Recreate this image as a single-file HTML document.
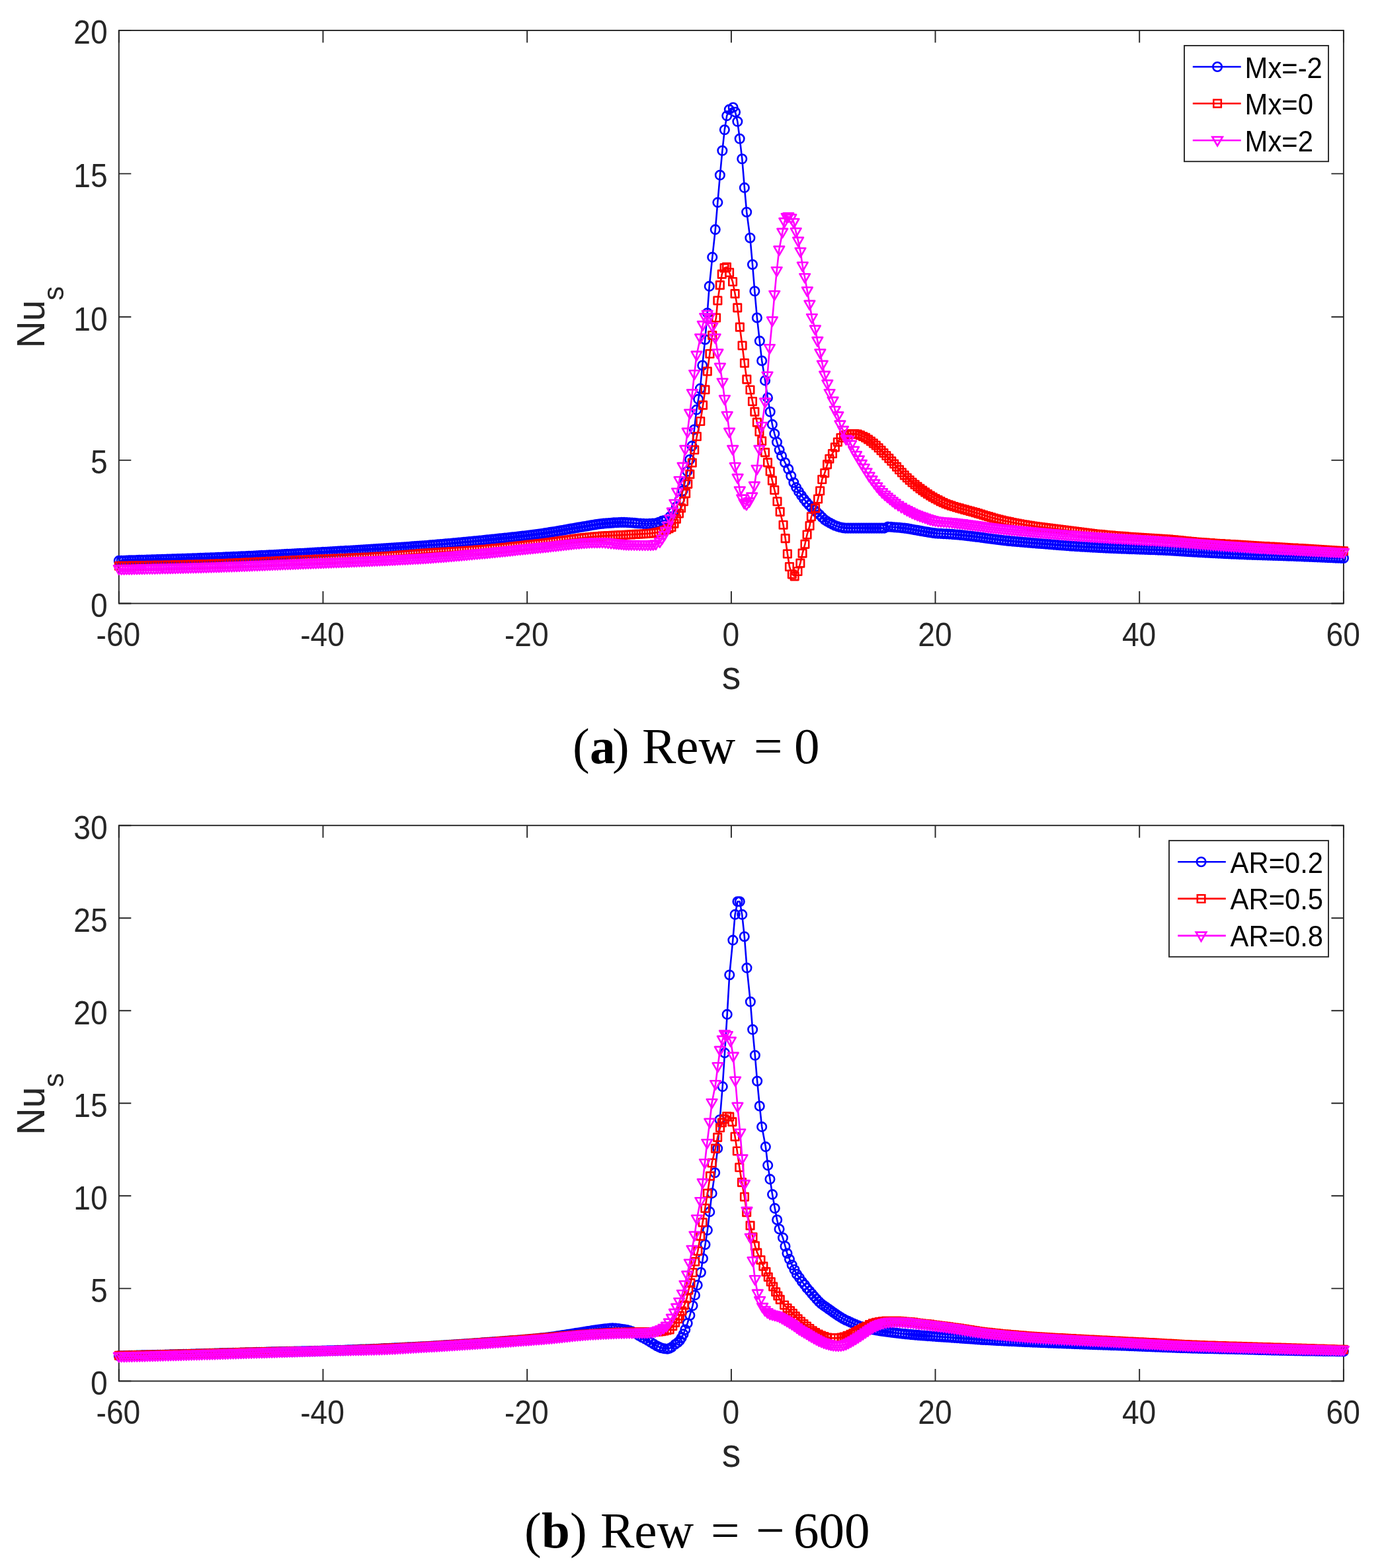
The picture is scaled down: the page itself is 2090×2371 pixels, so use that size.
<!DOCTYPE html>
<html lang="en">
<head>
<meta charset="utf-8">
<title>Nu_s versus s</title>
<style>
html,body{margin:0;padding:0;background:#fff;}
body{width:2090px;height:2371px;overflow:hidden;}
svg{display:block;}
text{font-family:"Liberation Sans",sans-serif;}
.tk{font-size:46.2px;fill:#262626;}
.lb{font-size:57.0px;fill:#262626;}
.sb{font-size:42.8px;}
.lg{font-size:41.8px;fill:#000;}
.cap{font-family:"Liberation Serif",serif;font-size:77px;fill:#000;}
.cap .b{font-weight:bold;}
</style>
</head>
<body>
<svg xmlns="http://www.w3.org/2000/svg" width="2090" height="2371" viewBox="0 0 2090 2371">
<rect width="2090" height="2371" fill="#fff"/>
<g stroke="#262626" stroke-width="1.9" fill="none" stroke-linecap="butt">
<rect x="179.8" y="46.0" width="1852.1" height="866.5"/>
<path d="M179.8 912.5v-18.5M179.8 46.0v18.5M488.5 912.5v-18.5M488.5 46.0v18.5M797.2 912.5v-18.5M797.2 46.0v18.5M1105.9 912.5v-18.5M1105.9 46.0v18.5M1414.5 912.5v-18.5M1414.5 46.0v18.5M1723.2 912.5v-18.5M1723.2 46.0v18.5M2031.9 912.5v-18.5M2031.9 46.0v18.5M179.8 912.5h18.5M2031.9 912.5h-18.5M179.8 695.9h18.5M2031.9 695.9h-18.5M179.8 479.2h18.5M2031.9 479.2h-18.5M179.8 262.6h18.5M2031.9 262.6h-18.5M179.8 46h18.5M2031.9 46h-18.5"/>
</g>
<text class="tk" transform="translate(178.9 976.6) scale(1.0 1.065)" text-anchor="middle">-60</text>
<text class="tk" transform="translate(487.6 976.6) scale(1.0 1.065)" text-anchor="middle">-40</text>
<text class="tk" transform="translate(796.3 976.6) scale(1.0 1.065)" text-anchor="middle">-20</text>
<text class="tk" transform="translate(1105.3 976.6) scale(1.0 1.065)" text-anchor="middle">0</text>
<text class="tk" transform="translate(1413.9 976.6) scale(1.0 1.065)" text-anchor="middle">20</text>
<text class="tk" transform="translate(1722.6 976.6) scale(1.0 1.065)" text-anchor="middle">40</text>
<text class="tk" transform="translate(2031.3 976.6) scale(1.0 1.065)" text-anchor="middle">60</text>
<text class="tk" transform="translate(162.7 932.9) scale(1.0 1.065)" text-anchor="end">0</text>
<text class="tk" transform="translate(162.7 716.3) scale(1.0 1.065)" text-anchor="end">5</text>
<text class="tk" transform="translate(162.7 499.6) scale(1.0 1.065)" text-anchor="end">10</text>
<text class="tk" transform="translate(162.7 283) scale(1.0 1.065)" text-anchor="end">15</text>
<text class="tk" transform="translate(162.7 66.4) scale(1.0 1.065)" text-anchor="end">20</text>
<text class="lb" transform="translate(1105.9 1041.8) scale(1.0 1.065)" text-anchor="middle">s</text>
<text class="lb" transform="translate(66.9 526.6) rotate(-90) scale(1.0 1.03)">Nu<tspan class="sb" dx="-0.4" dy="27.9">s</tspan></text>
<g stroke="#0000ff" stroke-width="2.6" fill="none" stroke-linejoin="round"><path d="M179.8 847.9L183.7 847.8L187.5 847.7L191.4 847.6L195.2 847.4L199.1 847.3L203 847.2L206.8 847.1L210.7 846.9L214.5 846.8L218.4 846.7L222.2 846.6L226.1 846.5L230 846.3L233.8 846.2L237.7 846.1L241.5 846L245.4 845.8L249.3 845.7L253.1 845.6L257 845.5L260.8 845.4L264.7 845.2L268.5 845.1L272.4 845L276.3 844.8L280.1 844.7L284 844.6L287.8 844.5L291.7 844.3L295.6 844.2L299.4 844.1L303.3 843.9L307.1 843.8L311 843.6L314.8 843.5L318.7 843.4L322.6 843.2L326.4 843.1L330.3 842.9L334.1 842.7L338 842.6L341.9 842.4L345.7 842.3L349.6 842.1L353.4 841.9L357.3 841.8L361.2 841.6L365 841.4L368.9 841.2L372.7 841.1L376.6 840.9L380.4 840.7L384.3 840.5L388.2 840.3L392 840.1L395.9 839.9L399.7 839.8L403.6 839.6L407.5 839.4L411.3 839.2L415.2 839L419 838.8L422.9 838.6L426.7 838.4L430.6 838.1L434.5 837.9L438.3 837.7L442.2 837.5L446 837.3L449.9 837.1L453.8 836.9L457.6 836.7L461.5 836.5L465.3 836.3L469.2 836L473 835.8L476.9 835.6L480.8 835.4L484.6 835.2L488.5 834.9L492.3 834.7L496.2 834.5L500.1 834.3L503.9 834.1L507.8 833.8L511.6 833.6L515.5 833.4L519.4 833.2L523.2 832.9L527.1 832.7L530.9 832.5L534.8 832.3L538.6 832L542.5 831.8L546.4 831.6L550.2 831.3L554.1 831.1L557.9 830.8L561.8 830.6L565.7 830.3L569.5 830.1L573.4 829.9L577.2 829.6L581.1 829.4L584.9 829.1L588.8 828.8L592.7 828.6L596.5 828.3L600.4 828.1L604.2 827.8L608.1 827.5L612 827.3L615.8 827L619.7 826.7L623.5 826.4L627.4 826.1L631.2 825.9L635.1 825.6L639 825.3L642.8 825L646.8 824.7L650.7 824.4L654.6 824.1L658.5 823.7L662.5 823.4L666.4 823.1L670.3 822.7L674.3 822.4L678.2 822.1L682.1 821.7L686 821.3L690 821L693.9 820.6L697.8 820.3L701.8 819.9L705.7 819.5L709.6 819.1L713.5 818.7L717.5 818.4L721.4 818L725.3 817.6L729.3 817.2L733.1 816.8L736.9 816.4L740.7 816L744.6 815.6L748.4 815.2L752.2 814.8L756 814.4L759.9 814L763.7 813.6L767.5 813.2L771.3 812.8L775.2 812.4L779 812L782.8 811.5L786.6 811.1L790.5 810.6L794.3 810.2L798.1 809.7L801.9 809.2L805.8 808.7L809.6 808.2L813.4 807.7L817.2 807.2L821 806.7L824.9 806.1L828.7 805.5L832.5 804.9L836.3 804.3L840.1 803.7L843.9 803L847.7 802.3L851.5 801.7L855.4 801L859.2 800.3L863 799.6L866.8 799L870.6 798.3L874.4 797.6L878.2 797L882.1 796.4L885.9 795.7L889.8 795.1L893.6 794.4L897.5 793.7L901.3 793.1L905.2 792.5L909.1 792L912.9 791.6L916.8 791.3L920.6 791L924.5 790.7L928.4 790.4L932.2 790.2L936.1 790L939.9 789.9L943.8 789.9L947.8 790L951.8 790.2L955.8 790.5L959.8 790.9L963.9 791.2L968.5 791.5L973.1 791.9L977.7 792.1L982.4 791.9L987 791.6L991.6 791.2L996.3 789.8L1001.1 787.9L1004.5 787.1L1008 786L1013.4 781.2L1018.2 774.3L1023 766.1L1027.8 755.7L1032.5 742.2L1036 728.4L1039.5 712.8L1043.2 695L1046.6 674.4L1050 649.5L1053.4 619.6L1056.2 603.6L1058.9 587.6L1062.2 552.5L1066.3 513.5L1069.7 473.2L1072.7 432.9L1077.3 388.9L1081.8 347.1L1085.3 306.1L1088.9 264.8L1092.4 227.8L1095.8 196.3L1099.2 175.1L1102.9 165.6L1108.7 162.5L1112 169.5L1115.3 183.8L1118.7 209.8L1122.3 240.3L1125.9 283.9L1129.2 320.7L1134.4 359.7L1138 400L1141.3 440.3L1144.9 480.5L1148.8 515.6L1152.2 545.5L1157.1 575.4L1160.9 601.4L1164.7 622.7L1167.9 641.9L1171.3 656L1175 668.6L1178.7 680.3L1182.1 689.4L1187.2 699.5L1192.3 709.3L1196.3 719.6L1200.3 729.7L1204.2 737.1L1208 743.5L1212 749.3L1215.9 754.6L1219.8 759.5L1223.6 763.9L1227.5 767.7L1231.5 771.3L1235.4 774.7L1239.4 778.2L1243.3 782.3L1247.2 786L1251.2 788.6L1255.1 790.8L1259 792.9L1262.8 794.7L1266.8 796.1L1270.7 797.3L1274.6 798.1L1278.6 798.6L1282.5 798.6L1286.5 798.6L1290.5 798.6L1294.5 798.6L1298.5 798.6L1302.5 798.6L1306.5 798.6L1310.4 798.6L1314.2 798.6L1318.1 798.6L1321.9 798.6L1325.8 798.6L1329.6 798.6L1333.5 798.6L1337.4 798.6L1342.8 796.6L1347.5 796.8L1352.2 797.3L1356.1 797.5L1360 797.8L1363.9 798.2L1367.8 798.6L1371.7 799.1L1375.6 799.7L1379.5 800.5L1383.4 801.2L1387.3 801.9L1391.2 802.6L1395.2 803.3L1399.1 804L1403 804.6L1406.8 805.3L1410.7 805.9L1414.5 806.4L1418.8 806.7L1423 806.9L1427.2 807.2L1431.4 807.4L1435.6 807.6L1439.8 807.9L1443.8 808.2L1447.7 808.5L1451.7 808.9L1455.6 809.3L1459.6 809.7L1463.5 810.2L1467.5 810.6L1471.4 811.1L1475.3 811.6L1479.3 812L1483.2 812.6L1487.2 813.1L1491.1 813.7L1495.1 814.2L1499 814.8L1503 815.3L1506.9 815.8L1510.8 816.3L1514.8 816.8L1518.8 817.2L1522.7 817.6L1526.7 818L1530.6 818.4L1534.6 818.7L1538.6 819.1L1542.5 819.4L1546.5 819.8L1550.4 820.1L1554.4 820.4L1558.3 820.8L1562.3 821.1L1566.2 821.4L1570.2 821.7L1574.1 822L1578 822.3L1582 822.6L1585.9 822.9L1589.9 823.2L1593.8 823.6L1597.8 823.9L1601.7 824.2L1605.7 824.5L1609.6 824.8L1613.5 825.1L1617.5 825.4L1621.4 825.7L1625.4 825.9L1629.3 826.2L1633.3 826.4L1637.2 826.7L1641.2 826.9L1645.1 827.1L1649 827.4L1653 827.6L1656.9 827.8L1660.9 828L1664.8 828.2L1668.8 828.4L1672.7 828.6L1676.7 828.8L1680.6 829L1684.5 829.1L1688.5 829.3L1692.4 829.5L1696.4 829.6L1700.3 829.8L1704.3 829.9L1708.2 830.1L1712.2 830.2L1716.1 830.3L1720 830.5L1724 830.6L1727.9 830.8L1731.9 830.9L1735.9 831L1739.8 831.2L1743.8 831.3L1747.8 831.4L1751.7 831.6L1755.7 831.7L1759.6 831.9L1763.6 832.1L1767.6 832.3L1771.5 832.5L1775.5 832.8L1779.5 833L1783.4 833.2L1787.4 833.5L1791.4 833.8L1795.3 834L1799.3 834.3L1803.3 834.5L1807.2 834.7L1811.2 834.9L1815.1 835.2L1819.1 835.4L1823 835.6L1827 835.8L1830.9 836L1834.9 836.2L1838.8 836.4L1842.7 836.6L1846.7 836.8L1850.6 837L1854.6 837.2L1858.5 837.4L1862.5 837.6L1866.4 837.7L1870.4 837.9L1874.3 838.1L1878.2 838.3L1882.2 838.4L1886.1 838.6L1890.1 838.7L1894 838.9L1898 839L1901.9 839.1L1905.9 839.3L1909.8 839.4L1913.7 839.5L1917.7 839.6L1921.6 839.8L1925.6 839.9L1929.5 840L1933.5 840.1L1937.4 840.3L1941.4 840.4L1945.3 840.5L1949.2 840.7L1953.2 840.8L1957.1 840.9L1961.1 841.1L1965 841.2L1968.9 841.4L1972.9 841.6L1976.8 841.7L1980.7 841.9L1984.7 842L1988.6 842.2L1992.5 842.4L1996.5 842.5L2000.4 842.7L2004.4 842.9L2008.3 843.1L2012.2 843.2L2016.2 843.4L2020.1 843.6L2024 843.7L2028 843.9L2031.9 844"/><path d="M173.1 847.9a6.75 6.75 0 1 0 13.5 0a6.75 6.75 0 1 0 -13.5 0zM176.9 847.8a6.75 6.75 0 1 0 13.5 0a6.75 6.75 0 1 0 -13.5 0zM180.8 847.7a6.75 6.75 0 1 0 13.5 0a6.75 6.75 0 1 0 -13.5 0zM184.6 847.6a6.75 6.75 0 1 0 13.5 0a6.75 6.75 0 1 0 -13.5 0zM188.5 847.4a6.75 6.75 0 1 0 13.5 0a6.75 6.75 0 1 0 -13.5 0zM192.3 847.3a6.75 6.75 0 1 0 13.5 0a6.75 6.75 0 1 0 -13.5 0zM196.2 847.2a6.75 6.75 0 1 0 13.5 0a6.75 6.75 0 1 0 -13.5 0zM200.1 847.1a6.75 6.75 0 1 0 13.5 0a6.75 6.75 0 1 0 -13.5 0zM203.9 846.9a6.75 6.75 0 1 0 13.5 0a6.75 6.75 0 1 0 -13.5 0zM207.8 846.8a6.75 6.75 0 1 0 13.5 0a6.75 6.75 0 1 0 -13.5 0zM211.6 846.7a6.75 6.75 0 1 0 13.5 0a6.75 6.75 0 1 0 -13.5 0zM215.5 846.6a6.75 6.75 0 1 0 13.5 0a6.75 6.75 0 1 0 -13.5 0zM219.4 846.5a6.75 6.75 0 1 0 13.5 0a6.75 6.75 0 1 0 -13.5 0zM223.2 846.3a6.75 6.75 0 1 0 13.5 0a6.75 6.75 0 1 0 -13.5 0zM227.1 846.2a6.75 6.75 0 1 0 13.5 0a6.75 6.75 0 1 0 -13.5 0zM230.9 846.1a6.75 6.75 0 1 0 13.5 0a6.75 6.75 0 1 0 -13.5 0zM234.8 846a6.75 6.75 0 1 0 13.5 0a6.75 6.75 0 1 0 -13.5 0zM238.6 845.8a6.75 6.75 0 1 0 13.5 0a6.75 6.75 0 1 0 -13.5 0zM242.5 845.7a6.75 6.75 0 1 0 13.5 0a6.75 6.75 0 1 0 -13.5 0zM246.4 845.6a6.75 6.75 0 1 0 13.5 0a6.75 6.75 0 1 0 -13.5 0zM250.2 845.5a6.75 6.75 0 1 0 13.5 0a6.75 6.75 0 1 0 -13.5 0zM254.1 845.4a6.75 6.75 0 1 0 13.5 0a6.75 6.75 0 1 0 -13.5 0zM257.9 845.2a6.75 6.75 0 1 0 13.5 0a6.75 6.75 0 1 0 -13.5 0zM261.8 845.1a6.75 6.75 0 1 0 13.5 0a6.75 6.75 0 1 0 -13.5 0zM265.7 845a6.75 6.75 0 1 0 13.5 0a6.75 6.75 0 1 0 -13.5 0zM269.5 844.8a6.75 6.75 0 1 0 13.5 0a6.75 6.75 0 1 0 -13.5 0zM273.4 844.7a6.75 6.75 0 1 0 13.5 0a6.75 6.75 0 1 0 -13.5 0zM277.2 844.6a6.75 6.75 0 1 0 13.5 0a6.75 6.75 0 1 0 -13.5 0zM281.1 844.5a6.75 6.75 0 1 0 13.5 0a6.75 6.75 0 1 0 -13.5 0zM284.9 844.3a6.75 6.75 0 1 0 13.5 0a6.75 6.75 0 1 0 -13.5 0zM288.8 844.2a6.75 6.75 0 1 0 13.5 0a6.75 6.75 0 1 0 -13.5 0zM292.7 844.1a6.75 6.75 0 1 0 13.5 0a6.75 6.75 0 1 0 -13.5 0zM296.5 843.9a6.75 6.75 0 1 0 13.5 0a6.75 6.75 0 1 0 -13.5 0zM300.4 843.8a6.75 6.75 0 1 0 13.5 0a6.75 6.75 0 1 0 -13.5 0zM304.2 843.6a6.75 6.75 0 1 0 13.5 0a6.75 6.75 0 1 0 -13.5 0zM308.1 843.5a6.75 6.75 0 1 0 13.5 0a6.75 6.75 0 1 0 -13.5 0zM312 843.4a6.75 6.75 0 1 0 13.5 0a6.75 6.75 0 1 0 -13.5 0zM315.8 843.2a6.75 6.75 0 1 0 13.5 0a6.75 6.75 0 1 0 -13.5 0zM319.7 843.1a6.75 6.75 0 1 0 13.5 0a6.75 6.75 0 1 0 -13.5 0zM323.5 842.9a6.75 6.75 0 1 0 13.5 0a6.75 6.75 0 1 0 -13.5 0zM327.4 842.7a6.75 6.75 0 1 0 13.5 0a6.75 6.75 0 1 0 -13.5 0zM331.3 842.6a6.75 6.75 0 1 0 13.5 0a6.75 6.75 0 1 0 -13.5 0zM335.1 842.4a6.75 6.75 0 1 0 13.5 0a6.75 6.75 0 1 0 -13.5 0zM339 842.3a6.75 6.75 0 1 0 13.5 0a6.75 6.75 0 1 0 -13.5 0zM342.8 842.1a6.75 6.75 0 1 0 13.5 0a6.75 6.75 0 1 0 -13.5 0zM346.7 841.9a6.75 6.75 0 1 0 13.5 0a6.75 6.75 0 1 0 -13.5 0zM350.5 841.8a6.75 6.75 0 1 0 13.5 0a6.75 6.75 0 1 0 -13.5 0zM354.4 841.6a6.75 6.75 0 1 0 13.5 0a6.75 6.75 0 1 0 -13.5 0zM358.3 841.4a6.75 6.75 0 1 0 13.5 0a6.75 6.75 0 1 0 -13.5 0zM362.1 841.2a6.75 6.75 0 1 0 13.5 0a6.75 6.75 0 1 0 -13.5 0zM366 841.1a6.75 6.75 0 1 0 13.5 0a6.75 6.75 0 1 0 -13.5 0zM369.8 840.9a6.75 6.75 0 1 0 13.5 0a6.75 6.75 0 1 0 -13.5 0zM373.7 840.7a6.75 6.75 0 1 0 13.5 0a6.75 6.75 0 1 0 -13.5 0zM377.6 840.5a6.75 6.75 0 1 0 13.5 0a6.75 6.75 0 1 0 -13.5 0zM381.4 840.3a6.75 6.75 0 1 0 13.5 0a6.75 6.75 0 1 0 -13.5 0zM385.3 840.1a6.75 6.75 0 1 0 13.5 0a6.75 6.75 0 1 0 -13.5 0zM389.1 839.9a6.75 6.75 0 1 0 13.5 0a6.75 6.75 0 1 0 -13.5 0zM393 839.8a6.75 6.75 0 1 0 13.5 0a6.75 6.75 0 1 0 -13.5 0zM396.8 839.6a6.75 6.75 0 1 0 13.5 0a6.75 6.75 0 1 0 -13.5 0zM400.7 839.4a6.75 6.75 0 1 0 13.5 0a6.75 6.75 0 1 0 -13.5 0zM404.6 839.2a6.75 6.75 0 1 0 13.5 0a6.75 6.75 0 1 0 -13.5 0zM408.4 839a6.75 6.75 0 1 0 13.5 0a6.75 6.75 0 1 0 -13.5 0zM412.3 838.8a6.75 6.75 0 1 0 13.5 0a6.75 6.75 0 1 0 -13.5 0zM416.1 838.6a6.75 6.75 0 1 0 13.5 0a6.75 6.75 0 1 0 -13.5 0zM420 838.4a6.75 6.75 0 1 0 13.5 0a6.75 6.75 0 1 0 -13.5 0zM423.9 838.1a6.75 6.75 0 1 0 13.5 0a6.75 6.75 0 1 0 -13.5 0zM427.7 837.9a6.75 6.75 0 1 0 13.5 0a6.75 6.75 0 1 0 -13.5 0zM431.6 837.7a6.75 6.75 0 1 0 13.5 0a6.75 6.75 0 1 0 -13.5 0zM435.4 837.5a6.75 6.75 0 1 0 13.5 0a6.75 6.75 0 1 0 -13.5 0zM439.3 837.3a6.75 6.75 0 1 0 13.5 0a6.75 6.75 0 1 0 -13.5 0zM443.1 837.1a6.75 6.75 0 1 0 13.5 0a6.75 6.75 0 1 0 -13.5 0zM447 836.9a6.75 6.75 0 1 0 13.5 0a6.75 6.75 0 1 0 -13.5 0zM450.9 836.7a6.75 6.75 0 1 0 13.5 0a6.75 6.75 0 1 0 -13.5 0zM454.7 836.5a6.75 6.75 0 1 0 13.5 0a6.75 6.75 0 1 0 -13.5 0zM458.6 836.3a6.75 6.75 0 1 0 13.5 0a6.75 6.75 0 1 0 -13.5 0zM462.4 836a6.75 6.75 0 1 0 13.5 0a6.75 6.75 0 1 0 -13.5 0zM466.3 835.8a6.75 6.75 0 1 0 13.5 0a6.75 6.75 0 1 0 -13.5 0zM470.2 835.6a6.75 6.75 0 1 0 13.5 0a6.75 6.75 0 1 0 -13.5 0zM474 835.4a6.75 6.75 0 1 0 13.5 0a6.75 6.75 0 1 0 -13.5 0zM477.9 835.2a6.75 6.75 0 1 0 13.5 0a6.75 6.75 0 1 0 -13.5 0zM481.7 834.9a6.75 6.75 0 1 0 13.5 0a6.75 6.75 0 1 0 -13.5 0zM485.6 834.7a6.75 6.75 0 1 0 13.5 0a6.75 6.75 0 1 0 -13.5 0zM489.5 834.5a6.75 6.75 0 1 0 13.5 0a6.75 6.75 0 1 0 -13.5 0zM493.3 834.3a6.75 6.75 0 1 0 13.5 0a6.75 6.75 0 1 0 -13.5 0zM497.2 834.1a6.75 6.75 0 1 0 13.5 0a6.75 6.75 0 1 0 -13.5 0zM501 833.8a6.75 6.75 0 1 0 13.5 0a6.75 6.75 0 1 0 -13.5 0zM504.9 833.6a6.75 6.75 0 1 0 13.5 0a6.75 6.75 0 1 0 -13.5 0zM508.7 833.4a6.75 6.75 0 1 0 13.5 0a6.75 6.75 0 1 0 -13.5 0zM512.6 833.2a6.75 6.75 0 1 0 13.5 0a6.75 6.75 0 1 0 -13.5 0zM516.5 832.9a6.75 6.75 0 1 0 13.5 0a6.75 6.75 0 1 0 -13.5 0zM520.3 832.7a6.75 6.75 0 1 0 13.5 0a6.75 6.75 0 1 0 -13.5 0zM524.2 832.5a6.75 6.75 0 1 0 13.5 0a6.75 6.75 0 1 0 -13.5 0zM528 832.3a6.75 6.75 0 1 0 13.5 0a6.75 6.75 0 1 0 -13.5 0zM531.9 832a6.75 6.75 0 1 0 13.5 0a6.75 6.75 0 1 0 -13.5 0zM535.8 831.8a6.75 6.75 0 1 0 13.5 0a6.75 6.75 0 1 0 -13.5 0zM539.6 831.6a6.75 6.75 0 1 0 13.5 0a6.75 6.75 0 1 0 -13.5 0zM543.5 831.3a6.75 6.75 0 1 0 13.5 0a6.75 6.75 0 1 0 -13.5 0zM547.3 831.1a6.75 6.75 0 1 0 13.5 0a6.75 6.75 0 1 0 -13.5 0zM551.2 830.8a6.75 6.75 0 1 0 13.5 0a6.75 6.75 0 1 0 -13.5 0zM555 830.6a6.75 6.75 0 1 0 13.5 0a6.75 6.75 0 1 0 -13.5 0zM558.9 830.3a6.75 6.75 0 1 0 13.5 0a6.75 6.75 0 1 0 -13.5 0zM562.8 830.1a6.75 6.75 0 1 0 13.5 0a6.75 6.75 0 1 0 -13.5 0zM566.6 829.9a6.75 6.75 0 1 0 13.5 0a6.75 6.75 0 1 0 -13.5 0zM570.5 829.6a6.75 6.75 0 1 0 13.5 0a6.75 6.75 0 1 0 -13.5 0zM574.3 829.4a6.75 6.75 0 1 0 13.5 0a6.75 6.75 0 1 0 -13.5 0zM578.2 829.1a6.75 6.75 0 1 0 13.5 0a6.75 6.75 0 1 0 -13.5 0zM582.1 828.8a6.75 6.75 0 1 0 13.5 0a6.75 6.75 0 1 0 -13.5 0zM585.9 828.6a6.75 6.75 0 1 0 13.5 0a6.75 6.75 0 1 0 -13.5 0zM589.8 828.3a6.75 6.75 0 1 0 13.5 0a6.75 6.75 0 1 0 -13.5 0zM593.6 828.1a6.75 6.75 0 1 0 13.5 0a6.75 6.75 0 1 0 -13.5 0zM597.5 827.8a6.75 6.75 0 1 0 13.5 0a6.75 6.75 0 1 0 -13.5 0zM601.3 827.5a6.75 6.75 0 1 0 13.5 0a6.75 6.75 0 1 0 -13.5 0zM605.2 827.3a6.75 6.75 0 1 0 13.5 0a6.75 6.75 0 1 0 -13.5 0zM609.1 827a6.75 6.75 0 1 0 13.5 0a6.75 6.75 0 1 0 -13.5 0zM612.9 826.7a6.75 6.75 0 1 0 13.5 0a6.75 6.75 0 1 0 -13.5 0zM616.8 826.4a6.75 6.75 0 1 0 13.5 0a6.75 6.75 0 1 0 -13.5 0zM620.6 826.1a6.75 6.75 0 1 0 13.5 0a6.75 6.75 0 1 0 -13.5 0zM624.5 825.9a6.75 6.75 0 1 0 13.5 0a6.75 6.75 0 1 0 -13.5 0zM628.4 825.6a6.75 6.75 0 1 0 13.5 0a6.75 6.75 0 1 0 -13.5 0zM632.2 825.3a6.75 6.75 0 1 0 13.5 0a6.75 6.75 0 1 0 -13.5 0zM636.1 825a6.75 6.75 0 1 0 13.5 0a6.75 6.75 0 1 0 -13.5 0zM640 824.7a6.75 6.75 0 1 0 13.5 0a6.75 6.75 0 1 0 -13.5 0zM643.9 824.4a6.75 6.75 0 1 0 13.5 0a6.75 6.75 0 1 0 -13.5 0zM647.9 824.1a6.75 6.75 0 1 0 13.5 0a6.75 6.75 0 1 0 -13.5 0zM651.8 823.7a6.75 6.75 0 1 0 13.5 0a6.75 6.75 0 1 0 -13.5 0zM655.7 823.4a6.75 6.75 0 1 0 13.5 0a6.75 6.75 0 1 0 -13.5 0zM659.6 823.1a6.75 6.75 0 1 0 13.5 0a6.75 6.75 0 1 0 -13.5 0zM663.6 822.7a6.75 6.75 0 1 0 13.5 0a6.75 6.75 0 1 0 -13.5 0zM667.5 822.4a6.75 6.75 0 1 0 13.5 0a6.75 6.75 0 1 0 -13.5 0zM671.4 822.1a6.75 6.75 0 1 0 13.5 0a6.75 6.75 0 1 0 -13.5 0zM675.4 821.7a6.75 6.75 0 1 0 13.5 0a6.75 6.75 0 1 0 -13.5 0zM679.3 821.3a6.75 6.75 0 1 0 13.5 0a6.75 6.75 0 1 0 -13.5 0zM683.2 821a6.75 6.75 0 1 0 13.5 0a6.75 6.75 0 1 0 -13.5 0zM687.1 820.6a6.75 6.75 0 1 0 13.5 0a6.75 6.75 0 1 0 -13.5 0zM691.1 820.3a6.75 6.75 0 1 0 13.5 0a6.75 6.75 0 1 0 -13.5 0zM695 819.9a6.75 6.75 0 1 0 13.5 0a6.75 6.75 0 1 0 -13.5 0zM698.9 819.5a6.75 6.75 0 1 0 13.5 0a6.75 6.75 0 1 0 -13.5 0zM702.9 819.1a6.75 6.75 0 1 0 13.5 0a6.75 6.75 0 1 0 -13.5 0zM706.8 818.7a6.75 6.75 0 1 0 13.5 0a6.75 6.75 0 1 0 -13.5 0zM710.7 818.4a6.75 6.75 0 1 0 13.5 0a6.75 6.75 0 1 0 -13.5 0zM714.6 818a6.75 6.75 0 1 0 13.5 0a6.75 6.75 0 1 0 -13.5 0zM718.6 817.6a6.75 6.75 0 1 0 13.5 0a6.75 6.75 0 1 0 -13.5 0zM722.5 817.2a6.75 6.75 0 1 0 13.5 0a6.75 6.75 0 1 0 -13.5 0zM726.3 816.8a6.75 6.75 0 1 0 13.5 0a6.75 6.75 0 1 0 -13.5 0zM730.2 816.4a6.75 6.75 0 1 0 13.5 0a6.75 6.75 0 1 0 -13.5 0zM734 816a6.75 6.75 0 1 0 13.5 0a6.75 6.75 0 1 0 -13.5 0zM737.8 815.6a6.75 6.75 0 1 0 13.5 0a6.75 6.75 0 1 0 -13.5 0zM741.6 815.2a6.75 6.75 0 1 0 13.5 0a6.75 6.75 0 1 0 -13.5 0zM745.5 814.8a6.75 6.75 0 1 0 13.5 0a6.75 6.75 0 1 0 -13.5 0zM749.3 814.4a6.75 6.75 0 1 0 13.5 0a6.75 6.75 0 1 0 -13.5 0zM753.1 814a6.75 6.75 0 1 0 13.5 0a6.75 6.75 0 1 0 -13.5 0zM756.9 813.6a6.75 6.75 0 1 0 13.5 0a6.75 6.75 0 1 0 -13.5 0zM760.8 813.2a6.75 6.75 0 1 0 13.5 0a6.75 6.75 0 1 0 -13.5 0zM764.6 812.8a6.75 6.75 0 1 0 13.5 0a6.75 6.75 0 1 0 -13.5 0zM768.4 812.4a6.75 6.75 0 1 0 13.5 0a6.75 6.75 0 1 0 -13.5 0zM772.2 812a6.75 6.75 0 1 0 13.5 0a6.75 6.75 0 1 0 -13.5 0zM776.1 811.5a6.75 6.75 0 1 0 13.5 0a6.75 6.75 0 1 0 -13.5 0zM779.9 811.1a6.75 6.75 0 1 0 13.5 0a6.75 6.75 0 1 0 -13.5 0zM783.7 810.6a6.75 6.75 0 1 0 13.5 0a6.75 6.75 0 1 0 -13.5 0zM787.5 810.2a6.75 6.75 0 1 0 13.5 0a6.75 6.75 0 1 0 -13.5 0zM791.4 809.7a6.75 6.75 0 1 0 13.5 0a6.75 6.75 0 1 0 -13.5 0zM795.2 809.2a6.75 6.75 0 1 0 13.5 0a6.75 6.75 0 1 0 -13.5 0zM799 808.7a6.75 6.75 0 1 0 13.5 0a6.75 6.75 0 1 0 -13.5 0zM802.8 808.2a6.75 6.75 0 1 0 13.5 0a6.75 6.75 0 1 0 -13.5 0zM806.7 807.7a6.75 6.75 0 1 0 13.5 0a6.75 6.75 0 1 0 -13.5 0zM810.5 807.2a6.75 6.75 0 1 0 13.5 0a6.75 6.75 0 1 0 -13.5 0zM814.3 806.7a6.75 6.75 0 1 0 13.5 0a6.75 6.75 0 1 0 -13.5 0zM818.1 806.1a6.75 6.75 0 1 0 13.5 0a6.75 6.75 0 1 0 -13.5 0zM821.9 805.5a6.75 6.75 0 1 0 13.5 0a6.75 6.75 0 1 0 -13.5 0zM825.7 804.9a6.75 6.75 0 1 0 13.5 0a6.75 6.75 0 1 0 -13.5 0zM829.5 804.3a6.75 6.75 0 1 0 13.5 0a6.75 6.75 0 1 0 -13.5 0zM833.4 803.7a6.75 6.75 0 1 0 13.5 0a6.75 6.75 0 1 0 -13.5 0zM837.2 803a6.75 6.75 0 1 0 13.5 0a6.75 6.75 0 1 0 -13.5 0zM841 802.3a6.75 6.75 0 1 0 13.5 0a6.75 6.75 0 1 0 -13.5 0zM844.8 801.7a6.75 6.75 0 1 0 13.5 0a6.75 6.75 0 1 0 -13.5 0zM848.6 801a6.75 6.75 0 1 0 13.5 0a6.75 6.75 0 1 0 -13.5 0zM852.4 800.3a6.75 6.75 0 1 0 13.5 0a6.75 6.75 0 1 0 -13.5 0zM856.2 799.6a6.75 6.75 0 1 0 13.5 0a6.75 6.75 0 1 0 -13.5 0zM860.1 799a6.75 6.75 0 1 0 13.5 0a6.75 6.75 0 1 0 -13.5 0zM863.9 798.3a6.75 6.75 0 1 0 13.5 0a6.75 6.75 0 1 0 -13.5 0zM867.7 797.6a6.75 6.75 0 1 0 13.5 0a6.75 6.75 0 1 0 -13.5 0zM871.5 797a6.75 6.75 0 1 0 13.5 0a6.75 6.75 0 1 0 -13.5 0zM875.3 796.4a6.75 6.75 0 1 0 13.5 0a6.75 6.75 0 1 0 -13.5 0zM879.2 795.7a6.75 6.75 0 1 0 13.5 0a6.75 6.75 0 1 0 -13.5 0zM883 795.1a6.75 6.75 0 1 0 13.5 0a6.75 6.75 0 1 0 -13.5 0zM886.9 794.4a6.75 6.75 0 1 0 13.5 0a6.75 6.75 0 1 0 -13.5 0zM890.7 793.7a6.75 6.75 0 1 0 13.5 0a6.75 6.75 0 1 0 -13.5 0zM894.6 793.1a6.75 6.75 0 1 0 13.5 0a6.75 6.75 0 1 0 -13.5 0zM898.5 792.5a6.75 6.75 0 1 0 13.5 0a6.75 6.75 0 1 0 -13.5 0zM902.3 792a6.75 6.75 0 1 0 13.5 0a6.75 6.75 0 1 0 -13.5 0zM906.2 791.6a6.75 6.75 0 1 0 13.5 0a6.75 6.75 0 1 0 -13.5 0zM910 791.3a6.75 6.75 0 1 0 13.5 0a6.75 6.75 0 1 0 -13.5 0zM913.9 791a6.75 6.75 0 1 0 13.5 0a6.75 6.75 0 1 0 -13.5 0zM917.7 790.7a6.75 6.75 0 1 0 13.5 0a6.75 6.75 0 1 0 -13.5 0zM921.6 790.4a6.75 6.75 0 1 0 13.5 0a6.75 6.75 0 1 0 -13.5 0zM925.5 790.2a6.75 6.75 0 1 0 13.5 0a6.75 6.75 0 1 0 -13.5 0zM929.3 790a6.75 6.75 0 1 0 13.5 0a6.75 6.75 0 1 0 -13.5 0zM933.2 789.9a6.75 6.75 0 1 0 13.5 0a6.75 6.75 0 1 0 -13.5 0zM937 789.9a6.75 6.75 0 1 0 13.5 0a6.75 6.75 0 1 0 -13.5 0zM941.1 790a6.75 6.75 0 1 0 13.5 0a6.75 6.75 0 1 0 -13.5 0zM945.1 790.2a6.75 6.75 0 1 0 13.5 0a6.75 6.75 0 1 0 -13.5 0zM949.1 790.5a6.75 6.75 0 1 0 13.5 0a6.75 6.75 0 1 0 -13.5 0zM953.1 790.9a6.75 6.75 0 1 0 13.5 0a6.75 6.75 0 1 0 -13.5 0zM957.1 791.2a6.75 6.75 0 1 0 13.5 0a6.75 6.75 0 1 0 -13.5 0zM961.7 791.5a6.75 6.75 0 1 0 13.5 0a6.75 6.75 0 1 0 -13.5 0zM966.4 791.9a6.75 6.75 0 1 0 13.5 0a6.75 6.75 0 1 0 -13.5 0zM971 792.1a6.75 6.75 0 1 0 13.5 0a6.75 6.75 0 1 0 -13.5 0zM975.6 791.9a6.75 6.75 0 1 0 13.5 0a6.75 6.75 0 1 0 -13.5 0zM980.3 791.6a6.75 6.75 0 1 0 13.5 0a6.75 6.75 0 1 0 -13.5 0zM984.9 791.2a6.75 6.75 0 1 0 13.5 0a6.75 6.75 0 1 0 -13.5 0zM989.6 789.8a6.75 6.75 0 1 0 13.5 0a6.75 6.75 0 1 0 -13.5 0zM994.3 787.9a6.75 6.75 0 1 0 13.5 0a6.75 6.75 0 1 0 -13.5 0zM997.8 787.1a6.75 6.75 0 1 0 13.5 0a6.75 6.75 0 1 0 -13.5 0zM1001.2 786a6.75 6.75 0 1 0 13.5 0a6.75 6.75 0 1 0 -13.5 0zM1006.6 781.2a6.75 6.75 0 1 0 13.5 0a6.75 6.75 0 1 0 -13.5 0zM1011.4 774.3a6.75 6.75 0 1 0 13.5 0a6.75 6.75 0 1 0 -13.5 0zM1016.2 766.1a6.75 6.75 0 1 0 13.5 0a6.75 6.75 0 1 0 -13.5 0zM1021 755.7a6.75 6.75 0 1 0 13.5 0a6.75 6.75 0 1 0 -13.5 0zM1025.8 742.2a6.75 6.75 0 1 0 13.5 0a6.75 6.75 0 1 0 -13.5 0zM1029.3 728.4a6.75 6.75 0 1 0 13.5 0a6.75 6.75 0 1 0 -13.5 0zM1032.7 712.8a6.75 6.75 0 1 0 13.5 0a6.75 6.75 0 1 0 -13.5 0zM1036.4 695a6.75 6.75 0 1 0 13.5 0a6.75 6.75 0 1 0 -13.5 0zM1039.8 674.4a6.75 6.75 0 1 0 13.5 0a6.75 6.75 0 1 0 -13.5 0zM1043.2 649.5a6.75 6.75 0 1 0 13.5 0a6.75 6.75 0 1 0 -13.5 0zM1046.6 619.6a6.75 6.75 0 1 0 13.5 0a6.75 6.75 0 1 0 -13.5 0zM1049.4 603.6a6.75 6.75 0 1 0 13.5 0a6.75 6.75 0 1 0 -13.5 0zM1052.2 587.6a6.75 6.75 0 1 0 13.5 0a6.75 6.75 0 1 0 -13.5 0zM1055.5 552.5a6.75 6.75 0 1 0 13.5 0a6.75 6.75 0 1 0 -13.5 0zM1059.6 513.5a6.75 6.75 0 1 0 13.5 0a6.75 6.75 0 1 0 -13.5 0zM1063 473.2a6.75 6.75 0 1 0 13.5 0a6.75 6.75 0 1 0 -13.5 0zM1066 432.9a6.75 6.75 0 1 0 13.5 0a6.75 6.75 0 1 0 -13.5 0zM1070.5 388.9a6.75 6.75 0 1 0 13.5 0a6.75 6.75 0 1 0 -13.5 0zM1075 347.1a6.75 6.75 0 1 0 13.5 0a6.75 6.75 0 1 0 -13.5 0zM1078.6 306.1a6.75 6.75 0 1 0 13.5 0a6.75 6.75 0 1 0 -13.5 0zM1082.1 264.8a6.75 6.75 0 1 0 13.5 0a6.75 6.75 0 1 0 -13.5 0zM1085.6 227.8a6.75 6.75 0 1 0 13.5 0a6.75 6.75 0 1 0 -13.5 0zM1089.1 196.3a6.75 6.75 0 1 0 13.5 0a6.75 6.75 0 1 0 -13.5 0zM1092.5 175.1a6.75 6.75 0 1 0 13.5 0a6.75 6.75 0 1 0 -13.5 0zM1096.1 165.6a6.75 6.75 0 1 0 13.5 0a6.75 6.75 0 1 0 -13.5 0zM1101.9 162.5a6.75 6.75 0 1 0 13.5 0a6.75 6.75 0 1 0 -13.5 0zM1105.3 169.5a6.75 6.75 0 1 0 13.5 0a6.75 6.75 0 1 0 -13.5 0zM1108.6 183.8a6.75 6.75 0 1 0 13.5 0a6.75 6.75 0 1 0 -13.5 0zM1111.9 209.8a6.75 6.75 0 1 0 13.5 0a6.75 6.75 0 1 0 -13.5 0zM1115.5 240.3a6.75 6.75 0 1 0 13.5 0a6.75 6.75 0 1 0 -13.5 0zM1119.1 283.9a6.75 6.75 0 1 0 13.5 0a6.75 6.75 0 1 0 -13.5 0zM1122.4 320.7a6.75 6.75 0 1 0 13.5 0a6.75 6.75 0 1 0 -13.5 0zM1127.6 359.7a6.75 6.75 0 1 0 13.5 0a6.75 6.75 0 1 0 -13.5 0zM1131.2 400a6.75 6.75 0 1 0 13.5 0a6.75 6.75 0 1 0 -13.5 0zM1134.6 440.3a6.75 6.75 0 1 0 13.5 0a6.75 6.75 0 1 0 -13.5 0zM1138.1 480.5a6.75 6.75 0 1 0 13.5 0a6.75 6.75 0 1 0 -13.5 0zM1142.1 515.6a6.75 6.75 0 1 0 13.5 0a6.75 6.75 0 1 0 -13.5 0zM1145.4 545.5a6.75 6.75 0 1 0 13.5 0a6.75 6.75 0 1 0 -13.5 0zM1150.3 575.4a6.75 6.75 0 1 0 13.5 0a6.75 6.75 0 1 0 -13.5 0zM1154.2 601.4a6.75 6.75 0 1 0 13.5 0a6.75 6.75 0 1 0 -13.5 0zM1157.9 622.7a6.75 6.75 0 1 0 13.5 0a6.75 6.75 0 1 0 -13.5 0zM1161.1 641.9a6.75 6.75 0 1 0 13.5 0a6.75 6.75 0 1 0 -13.5 0zM1164.5 656a6.75 6.75 0 1 0 13.5 0a6.75 6.75 0 1 0 -13.5 0zM1168.2 668.6a6.75 6.75 0 1 0 13.5 0a6.75 6.75 0 1 0 -13.5 0zM1171.9 680.3a6.75 6.75 0 1 0 13.5 0a6.75 6.75 0 1 0 -13.5 0zM1175.3 689.4a6.75 6.75 0 1 0 13.5 0a6.75 6.75 0 1 0 -13.5 0zM1180.4 699.5a6.75 6.75 0 1 0 13.5 0a6.75 6.75 0 1 0 -13.5 0zM1185.5 709.3a6.75 6.75 0 1 0 13.5 0a6.75 6.75 0 1 0 -13.5 0zM1189.5 719.6a6.75 6.75 0 1 0 13.5 0a6.75 6.75 0 1 0 -13.5 0zM1193.6 729.7a6.75 6.75 0 1 0 13.5 0a6.75 6.75 0 1 0 -13.5 0zM1197.4 737.1a6.75 6.75 0 1 0 13.5 0a6.75 6.75 0 1 0 -13.5 0zM1201.3 743.5a6.75 6.75 0 1 0 13.5 0a6.75 6.75 0 1 0 -13.5 0zM1205.2 749.3a6.75 6.75 0 1 0 13.5 0a6.75 6.75 0 1 0 -13.5 0zM1209.1 754.6a6.75 6.75 0 1 0 13.5 0a6.75 6.75 0 1 0 -13.5 0zM1213 759.5a6.75 6.75 0 1 0 13.5 0a6.75 6.75 0 1 0 -13.5 0zM1216.9 763.9a6.75 6.75 0 1 0 13.5 0a6.75 6.75 0 1 0 -13.5 0zM1220.8 767.7a6.75 6.75 0 1 0 13.5 0a6.75 6.75 0 1 0 -13.5 0zM1224.7 771.3a6.75 6.75 0 1 0 13.5 0a6.75 6.75 0 1 0 -13.5 0zM1228.7 774.7a6.75 6.75 0 1 0 13.5 0a6.75 6.75 0 1 0 -13.5 0zM1232.6 778.2a6.75 6.75 0 1 0 13.5 0a6.75 6.75 0 1 0 -13.5 0zM1236.5 782.3a6.75 6.75 0 1 0 13.5 0a6.75 6.75 0 1 0 -13.5 0zM1240.5 786a6.75 6.75 0 1 0 13.5 0a6.75 6.75 0 1 0 -13.5 0zM1244.4 788.6a6.75 6.75 0 1 0 13.5 0a6.75 6.75 0 1 0 -13.5 0zM1248.3 790.8a6.75 6.75 0 1 0 13.5 0a6.75 6.75 0 1 0 -13.5 0zM1252.2 792.9a6.75 6.75 0 1 0 13.5 0a6.75 6.75 0 1 0 -13.5 0zM1256.1 794.7a6.75 6.75 0 1 0 13.5 0a6.75 6.75 0 1 0 -13.5 0zM1260 796.1a6.75 6.75 0 1 0 13.5 0a6.75 6.75 0 1 0 -13.5 0zM1263.9 797.3a6.75 6.75 0 1 0 13.5 0a6.75 6.75 0 1 0 -13.5 0zM1267.9 798.1a6.75 6.75 0 1 0 13.5 0a6.75 6.75 0 1 0 -13.5 0zM1271.8 798.6a6.75 6.75 0 1 0 13.5 0a6.75 6.75 0 1 0 -13.5 0zM1275.8 798.6a6.75 6.75 0 1 0 13.5 0a6.75 6.75 0 1 0 -13.5 0zM1279.8 798.6a6.75 6.75 0 1 0 13.5 0a6.75 6.75 0 1 0 -13.5 0zM1283.8 798.6a6.75 6.75 0 1 0 13.5 0a6.75 6.75 0 1 0 -13.5 0zM1287.8 798.6a6.75 6.75 0 1 0 13.5 0a6.75 6.75 0 1 0 -13.5 0zM1291.8 798.6a6.75 6.75 0 1 0 13.5 0a6.75 6.75 0 1 0 -13.5 0zM1295.8 798.6a6.75 6.75 0 1 0 13.5 0a6.75 6.75 0 1 0 -13.5 0zM1299.7 798.6a6.75 6.75 0 1 0 13.5 0a6.75 6.75 0 1 0 -13.5 0zM1303.6 798.6a6.75 6.75 0 1 0 13.5 0a6.75 6.75 0 1 0 -13.5 0zM1307.5 798.6a6.75 6.75 0 1 0 13.5 0a6.75 6.75 0 1 0 -13.5 0zM1311.3 798.6a6.75 6.75 0 1 0 13.5 0a6.75 6.75 0 1 0 -13.5 0zM1315.2 798.6a6.75 6.75 0 1 0 13.5 0a6.75 6.75 0 1 0 -13.5 0zM1319 798.6a6.75 6.75 0 1 0 13.5 0a6.75 6.75 0 1 0 -13.5 0zM1322.9 798.6a6.75 6.75 0 1 0 13.5 0a6.75 6.75 0 1 0 -13.5 0zM1326.8 798.6a6.75 6.75 0 1 0 13.5 0a6.75 6.75 0 1 0 -13.5 0zM1330.6 798.6a6.75 6.75 0 1 0 13.5 0a6.75 6.75 0 1 0 -13.5 0zM1336 796.6a6.75 6.75 0 1 0 13.5 0a6.75 6.75 0 1 0 -13.5 0zM1340.7 796.8a6.75 6.75 0 1 0 13.5 0a6.75 6.75 0 1 0 -13.5 0zM1345.4 797.3a6.75 6.75 0 1 0 13.5 0a6.75 6.75 0 1 0 -13.5 0zM1349.3 797.5a6.75 6.75 0 1 0 13.5 0a6.75 6.75 0 1 0 -13.5 0zM1353.2 797.8a6.75 6.75 0 1 0 13.5 0a6.75 6.75 0 1 0 -13.5 0zM1357.1 798.2a6.75 6.75 0 1 0 13.5 0a6.75 6.75 0 1 0 -13.5 0zM1361 798.6a6.75 6.75 0 1 0 13.5 0a6.75 6.75 0 1 0 -13.5 0zM1364.9 799.1a6.75 6.75 0 1 0 13.5 0a6.75 6.75 0 1 0 -13.5 0zM1368.8 799.7a6.75 6.75 0 1 0 13.5 0a6.75 6.75 0 1 0 -13.5 0zM1372.7 800.5a6.75 6.75 0 1 0 13.5 0a6.75 6.75 0 1 0 -13.5 0zM1376.6 801.2a6.75 6.75 0 1 0 13.5 0a6.75 6.75 0 1 0 -13.5 0zM1380.5 801.9a6.75 6.75 0 1 0 13.5 0a6.75 6.75 0 1 0 -13.5 0zM1384.5 802.6a6.75 6.75 0 1 0 13.5 0a6.75 6.75 0 1 0 -13.5 0zM1388.4 803.3a6.75 6.75 0 1 0 13.5 0a6.75 6.75 0 1 0 -13.5 0zM1392.3 804a6.75 6.75 0 1 0 13.5 0a6.75 6.75 0 1 0 -13.5 0zM1396.2 804.6a6.75 6.75 0 1 0 13.5 0a6.75 6.75 0 1 0 -13.5 0zM1400.1 805.3a6.75 6.75 0 1 0 13.5 0a6.75 6.75 0 1 0 -13.5 0zM1403.9 805.9a6.75 6.75 0 1 0 13.5 0a6.75 6.75 0 1 0 -13.5 0zM1407.8 806.4a6.75 6.75 0 1 0 13.5 0a6.75 6.75 0 1 0 -13.5 0zM1412 806.7a6.75 6.75 0 1 0 13.5 0a6.75 6.75 0 1 0 -13.5 0zM1416.2 806.9a6.75 6.75 0 1 0 13.5 0a6.75 6.75 0 1 0 -13.5 0zM1420.4 807.2a6.75 6.75 0 1 0 13.5 0a6.75 6.75 0 1 0 -13.5 0zM1424.7 807.4a6.75 6.75 0 1 0 13.5 0a6.75 6.75 0 1 0 -13.5 0zM1428.9 807.6a6.75 6.75 0 1 0 13.5 0a6.75 6.75 0 1 0 -13.5 0zM1433.1 807.9a6.75 6.75 0 1 0 13.5 0a6.75 6.75 0 1 0 -13.5 0zM1437 808.2a6.75 6.75 0 1 0 13.5 0a6.75 6.75 0 1 0 -13.5 0zM1441 808.5a6.75 6.75 0 1 0 13.5 0a6.75 6.75 0 1 0 -13.5 0zM1444.9 808.9a6.75 6.75 0 1 0 13.5 0a6.75 6.75 0 1 0 -13.5 0zM1448.9 809.3a6.75 6.75 0 1 0 13.5 0a6.75 6.75 0 1 0 -13.5 0zM1452.8 809.7a6.75 6.75 0 1 0 13.5 0a6.75 6.75 0 1 0 -13.5 0zM1456.8 810.2a6.75 6.75 0 1 0 13.5 0a6.75 6.75 0 1 0 -13.5 0zM1460.7 810.6a6.75 6.75 0 1 0 13.5 0a6.75 6.75 0 1 0 -13.5 0zM1464.6 811.1a6.75 6.75 0 1 0 13.5 0a6.75 6.75 0 1 0 -13.5 0zM1468.6 811.6a6.75 6.75 0 1 0 13.5 0a6.75 6.75 0 1 0 -13.5 0zM1472.5 812a6.75 6.75 0 1 0 13.5 0a6.75 6.75 0 1 0 -13.5 0zM1476.5 812.6a6.75 6.75 0 1 0 13.5 0a6.75 6.75 0 1 0 -13.5 0zM1480.4 813.1a6.75 6.75 0 1 0 13.5 0a6.75 6.75 0 1 0 -13.5 0zM1484.4 813.7a6.75 6.75 0 1 0 13.5 0a6.75 6.75 0 1 0 -13.5 0zM1488.3 814.2a6.75 6.75 0 1 0 13.5 0a6.75 6.75 0 1 0 -13.5 0zM1492.3 814.8a6.75 6.75 0 1 0 13.5 0a6.75 6.75 0 1 0 -13.5 0zM1496.2 815.3a6.75 6.75 0 1 0 13.5 0a6.75 6.75 0 1 0 -13.5 0zM1500.1 815.8a6.75 6.75 0 1 0 13.5 0a6.75 6.75 0 1 0 -13.5 0zM1504.1 816.3a6.75 6.75 0 1 0 13.5 0a6.75 6.75 0 1 0 -13.5 0zM1508.1 816.8a6.75 6.75 0 1 0 13.5 0a6.75 6.75 0 1 0 -13.5 0zM1512 817.2a6.75 6.75 0 1 0 13.5 0a6.75 6.75 0 1 0 -13.5 0zM1516 817.6a6.75 6.75 0 1 0 13.5 0a6.75 6.75 0 1 0 -13.5 0zM1519.9 818a6.75 6.75 0 1 0 13.5 0a6.75 6.75 0 1 0 -13.5 0zM1523.9 818.4a6.75 6.75 0 1 0 13.5 0a6.75 6.75 0 1 0 -13.5 0zM1527.9 818.7a6.75 6.75 0 1 0 13.5 0a6.75 6.75 0 1 0 -13.5 0zM1531.8 819.1a6.75 6.75 0 1 0 13.5 0a6.75 6.75 0 1 0 -13.5 0zM1535.8 819.4a6.75 6.75 0 1 0 13.5 0a6.75 6.75 0 1 0 -13.5 0zM1539.7 819.8a6.75 6.75 0 1 0 13.5 0a6.75 6.75 0 1 0 -13.5 0zM1543.7 820.1a6.75 6.75 0 1 0 13.5 0a6.75 6.75 0 1 0 -13.5 0zM1547.6 820.4a6.75 6.75 0 1 0 13.5 0a6.75 6.75 0 1 0 -13.5 0zM1551.6 820.8a6.75 6.75 0 1 0 13.5 0a6.75 6.75 0 1 0 -13.5 0zM1555.5 821.1a6.75 6.75 0 1 0 13.5 0a6.75 6.75 0 1 0 -13.5 0zM1559.5 821.4a6.75 6.75 0 1 0 13.5 0a6.75 6.75 0 1 0 -13.5 0zM1563.4 821.7a6.75 6.75 0 1 0 13.5 0a6.75 6.75 0 1 0 -13.5 0zM1567.4 822a6.75 6.75 0 1 0 13.5 0a6.75 6.75 0 1 0 -13.5 0zM1571.3 822.3a6.75 6.75 0 1 0 13.5 0a6.75 6.75 0 1 0 -13.5 0zM1575.2 822.6a6.75 6.75 0 1 0 13.5 0a6.75 6.75 0 1 0 -13.5 0zM1579.2 822.9a6.75 6.75 0 1 0 13.5 0a6.75 6.75 0 1 0 -13.5 0zM1583.1 823.2a6.75 6.75 0 1 0 13.5 0a6.75 6.75 0 1 0 -13.5 0zM1587.1 823.6a6.75 6.75 0 1 0 13.5 0a6.75 6.75 0 1 0 -13.5 0zM1591 823.9a6.75 6.75 0 1 0 13.5 0a6.75 6.75 0 1 0 -13.5 0zM1595 824.2a6.75 6.75 0 1 0 13.5 0a6.75 6.75 0 1 0 -13.5 0zM1598.9 824.5a6.75 6.75 0 1 0 13.5 0a6.75 6.75 0 1 0 -13.5 0zM1602.9 824.8a6.75 6.75 0 1 0 13.5 0a6.75 6.75 0 1 0 -13.5 0zM1606.8 825.1a6.75 6.75 0 1 0 13.5 0a6.75 6.75 0 1 0 -13.5 0zM1610.7 825.4a6.75 6.75 0 1 0 13.5 0a6.75 6.75 0 1 0 -13.5 0zM1614.7 825.7a6.75 6.75 0 1 0 13.5 0a6.75 6.75 0 1 0 -13.5 0zM1618.6 825.9a6.75 6.75 0 1 0 13.5 0a6.75 6.75 0 1 0 -13.5 0zM1622.6 826.2a6.75 6.75 0 1 0 13.5 0a6.75 6.75 0 1 0 -13.5 0zM1626.5 826.4a6.75 6.75 0 1 0 13.5 0a6.75 6.75 0 1 0 -13.5 0zM1630.5 826.7a6.75 6.75 0 1 0 13.5 0a6.75 6.75 0 1 0 -13.5 0zM1634.4 826.9a6.75 6.75 0 1 0 13.5 0a6.75 6.75 0 1 0 -13.5 0zM1638.4 827.1a6.75 6.75 0 1 0 13.5 0a6.75 6.75 0 1 0 -13.5 0zM1642.3 827.4a6.75 6.75 0 1 0 13.5 0a6.75 6.75 0 1 0 -13.5 0zM1646.2 827.6a6.75 6.75 0 1 0 13.5 0a6.75 6.75 0 1 0 -13.5 0zM1650.2 827.8a6.75 6.75 0 1 0 13.5 0a6.75 6.75 0 1 0 -13.5 0zM1654.1 828a6.75 6.75 0 1 0 13.5 0a6.75 6.75 0 1 0 -13.5 0zM1658.1 828.2a6.75 6.75 0 1 0 13.5 0a6.75 6.75 0 1 0 -13.5 0zM1662 828.4a6.75 6.75 0 1 0 13.5 0a6.75 6.75 0 1 0 -13.5 0zM1666 828.6a6.75 6.75 0 1 0 13.5 0a6.75 6.75 0 1 0 -13.5 0zM1669.9 828.8a6.75 6.75 0 1 0 13.5 0a6.75 6.75 0 1 0 -13.5 0zM1673.9 829a6.75 6.75 0 1 0 13.5 0a6.75 6.75 0 1 0 -13.5 0zM1677.8 829.1a6.75 6.75 0 1 0 13.5 0a6.75 6.75 0 1 0 -13.5 0zM1681.7 829.3a6.75 6.75 0 1 0 13.5 0a6.75 6.75 0 1 0 -13.5 0zM1685.7 829.5a6.75 6.75 0 1 0 13.5 0a6.75 6.75 0 1 0 -13.5 0zM1689.6 829.6a6.75 6.75 0 1 0 13.5 0a6.75 6.75 0 1 0 -13.5 0zM1693.6 829.8a6.75 6.75 0 1 0 13.5 0a6.75 6.75 0 1 0 -13.5 0zM1697.5 829.9a6.75 6.75 0 1 0 13.5 0a6.75 6.75 0 1 0 -13.5 0zM1701.5 830.1a6.75 6.75 0 1 0 13.5 0a6.75 6.75 0 1 0 -13.5 0zM1705.4 830.2a6.75 6.75 0 1 0 13.5 0a6.75 6.75 0 1 0 -13.5 0zM1709.3 830.3a6.75 6.75 0 1 0 13.5 0a6.75 6.75 0 1 0 -13.5 0zM1713.3 830.5a6.75 6.75 0 1 0 13.5 0a6.75 6.75 0 1 0 -13.5 0zM1717.2 830.6a6.75 6.75 0 1 0 13.5 0a6.75 6.75 0 1 0 -13.5 0zM1721.2 830.8a6.75 6.75 0 1 0 13.5 0a6.75 6.75 0 1 0 -13.5 0zM1725.2 830.9a6.75 6.75 0 1 0 13.5 0a6.75 6.75 0 1 0 -13.5 0zM1729.1 831a6.75 6.75 0 1 0 13.5 0a6.75 6.75 0 1 0 -13.5 0zM1733.1 831.2a6.75 6.75 0 1 0 13.5 0a6.75 6.75 0 1 0 -13.5 0zM1737 831.3a6.75 6.75 0 1 0 13.5 0a6.75 6.75 0 1 0 -13.5 0zM1741 831.4a6.75 6.75 0 1 0 13.5 0a6.75 6.75 0 1 0 -13.5 0zM1745 831.6a6.75 6.75 0 1 0 13.5 0a6.75 6.75 0 1 0 -13.5 0zM1748.9 831.7a6.75 6.75 0 1 0 13.5 0a6.75 6.75 0 1 0 -13.5 0zM1752.9 831.9a6.75 6.75 0 1 0 13.5 0a6.75 6.75 0 1 0 -13.5 0zM1756.9 832.1a6.75 6.75 0 1 0 13.5 0a6.75 6.75 0 1 0 -13.5 0zM1760.8 832.3a6.75 6.75 0 1 0 13.5 0a6.75 6.75 0 1 0 -13.5 0zM1764.8 832.5a6.75 6.75 0 1 0 13.5 0a6.75 6.75 0 1 0 -13.5 0zM1768.8 832.8a6.75 6.75 0 1 0 13.5 0a6.75 6.75 0 1 0 -13.5 0zM1772.7 833a6.75 6.75 0 1 0 13.5 0a6.75 6.75 0 1 0 -13.5 0zM1776.7 833.2a6.75 6.75 0 1 0 13.5 0a6.75 6.75 0 1 0 -13.5 0zM1780.6 833.5a6.75 6.75 0 1 0 13.5 0a6.75 6.75 0 1 0 -13.5 0zM1784.6 833.8a6.75 6.75 0 1 0 13.5 0a6.75 6.75 0 1 0 -13.5 0zM1788.6 834a6.75 6.75 0 1 0 13.5 0a6.75 6.75 0 1 0 -13.5 0zM1792.5 834.3a6.75 6.75 0 1 0 13.5 0a6.75 6.75 0 1 0 -13.5 0zM1796.5 834.5a6.75 6.75 0 1 0 13.5 0a6.75 6.75 0 1 0 -13.5 0zM1800.5 834.7a6.75 6.75 0 1 0 13.5 0a6.75 6.75 0 1 0 -13.5 0zM1804.4 834.9a6.75 6.75 0 1 0 13.5 0a6.75 6.75 0 1 0 -13.5 0zM1808.4 835.2a6.75 6.75 0 1 0 13.5 0a6.75 6.75 0 1 0 -13.5 0zM1812.3 835.4a6.75 6.75 0 1 0 13.5 0a6.75 6.75 0 1 0 -13.5 0zM1816.3 835.6a6.75 6.75 0 1 0 13.5 0a6.75 6.75 0 1 0 -13.5 0zM1820.2 835.8a6.75 6.75 0 1 0 13.5 0a6.75 6.75 0 1 0 -13.5 0zM1824.2 836a6.75 6.75 0 1 0 13.5 0a6.75 6.75 0 1 0 -13.5 0zM1828.1 836.2a6.75 6.75 0 1 0 13.5 0a6.75 6.75 0 1 0 -13.5 0zM1832.1 836.4a6.75 6.75 0 1 0 13.5 0a6.75 6.75 0 1 0 -13.5 0zM1836 836.6a6.75 6.75 0 1 0 13.5 0a6.75 6.75 0 1 0 -13.5 0zM1839.9 836.8a6.75 6.75 0 1 0 13.5 0a6.75 6.75 0 1 0 -13.5 0zM1843.9 837a6.75 6.75 0 1 0 13.5 0a6.75 6.75 0 1 0 -13.5 0zM1847.8 837.2a6.75 6.75 0 1 0 13.5 0a6.75 6.75 0 1 0 -13.5 0zM1851.8 837.4a6.75 6.75 0 1 0 13.5 0a6.75 6.75 0 1 0 -13.5 0zM1855.7 837.6a6.75 6.75 0 1 0 13.5 0a6.75 6.75 0 1 0 -13.5 0zM1859.7 837.7a6.75 6.75 0 1 0 13.5 0a6.75 6.75 0 1 0 -13.5 0zM1863.6 837.9a6.75 6.75 0 1 0 13.5 0a6.75 6.75 0 1 0 -13.5 0zM1867.6 838.1a6.75 6.75 0 1 0 13.5 0a6.75 6.75 0 1 0 -13.5 0zM1871.5 838.3a6.75 6.75 0 1 0 13.5 0a6.75 6.75 0 1 0 -13.5 0zM1875.4 838.4a6.75 6.75 0 1 0 13.5 0a6.75 6.75 0 1 0 -13.5 0zM1879.4 838.6a6.75 6.75 0 1 0 13.5 0a6.75 6.75 0 1 0 -13.5 0zM1883.3 838.7a6.75 6.75 0 1 0 13.5 0a6.75 6.75 0 1 0 -13.5 0zM1887.3 838.9a6.75 6.75 0 1 0 13.5 0a6.75 6.75 0 1 0 -13.5 0zM1891.2 839a6.75 6.75 0 1 0 13.5 0a6.75 6.75 0 1 0 -13.5 0zM1895.2 839.1a6.75 6.75 0 1 0 13.5 0a6.75 6.75 0 1 0 -13.5 0zM1899.1 839.3a6.75 6.75 0 1 0 13.5 0a6.75 6.75 0 1 0 -13.5 0zM1903 839.4a6.75 6.75 0 1 0 13.5 0a6.75 6.75 0 1 0 -13.5 0zM1907 839.5a6.75 6.75 0 1 0 13.5 0a6.75 6.75 0 1 0 -13.5 0zM1910.9 839.6a6.75 6.75 0 1 0 13.5 0a6.75 6.75 0 1 0 -13.5 0zM1914.9 839.8a6.75 6.75 0 1 0 13.5 0a6.75 6.75 0 1 0 -13.5 0zM1918.8 839.9a6.75 6.75 0 1 0 13.5 0a6.75 6.75 0 1 0 -13.5 0zM1922.8 840a6.75 6.75 0 1 0 13.5 0a6.75 6.75 0 1 0 -13.5 0zM1926.7 840.1a6.75 6.75 0 1 0 13.5 0a6.75 6.75 0 1 0 -13.5 0zM1930.7 840.3a6.75 6.75 0 1 0 13.5 0a6.75 6.75 0 1 0 -13.5 0zM1934.6 840.4a6.75 6.75 0 1 0 13.5 0a6.75 6.75 0 1 0 -13.5 0zM1938.5 840.5a6.75 6.75 0 1 0 13.5 0a6.75 6.75 0 1 0 -13.5 0zM1942.5 840.7a6.75 6.75 0 1 0 13.5 0a6.75 6.75 0 1 0 -13.5 0zM1946.4 840.8a6.75 6.75 0 1 0 13.5 0a6.75 6.75 0 1 0 -13.5 0zM1950.4 840.9a6.75 6.75 0 1 0 13.5 0a6.75 6.75 0 1 0 -13.5 0zM1954.3 841.1a6.75 6.75 0 1 0 13.5 0a6.75 6.75 0 1 0 -13.5 0zM1958.2 841.2a6.75 6.75 0 1 0 13.5 0a6.75 6.75 0 1 0 -13.5 0zM1962.2 841.4a6.75 6.75 0 1 0 13.5 0a6.75 6.75 0 1 0 -13.5 0zM1966.1 841.6a6.75 6.75 0 1 0 13.5 0a6.75 6.75 0 1 0 -13.5 0zM1970.1 841.7a6.75 6.75 0 1 0 13.5 0a6.75 6.75 0 1 0 -13.5 0zM1974 841.9a6.75 6.75 0 1 0 13.5 0a6.75 6.75 0 1 0 -13.5 0zM1977.9 842a6.75 6.75 0 1 0 13.5 0a6.75 6.75 0 1 0 -13.5 0zM1981.9 842.2a6.75 6.75 0 1 0 13.5 0a6.75 6.75 0 1 0 -13.5 0zM1985.8 842.4a6.75 6.75 0 1 0 13.5 0a6.75 6.75 0 1 0 -13.5 0zM1989.7 842.5a6.75 6.75 0 1 0 13.5 0a6.75 6.75 0 1 0 -13.5 0zM1993.7 842.7a6.75 6.75 0 1 0 13.5 0a6.75 6.75 0 1 0 -13.5 0zM1997.6 842.9a6.75 6.75 0 1 0 13.5 0a6.75 6.75 0 1 0 -13.5 0zM2001.5 843.1a6.75 6.75 0 1 0 13.5 0a6.75 6.75 0 1 0 -13.5 0zM2005.5 843.2a6.75 6.75 0 1 0 13.5 0a6.75 6.75 0 1 0 -13.5 0zM2009.4 843.4a6.75 6.75 0 1 0 13.5 0a6.75 6.75 0 1 0 -13.5 0zM2013.3 843.6a6.75 6.75 0 1 0 13.5 0a6.75 6.75 0 1 0 -13.5 0zM2017.3 843.7a6.75 6.75 0 1 0 13.5 0a6.75 6.75 0 1 0 -13.5 0zM2021.2 843.9a6.75 6.75 0 1 0 13.5 0a6.75 6.75 0 1 0 -13.5 0zM2025.2 844a6.75 6.75 0 1 0 13.5 0a6.75 6.75 0 1 0 -13.5 0z"/></g>
<g stroke="#ff0000" stroke-width="2.6" fill="none" stroke-linejoin="round"><path d="M179.8 855.7L183.7 855.7L187.6 855.6L191.4 855.5L195.3 855.4L199.2 855.4L203.1 855.3L207 855.2L210.9 855.2L214.7 855.1L218.6 855L222.5 854.9L226.4 854.9L230.3 854.8L234.1 854.7L238 854.7L241.9 854.6L245.8 854.5L249.7 854.5L253.6 854.4L257.4 854.3L261.3 854.2L265.2 854.1L269.1 854.1L273 854L276.8 853.9L280.7 853.8L284.6 853.7L288.5 853.6L292.4 853.5L296.3 853.5L300.1 853.4L304 853.3L307.9 853.1L311.8 853L315.6 852.9L319.5 852.8L323.3 852.7L327.2 852.5L331.1 852.4L334.9 852.2L338.8 852.1L342.6 851.9L346.5 851.8L350.3 851.6L354.2 851.5L358.1 851.3L361.9 851.1L365.8 850.9L369.6 850.8L373.5 850.6L377.4 850.4L381.2 850.2L385.1 850L388.9 849.8L392.8 849.6L396.7 849.5L400.5 849.3L404.4 849.1L408.2 848.9L412.1 848.7L415.9 848.5L419.8 848.3L423.7 848.1L427.5 848L431.4 847.8L435.2 847.6L439.1 847.4L443 847.2L446.8 847.1L450.7 846.9L454.5 846.7L458.4 846.6L462.2 846.4L466.1 846.3L470 846.1L473.8 846L477.7 845.8L481.5 845.7L485.4 845.5L489.3 845.4L493.1 845.2L497 845.1L500.8 844.9L504.7 844.8L508.5 844.6L512.4 844.4L516.3 844.3L520.1 844.1L524 844L527.8 843.8L531.7 843.7L535.6 843.5L539.4 843.3L543.3 843.2L547.1 843L551 842.8L554.9 842.6L558.7 842.4L562.6 842.3L566.4 842.1L570.3 841.9L574.1 841.7L578 841.4L581.9 841.2L585.7 841L589.6 840.8L593.4 840.5L597.3 840.3L601.2 840L605 839.7L608.9 839.4L612.7 839L616.6 838.7L620.4 838.4L624.3 838.1L628.2 837.8L632 837.5L635.9 837.2L639.7 836.9L643.6 836.6L647.5 836.4L651.4 836.1L655.3 835.9L659.2 835.6L663.1 835.4L667 835.1L670.9 834.9L674.8 834.7L678.7 834.4L682.6 834.2L686.4 834L690.3 833.7L694.2 833.5L698.1 833.2L702 833L705.9 832.7L709.8 832.5L713.7 832.2L717.6 831.9L721.5 831.7L725.4 831.4L729.3 831L733.1 830.7L736.9 830.4L740.7 830.1L744.6 829.7L748.4 829.4L752.2 829L756 828.6L759.9 828.3L763.7 827.9L767.5 827.5L771.3 827.1L775.2 826.7L779 826.2L782.8 825.8L786.6 825.4L790.5 825L794.3 824.5L798.1 824.1L801.9 823.7L805.8 823.2L809.6 822.8L813.4 822.4L817.2 822L821.1 821.5L825 821L828.9 820.5L832.8 820L836.7 819.5L840.6 819L844.5 818.4L848.4 817.9L852.3 817.3L856.2 816.8L860 816.2L863.9 815.7L867.8 815.2L871.7 814.7L875.6 814.1L879.5 813.7L883.4 813.2L887.3 812.7L891.2 812.3L895.1 811.9L899 811.5L902.9 811.2L906.7 810.9L910.7 810.6L914.7 810.4L918.7 810.1L922.7 809.9L926.7 809.7L930.7 809.5L934.7 809.3L938.7 809.1L942.7 808.9L946.7 808.7L950.7 808.5L954.5 808.3L958.2 808.1L961.9 807.9L965.7 807.7L969.4 807.4L973.1 807.2L977 807L980.8 806.8L984.7 806.4L988.5 805.9L992.4 805.3L996.2 804.5L1000 803.6L1003.9 802.4L1007.7 801L1011.6 799.3L1015.4 797.3L1019.4 791.6L1022.8 784.7L1027 776.5L1030.1 768.2L1033.9 758.3L1037.2 746.1L1040.3 731.8L1043.3 717.1L1046.7 699.8L1050.3 680.3L1053.8 659.9L1059.2 637L1063.1 612.7L1066.5 589.3L1069.7 561.6L1073.4 534.9L1077.3 507L1083 480.5L1085.3 454.6L1088.9 431.2L1091.7 414.7L1095.5 405.2L1098.9 403.9L1103.1 412.1L1108 426L1111.6 444.2L1115.3 465.4L1118.8 494.6L1122.5 522.6L1125.9 549L1129.3 573.7L1134.4 589.5L1138 607.1L1141.3 622.7L1144.9 638.7L1148.4 652.8L1152.2 666.8L1157.1 684.2L1160.9 699.3L1164.7 712.8L1167.9 726.6L1171.3 740.9L1175.5 758.3L1179.6 773.9L1184.6 793.8L1187.7 814.2L1190.9 837.5L1194 857L1197.8 868.3L1201.7 871.3L1206.5 864L1210.3 851.6L1213.6 836.7L1217.4 822.8L1220.5 808.5L1224.5 795.1L1226.9 781.2L1233 768.7L1237 754.6L1240.1 742.2L1243.2 724.9L1247.2 715.4L1251.1 702.4L1254.3 693.7L1259 685.9L1262.8 676.4L1266.8 668.6L1271.5 662.1L1276.1 658.2L1280.2 657.2L1284.3 656.6L1288.5 656.2L1292.6 656L1296.8 656.6L1300.9 658.1L1305.1 659.9L1309 661.9L1313 664.4L1316.9 667.3L1320.8 670.3L1324.7 673.6L1328.6 677.3L1332.5 681.1L1336.4 685L1340.4 689L1344.3 693.1L1348.2 697.3L1352.2 701.5L1356.1 705.8L1360 710.2L1363.9 714.6L1367.8 718.6L1371.7 722.4L1375.6 726L1379.6 729.4L1383.5 732.7L1387.4 735.8L1391.3 738.8L1395.2 741.7L1399.1 744.4L1403 747L1406.8 749.4L1410.7 751.7L1414.5 753.9L1418.5 756.1L1422.5 758.1L1426.5 760.1L1430.4 761.7L1434.5 763.2L1438.6 764.7L1442.7 766L1446.8 767.2L1450.8 768.4L1454.9 769.5L1459 770.6L1463.1 771.7L1467.2 772.8L1471.3 774L1475.3 775.2L1479.3 776.3L1483.2 777.6L1487.2 778.8L1491.1 780L1495.1 781.2L1499 782.4L1503 783.5L1506.9 784.6L1510.8 785.6L1514.8 786.5L1518.8 787.4L1522.7 788.3L1526.7 789.1L1530.6 790L1534.6 790.7L1538.6 791.5L1542.5 792.2L1546.5 792.9L1550.4 793.6L1554.4 794.2L1558.3 794.8L1562.3 795.4L1566.2 796L1570.2 796.5L1574.1 797.1L1578 797.6L1582 798.1L1585.9 798.6L1589.9 799.1L1593.8 799.6L1597.8 800.1L1601.7 800.6L1605.7 801L1609.6 801.5L1613.5 802L1617.5 802.5L1621.4 803L1625.4 803.5L1629.3 804L1633.3 804.5L1637.2 805.1L1641.2 805.6L1645.1 806.1L1649 806.6L1653 807L1656.9 807.4L1660.9 807.8L1664.8 808.2L1668.8 808.6L1672.7 808.9L1676.7 809.3L1680.6 809.6L1684.5 809.9L1688.5 810.3L1692.4 810.6L1696.4 810.9L1700.3 811.2L1704.3 811.5L1708.2 811.8L1712.2 812L1716.1 812.3L1720 812.6L1724 812.9L1727.9 813.1L1731.9 813.3L1735.9 813.6L1739.8 813.8L1743.8 814L1747.8 814.3L1751.7 814.5L1755.7 814.7L1759.6 815L1763.6 815.3L1767.6 815.7L1771.5 816L1775.5 816.4L1779.5 816.8L1783.4 817.2L1787.4 817.6L1791.4 818L1795.3 818.4L1799.3 818.8L1803.3 819.1L1807.2 819.5L1811.2 819.8L1815.1 820.1L1819.1 820.4L1823 820.6L1827 820.9L1830.9 821.2L1834.9 821.4L1838.8 821.7L1842.7 822L1846.7 822.2L1850.6 822.4L1854.6 822.7L1858.5 822.9L1862.5 823.2L1866.4 823.4L1870.4 823.6L1874.3 823.9L1878.2 824.1L1882.2 824.3L1886.1 824.6L1890.1 824.8L1894 825L1898 825.3L1901.9 825.5L1905.9 825.7L1909.8 826L1913.7 826.2L1917.7 826.4L1921.6 826.6L1925.6 826.9L1929.5 827.1L1933.5 827.3L1937.4 827.5L1941.4 827.8L1945.3 828L1949.2 828.2L1953.2 828.4L1957.1 828.7L1961.1 828.9L1965 829.2L1968.9 829.4L1972.9 829.6L1976.8 829.9L1980.7 830.1L1984.7 830.3L1988.6 830.6L1992.5 830.8L1996.5 831.1L2000.4 831.3L2004.4 831.5L2008.3 831.8L2012.2 832L2016.2 832.3L2020.1 832.5L2024 832.7L2028 833L2031.9 833.2"/><path d="M174.1 850h11.5v11.5h-11.5zM177.9 849.9h11.5v11.5h-11.5zM181.8 849.8h11.5v11.5h-11.5zM185.7 849.8h11.5v11.5h-11.5zM189.6 849.7h11.5v11.5h-11.5zM193.5 849.6h11.5v11.5h-11.5zM197.3 849.5h11.5v11.5h-11.5zM201.2 849.5h11.5v11.5h-11.5zM205.1 849.4h11.5v11.5h-11.5zM209 849.3h11.5v11.5h-11.5zM212.9 849.3h11.5v11.5h-11.5zM216.8 849.2h11.5v11.5h-11.5zM220.6 849.1h11.5v11.5h-11.5zM224.5 849.1h11.5v11.5h-11.5zM228.4 849h11.5v11.5h-11.5zM232.3 848.9h11.5v11.5h-11.5zM236.2 848.8h11.5v11.5h-11.5zM240 848.8h11.5v11.5h-11.5zM243.9 848.7h11.5v11.5h-11.5zM247.8 848.6h11.5v11.5h-11.5zM251.7 848.6h11.5v11.5h-11.5zM255.6 848.5h11.5v11.5h-11.5zM259.5 848.4h11.5v11.5h-11.5zM263.3 848.3h11.5v11.5h-11.5zM267.2 848.2h11.5v11.5h-11.5zM271.1 848.2h11.5v11.5h-11.5zM275 848.1h11.5v11.5h-11.5zM278.9 848h11.5v11.5h-11.5zM282.7 847.9h11.5v11.5h-11.5zM286.6 847.8h11.5v11.5h-11.5zM290.5 847.7h11.5v11.5h-11.5zM294.4 847.6h11.5v11.5h-11.5zM298.3 847.5h11.5v11.5h-11.5zM302.2 847.4h11.5v11.5h-11.5zM306 847.3h11.5v11.5h-11.5zM309.9 847.2h11.5v11.5h-11.5zM313.7 847h11.5v11.5h-11.5zM317.6 846.9h11.5v11.5h-11.5zM321.4 846.8h11.5v11.5h-11.5zM325.3 846.6h11.5v11.5h-11.5zM329.2 846.5h11.5v11.5h-11.5zM333 846.3h11.5v11.5h-11.5zM336.9 846.2h11.5v11.5h-11.5zM340.7 846h11.5v11.5h-11.5zM344.6 845.9h11.5v11.5h-11.5zM348.5 845.7h11.5v11.5h-11.5zM352.3 845.5h11.5v11.5h-11.5zM356.2 845.4h11.5v11.5h-11.5zM360 845.2h11.5v11.5h-11.5zM363.9 845h11.5v11.5h-11.5zM367.7 844.8h11.5v11.5h-11.5zM371.6 844.6h11.5v11.5h-11.5zM375.5 844.5h11.5v11.5h-11.5zM379.3 844.3h11.5v11.5h-11.5zM383.2 844.1h11.5v11.5h-11.5zM387 843.9h11.5v11.5h-11.5zM390.9 843.7h11.5v11.5h-11.5zM394.8 843.5h11.5v11.5h-11.5zM398.6 843.3h11.5v11.5h-11.5zM402.5 843.1h11.5v11.5h-11.5zM406.3 843h11.5v11.5h-11.5zM410.2 842.8h11.5v11.5h-11.5zM414.1 842.6h11.5v11.5h-11.5zM417.9 842.4h11.5v11.5h-11.5zM421.8 842.2h11.5v11.5h-11.5zM425.6 842h11.5v11.5h-11.5zM429.5 841.8h11.5v11.5h-11.5zM433.3 841.7h11.5v11.5h-11.5zM437.2 841.5h11.5v11.5h-11.5zM441.1 841.3h11.5v11.5h-11.5zM444.9 841.2h11.5v11.5h-11.5zM448.8 841h11.5v11.5h-11.5zM452.6 840.8h11.5v11.5h-11.5zM456.5 840.7h11.5v11.5h-11.5zM460.4 840.5h11.5v11.5h-11.5zM464.2 840.4h11.5v11.5h-11.5zM468.1 840.2h11.5v11.5h-11.5zM471.9 840.1h11.5v11.5h-11.5zM475.8 839.9h11.5v11.5h-11.5zM479.6 839.8h11.5v11.5h-11.5zM483.5 839.6h11.5v11.5h-11.5zM487.4 839.5h11.5v11.5h-11.5zM491.2 839.3h11.5v11.5h-11.5zM495.1 839.2h11.5v11.5h-11.5zM498.9 839h11.5v11.5h-11.5zM502.8 838.8h11.5v11.5h-11.5zM506.7 838.7h11.5v11.5h-11.5zM510.5 838.5h11.5v11.5h-11.5zM514.4 838.4h11.5v11.5h-11.5zM518.2 838.2h11.5v11.5h-11.5zM522.1 838.1h11.5v11.5h-11.5zM525.9 837.9h11.5v11.5h-11.5zM529.8 837.7h11.5v11.5h-11.5zM533.7 837.6h11.5v11.5h-11.5zM537.5 837.4h11.5v11.5h-11.5zM541.4 837.2h11.5v11.5h-11.5zM545.2 837.1h11.5v11.5h-11.5zM549.1 836.9h11.5v11.5h-11.5zM553 836.7h11.5v11.5h-11.5zM556.8 836.5h11.5v11.5h-11.5zM560.7 836.3h11.5v11.5h-11.5zM564.5 836.1h11.5v11.5h-11.5zM568.4 835.9h11.5v11.5h-11.5zM572.3 835.7h11.5v11.5h-11.5zM576.1 835.5h11.5v11.5h-11.5zM580 835.3h11.5v11.5h-11.5zM583.8 835h11.5v11.5h-11.5zM587.7 834.8h11.5v11.5h-11.5zM591.5 834.5h11.5v11.5h-11.5zM595.4 834.2h11.5v11.5h-11.5zM599.3 833.9h11.5v11.5h-11.5zM603.1 833.6h11.5v11.5h-11.5zM607 833.3h11.5v11.5h-11.5zM610.8 833h11.5v11.5h-11.5zM614.7 832.7h11.5v11.5h-11.5zM618.6 832.3h11.5v11.5h-11.5zM622.4 832h11.5v11.5h-11.5zM626.3 831.7h11.5v11.5h-11.5zM630.1 831.4h11.5v11.5h-11.5zM634 831.1h11.5v11.5h-11.5zM637.9 830.9h11.5v11.5h-11.5zM641.8 830.6h11.5v11.5h-11.5zM645.7 830.4h11.5v11.5h-11.5zM649.6 830.1h11.5v11.5h-11.5zM653.4 829.9h11.5v11.5h-11.5zM657.3 829.6h11.5v11.5h-11.5zM661.2 829.4h11.5v11.5h-11.5zM665.1 829.1h11.5v11.5h-11.5zM669 828.9h11.5v11.5h-11.5zM672.9 828.7h11.5v11.5h-11.5zM676.8 828.4h11.5v11.5h-11.5zM680.7 828.2h11.5v11.5h-11.5zM684.6 828h11.5v11.5h-11.5zM688.5 827.7h11.5v11.5h-11.5zM692.4 827.5h11.5v11.5h-11.5zM696.3 827.2h11.5v11.5h-11.5zM700.2 827h11.5v11.5h-11.5zM704 826.7h11.5v11.5h-11.5zM707.9 826.5h11.5v11.5h-11.5zM711.8 826.2h11.5v11.5h-11.5zM715.7 825.9h11.5v11.5h-11.5zM719.6 825.6h11.5v11.5h-11.5zM723.5 825.3h11.5v11.5h-11.5zM727.3 825h11.5v11.5h-11.5zM731.2 824.7h11.5v11.5h-11.5zM735 824.3h11.5v11.5h-11.5zM738.8 824h11.5v11.5h-11.5zM742.6 823.6h11.5v11.5h-11.5zM746.5 823.3h11.5v11.5h-11.5zM750.3 822.9h11.5v11.5h-11.5zM754.1 822.5h11.5v11.5h-11.5zM757.9 822.1h11.5v11.5h-11.5zM761.8 821.7h11.5v11.5h-11.5zM765.6 821.3h11.5v11.5h-11.5zM769.4 820.9h11.5v11.5h-11.5zM773.2 820.5h11.5v11.5h-11.5zM777.1 820.1h11.5v11.5h-11.5zM780.9 819.6h11.5v11.5h-11.5zM784.7 819.2h11.5v11.5h-11.5zM788.5 818.8h11.5v11.5h-11.5zM792.4 818.4h11.5v11.5h-11.5zM796.2 817.9h11.5v11.5h-11.5zM800 817.5h11.5v11.5h-11.5zM803.8 817.1h11.5v11.5h-11.5zM807.7 816.6h11.5v11.5h-11.5zM811.5 816.2h11.5v11.5h-11.5zM815.4 815.8h11.5v11.5h-11.5zM819.3 815.3h11.5v11.5h-11.5zM823.2 814.8h11.5v11.5h-11.5zM827 814.3h11.5v11.5h-11.5zM830.9 813.8h11.5v11.5h-11.5zM834.8 813.2h11.5v11.5h-11.5zM838.7 812.7h11.5v11.5h-11.5zM842.6 812.1h11.5v11.5h-11.5zM846.5 811.6h11.5v11.5h-11.5zM850.4 811h11.5v11.5h-11.5zM854.3 810.5h11.5v11.5h-11.5zM858.2 810h11.5v11.5h-11.5zM862.1 809.4h11.5v11.5h-11.5zM866 808.9h11.5v11.5h-11.5zM869.9 808.4h11.5v11.5h-11.5zM873.8 807.9h11.5v11.5h-11.5zM877.6 807.4h11.5v11.5h-11.5zM881.5 807h11.5v11.5h-11.5zM885.4 806.6h11.5v11.5h-11.5zM889.3 806.2h11.5v11.5h-11.5zM893.2 805.8h11.5v11.5h-11.5zM897.1 805.5h11.5v11.5h-11.5zM901 805.2h11.5v11.5h-11.5zM905 804.9h11.5v11.5h-11.5zM909 804.6h11.5v11.5h-11.5zM913 804.4h11.5v11.5h-11.5zM917 804.2h11.5v11.5h-11.5zM921 804h11.5v11.5h-11.5zM925 803.8h11.5v11.5h-11.5zM929 803.6h11.5v11.5h-11.5zM933 803.4h11.5v11.5h-11.5zM937 803.2h11.5v11.5h-11.5zM941 803h11.5v11.5h-11.5zM945 802.8h11.5v11.5h-11.5zM948.7 802.6h11.5v11.5h-11.5zM952.4 802.3h11.5v11.5h-11.5zM956.2 802.1h11.5v11.5h-11.5zM959.9 801.9h11.5v11.5h-11.5zM963.6 801.7h11.5v11.5h-11.5zM967.4 801.5h11.5v11.5h-11.5zM971.2 801.3h11.5v11.5h-11.5zM975.1 801h11.5v11.5h-11.5zM978.9 800.7h11.5v11.5h-11.5zM982.8 800.2h11.5v11.5h-11.5zM986.6 799.6h11.5v11.5h-11.5zM990.4 798.8h11.5v11.5h-11.5zM994.3 797.8h11.5v11.5h-11.5zM998.1 796.6h11.5v11.5h-11.5zM1002 795.2h11.5v11.5h-11.5zM1005.8 793.5h11.5v11.5h-11.5zM1009.7 791.5h11.5v11.5h-11.5zM1013.7 785.9h11.5v11.5h-11.5zM1017.1 778.9h11.5v11.5h-11.5zM1021.2 770.7h11.5v11.5h-11.5zM1024.3 762.5h11.5v11.5h-11.5zM1028.2 752.5h11.5v11.5h-11.5zM1031.4 740.4h11.5v11.5h-11.5zM1034.5 726.1h11.5v11.5h-11.5zM1037.6 711.4h11.5v11.5h-11.5zM1041 694h11.5v11.5h-11.5zM1044.5 674.5h11.5v11.5h-11.5zM1048.1 654.2h11.5v11.5h-11.5zM1053.5 631.2h11.5v11.5h-11.5zM1057.3 606.9h11.5v11.5h-11.5zM1060.7 583.5h11.5v11.5h-11.5zM1064 555.8h11.5v11.5h-11.5zM1067.7 529.2h11.5v11.5h-11.5zM1071.5 501.2h11.5v11.5h-11.5zM1077.3 474.8h11.5v11.5h-11.5zM1079.6 448.8h11.5v11.5h-11.5zM1083.1 425.4h11.5v11.5h-11.5zM1086 408.9h11.5v11.5h-11.5zM1089.8 399.4h11.5v11.5h-11.5zM1093.2 398.1h11.5v11.5h-11.5zM1097.3 406.3h11.5v11.5h-11.5zM1102.3 420.2h11.5v11.5h-11.5zM1105.8 438.4h11.5v11.5h-11.5zM1109.5 459.6h11.5v11.5h-11.5zM1113.1 488.9h11.5v11.5h-11.5zM1116.8 516.8h11.5v11.5h-11.5zM1120.2 543.3h11.5v11.5h-11.5zM1123.6 567.9h11.5v11.5h-11.5zM1128.7 583.8h11.5v11.5h-11.5zM1132.2 601.3h11.5v11.5h-11.5zM1135.6 616.9h11.5v11.5h-11.5zM1139.1 632.9h11.5v11.5h-11.5zM1142.7 647h11.5v11.5h-11.5zM1146.4 661.1h11.5v11.5h-11.5zM1151.3 678.4h11.5v11.5h-11.5zM1155.2 693.6h11.5v11.5h-11.5zM1158.9 707h11.5v11.5h-11.5zM1162.1 720.9h11.5v11.5h-11.5zM1165.5 735.2h11.5v11.5h-11.5zM1169.7 752.5h11.5v11.5h-11.5zM1173.9 768.1h11.5v11.5h-11.5zM1178.8 788h11.5v11.5h-11.5zM1181.9 808.4h11.5v11.5h-11.5zM1185.1 831.8h11.5v11.5h-11.5zM1188.2 851.3h11.5v11.5h-11.5zM1192.1 862.6h11.5v11.5h-11.5zM1195.9 865.6h11.5v11.5h-11.5zM1200.7 858.2h11.5v11.5h-11.5zM1204.6 845.9h11.5v11.5h-11.5zM1207.8 830.9h11.5v11.5h-11.5zM1211.7 817.1h11.5v11.5h-11.5zM1214.8 802.8h11.5v11.5h-11.5zM1218.8 789.3h11.5v11.5h-11.5zM1221.1 775.5h11.5v11.5h-11.5zM1227.3 762.9h11.5v11.5h-11.5zM1231.3 748.8h11.5v11.5h-11.5zM1234.4 736.5h11.5v11.5h-11.5zM1237.5 719.2h11.5v11.5h-11.5zM1241.5 709.6h11.5v11.5h-11.5zM1245.3 696.6h11.5v11.5h-11.5zM1248.6 688h11.5v11.5h-11.5zM1253.2 680.2h11.5v11.5h-11.5zM1257.1 670.6h11.5v11.5h-11.5zM1261.1 662.8h11.5v11.5h-11.5zM1265.7 656.3h11.5v11.5h-11.5zM1270.3 652.4h11.5v11.5h-11.5zM1274.5 651.5h11.5v11.5h-11.5zM1278.6 650.8h11.5v11.5h-11.5zM1282.7 650.4h11.5v11.5h-11.5zM1286.9 650.3h11.5v11.5h-11.5zM1291 650.9h11.5v11.5h-11.5zM1295.2 652.4h11.5v11.5h-11.5zM1299.4 654.2h11.5v11.5h-11.5zM1303.3 656.1h11.5v11.5h-11.5zM1307.2 658.7h11.5v11.5h-11.5zM1311.2 661.5h11.5v11.5h-11.5zM1315.1 664.6h11.5v11.5h-11.5zM1319 667.8h11.5v11.5h-11.5zM1322.9 671.5h11.5v11.5h-11.5zM1326.8 675.4h11.5v11.5h-11.5zM1330.7 679.3h11.5v11.5h-11.5zM1334.6 683.3h11.5v11.5h-11.5zM1338.6 687.4h11.5v11.5h-11.5zM1342.5 691.5h11.5v11.5h-11.5zM1346.4 695.8h11.5v11.5h-11.5zM1350.3 700.1h11.5v11.5h-11.5zM1354.2 704.5h11.5v11.5h-11.5zM1358.1 708.8h11.5v11.5h-11.5zM1362 712.9h11.5v11.5h-11.5zM1366 716.7h11.5v11.5h-11.5zM1369.9 720.2h11.5v11.5h-11.5zM1373.8 723.7h11.5v11.5h-11.5zM1377.8 727h11.5v11.5h-11.5zM1381.7 730.1h11.5v11.5h-11.5zM1385.6 733.1h11.5v11.5h-11.5zM1389.5 735.9h11.5v11.5h-11.5zM1393.3 738.6h11.5v11.5h-11.5zM1397.2 741.2h11.5v11.5h-11.5zM1401.1 743.7h11.5v11.5h-11.5zM1404.9 746h11.5v11.5h-11.5zM1408.8 748.2h11.5v11.5h-11.5zM1412.8 750.3h11.5v11.5h-11.5zM1416.7 752.4h11.5v11.5h-11.5zM1420.7 754.3h11.5v11.5h-11.5zM1424.7 756h11.5v11.5h-11.5zM1428.8 757.5h11.5v11.5h-11.5zM1432.8 758.9h11.5v11.5h-11.5zM1436.9 760.2h11.5v11.5h-11.5zM1441 761.5h11.5v11.5h-11.5zM1445.1 762.6h11.5v11.5h-11.5zM1449.2 763.8h11.5v11.5h-11.5zM1453.3 764.9h11.5v11.5h-11.5zM1457.3 766h11.5v11.5h-11.5zM1461.4 767.1h11.5v11.5h-11.5zM1465.5 768.2h11.5v11.5h-11.5zM1469.6 769.4h11.5v11.5h-11.5zM1473.5 770.6h11.5v11.5h-11.5zM1477.5 771.8h11.5v11.5h-11.5zM1481.4 773h11.5v11.5h-11.5zM1485.4 774.2h11.5v11.5h-11.5zM1489.3 775.4h11.5v11.5h-11.5zM1493.3 776.6h11.5v11.5h-11.5zM1497.2 777.7h11.5v11.5h-11.5zM1501.1 778.8h11.5v11.5h-11.5zM1505.1 779.8h11.5v11.5h-11.5zM1509.1 780.8h11.5v11.5h-11.5zM1513 781.7h11.5v11.5h-11.5zM1517 782.5h11.5v11.5h-11.5zM1520.9 783.4h11.5v11.5h-11.5zM1524.9 784.2h11.5v11.5h-11.5zM1528.9 785h11.5v11.5h-11.5zM1532.8 785.8h11.5v11.5h-11.5zM1536.8 786.5h11.5v11.5h-11.5zM1540.7 787.2h11.5v11.5h-11.5zM1544.7 787.8h11.5v11.5h-11.5zM1548.6 788.5h11.5v11.5h-11.5zM1552.6 789.1h11.5v11.5h-11.5zM1556.5 789.7h11.5v11.5h-11.5zM1560.5 790.2h11.5v11.5h-11.5zM1564.4 790.8h11.5v11.5h-11.5zM1568.4 791.3h11.5v11.5h-11.5zM1572.3 791.8h11.5v11.5h-11.5zM1576.2 792.4h11.5v11.5h-11.5zM1580.2 792.9h11.5v11.5h-11.5zM1584.1 793.4h11.5v11.5h-11.5zM1588.1 793.9h11.5v11.5h-11.5zM1592 794.3h11.5v11.5h-11.5zM1596 794.8h11.5v11.5h-11.5zM1599.9 795.3h11.5v11.5h-11.5zM1603.9 795.7h11.5v11.5h-11.5zM1607.8 796.2h11.5v11.5h-11.5zM1611.7 796.7h11.5v11.5h-11.5zM1615.7 797.2h11.5v11.5h-11.5zM1619.6 797.7h11.5v11.5h-11.5zM1623.6 798.3h11.5v11.5h-11.5zM1627.5 798.8h11.5v11.5h-11.5zM1631.5 799.3h11.5v11.5h-11.5zM1635.4 799.8h11.5v11.5h-11.5zM1639.4 800.3h11.5v11.5h-11.5zM1643.3 800.8h11.5v11.5h-11.5zM1647.2 801.3h11.5v11.5h-11.5zM1651.2 801.7h11.5v11.5h-11.5zM1655.1 802.1h11.5v11.5h-11.5zM1659.1 802.4h11.5v11.5h-11.5zM1663 802.8h11.5v11.5h-11.5zM1667 803.2h11.5v11.5h-11.5zM1670.9 803.5h11.5v11.5h-11.5zM1674.9 803.9h11.5v11.5h-11.5zM1678.8 804.2h11.5v11.5h-11.5zM1682.7 804.5h11.5v11.5h-11.5zM1686.7 804.8h11.5v11.5h-11.5zM1690.6 805.1h11.5v11.5h-11.5zM1694.6 805.4h11.5v11.5h-11.5zM1698.5 805.7h11.5v11.5h-11.5zM1702.5 806h11.5v11.5h-11.5zM1706.4 806.3h11.5v11.5h-11.5zM1710.3 806.6h11.5v11.5h-11.5zM1714.3 806.8h11.5v11.5h-11.5zM1718.2 807.1h11.5v11.5h-11.5zM1722.2 807.4h11.5v11.5h-11.5zM1726.2 807.6h11.5v11.5h-11.5zM1730.1 807.8h11.5v11.5h-11.5zM1734.1 808h11.5v11.5h-11.5zM1738 808.3h11.5v11.5h-11.5zM1742 808.5h11.5v11.5h-11.5zM1746 808.7h11.5v11.5h-11.5zM1749.9 809h11.5v11.5h-11.5zM1753.9 809.3h11.5v11.5h-11.5zM1757.9 809.6h11.5v11.5h-11.5zM1761.8 809.9h11.5v11.5h-11.5zM1765.8 810.3h11.5v11.5h-11.5zM1769.8 810.6h11.5v11.5h-11.5zM1773.7 811h11.5v11.5h-11.5zM1777.7 811.4h11.5v11.5h-11.5zM1781.6 811.8h11.5v11.5h-11.5zM1785.6 812.2h11.5v11.5h-11.5zM1789.6 812.6h11.5v11.5h-11.5zM1793.5 813h11.5v11.5h-11.5zM1797.5 813.4h11.5v11.5h-11.5zM1801.5 813.7h11.5v11.5h-11.5zM1805.4 814h11.5v11.5h-11.5zM1809.4 814.3h11.5v11.5h-11.5zM1813.3 814.6h11.5v11.5h-11.5zM1817.3 814.9h11.5v11.5h-11.5zM1821.2 815.2h11.5v11.5h-11.5zM1825.2 815.4h11.5v11.5h-11.5zM1829.1 815.7h11.5v11.5h-11.5zM1833.1 816h11.5v11.5h-11.5zM1837 816.2h11.5v11.5h-11.5zM1840.9 816.4h11.5v11.5h-11.5zM1844.9 816.7h11.5v11.5h-11.5zM1848.8 816.9h11.5v11.5h-11.5zM1852.8 817.2h11.5v11.5h-11.5zM1856.7 817.4h11.5v11.5h-11.5zM1860.7 817.6h11.5v11.5h-11.5zM1864.6 817.9h11.5v11.5h-11.5zM1868.6 818.1h11.5v11.5h-11.5zM1872.5 818.3h11.5v11.5h-11.5zM1876.4 818.6h11.5v11.5h-11.5zM1880.4 818.8h11.5v11.5h-11.5zM1884.3 819.1h11.5v11.5h-11.5zM1888.3 819.3h11.5v11.5h-11.5zM1892.2 819.5h11.5v11.5h-11.5zM1896.2 819.8h11.5v11.5h-11.5zM1900.1 820h11.5v11.5h-11.5zM1904 820.2h11.5v11.5h-11.5zM1908 820.4h11.5v11.5h-11.5zM1911.9 820.7h11.5v11.5h-11.5zM1915.9 820.9h11.5v11.5h-11.5zM1919.8 821.1h11.5v11.5h-11.5zM1923.8 821.3h11.5v11.5h-11.5zM1927.7 821.6h11.5v11.5h-11.5zM1931.7 821.8h11.5v11.5h-11.5zM1935.6 822h11.5v11.5h-11.5zM1939.5 822.2h11.5v11.5h-11.5zM1943.5 822.5h11.5v11.5h-11.5zM1947.4 822.7h11.5v11.5h-11.5zM1951.4 822.9h11.5v11.5h-11.5zM1955.3 823.2h11.5v11.5h-11.5zM1959.2 823.4h11.5v11.5h-11.5zM1963.2 823.6h11.5v11.5h-11.5zM1967.1 823.9h11.5v11.5h-11.5zM1971.1 824.1h11.5v11.5h-11.5zM1975 824.4h11.5v11.5h-11.5zM1978.9 824.6h11.5v11.5h-11.5zM1982.9 824.8h11.5v11.5h-11.5zM1986.8 825.1h11.5v11.5h-11.5zM1990.7 825.3h11.5v11.5h-11.5zM1994.7 825.5h11.5v11.5h-11.5zM1998.6 825.8h11.5v11.5h-11.5zM2002.5 826h11.5v11.5h-11.5zM2006.5 826.3h11.5v11.5h-11.5zM2010.4 826.5h11.5v11.5h-11.5zM2014.3 826.7h11.5v11.5h-11.5zM2018.3 827h11.5v11.5h-11.5zM2022.2 827.2h11.5v11.5h-11.5zM2026.2 827.5h11.5v11.5h-11.5z"/></g>
<g stroke="#ff00ff" stroke-width="2.6" fill="none" stroke-linejoin="round"><path d="M179.8 860.5L183.7 860.4L187.6 860.3L191.4 860.2L195.3 860.2L199.2 860.1L203.1 860L207 859.9L210.9 859.8L214.7 859.7L218.6 859.6L222.5 859.5L226.4 859.5L230.3 859.4L234.1 859.3L238 859.2L241.9 859.1L245.8 859L249.7 858.9L253.6 858.9L257.4 858.8L261.3 858.7L265.2 858.6L269.1 858.5L273 858.4L276.8 858.3L280.7 858.2L284.6 858.1L288.5 858L292.4 857.9L296.3 857.8L300.1 857.7L304 857.6L307.9 857.5L311.8 857.4L315.6 857.2L319.5 857.1L323.3 857L327.2 856.9L331.1 856.8L334.9 856.6L338.8 856.5L342.6 856.4L346.5 856.2L350.3 856.1L354.2 855.9L358.1 855.8L361.9 855.6L365.8 855.5L369.6 855.4L373.5 855.2L377.4 855.1L381.2 854.9L385.1 854.7L388.9 854.6L392.8 854.4L396.7 854.3L400.5 854.1L404.4 854L408.2 853.8L412.1 853.7L415.9 853.5L419.8 853.4L423.7 853.2L427.5 853L431.4 852.9L435.2 852.7L439.1 852.6L443 852.4L446.8 852.3L450.7 852.1L454.5 852L458.4 851.8L462.2 851.7L466.1 851.5L470 851.4L473.8 851.2L477.7 851.1L481.5 850.9L485.4 850.8L489.3 850.6L493.1 850.5L497 850.3L500.8 850.2L504.7 850L508.5 849.9L512.4 849.7L516.3 849.6L520.1 849.4L524 849.3L527.8 849.1L531.7 849L535.6 848.8L539.4 848.7L543.3 848.5L547.1 848.3L551 848.2L554.9 848L558.7 847.9L562.6 847.7L566.4 847.5L570.3 847.3L574.1 847.2L578 847L581.9 846.8L585.7 846.6L589.6 846.5L593.4 846.3L597.3 846.1L601.2 845.9L605 845.7L608.9 845.5L612.7 845.3L616.6 845.1L620.4 844.9L624.3 844.7L628.2 844.5L632 844.3L635.9 844.1L639.7 843.8L643.6 843.6L647.5 843.3L651.4 843.1L655.3 842.8L659.2 842.5L663.1 842.2L667 841.9L670.9 841.6L674.8 841.3L678.7 841L682.6 840.6L686.4 840.3L690.3 840L694.2 839.6L698.1 839.3L702 838.9L705.9 838.6L709.8 838.2L713.7 837.9L717.6 837.5L721.5 837.2L725.4 836.8L729.3 836.5L733.1 836.1L736.9 835.8L740.7 835.4L744.6 835L748.4 834.6L752.2 834.2L756 833.9L759.9 833.5L763.7 833.1L767.5 832.7L771.3 832.3L775.2 831.9L779 831.5L782.8 831L786.6 830.6L790.5 830.2L794.3 829.9L798.1 829.5L801.9 829.1L805.8 828.7L809.6 828.3L813.4 827.9L817.2 827.6L821.1 827.2L825 826.8L828.9 826.4L832.8 826L836.7 825.5L840.6 825.1L844.5 824.6L848.4 824.2L852.3 823.7L856.2 823.3L860 822.8L863.9 822.4L867.8 822L871.7 821.7L875.6 821.3L879.5 821L883.4 820.7L887.3 820.4L891.2 820.2L895.1 820L899 819.9L902.9 819.8L906.7 819.8L911.1 819.9L915.4 820.2L919.7 820.7L924 821.1L928.4 821.5L932.1 821.8L935.8 822.2L939.5 822.5L943.3 822.9L947 823.1L950.7 823.3L954.9 823.3L959 823.4L963.2 823.5L967.3 823.6L971.5 823.6L975.6 823.7L979.8 823.7L983.9 823.7L987.8 823.4L991.6 822.8L997.8 819.4L1001.1 815L1004.4 809.6L1007.2 803.3L1010 795.1L1013.4 784.7L1016.8 773.9L1020.3 761.3L1024 744L1027.4 726.6L1032.6 705.4L1036.3 679.4L1039.7 653.2L1043.2 624.8L1046.9 594.7L1050.1 565.5L1053.5 536.9L1059.1 510.9L1062.8 491.4L1066.2 479.7L1069.7 475.4L1073.1 479.7L1077.5 494L1081.6 510.9L1085.4 533.8L1088.9 555.1L1092.6 578L1095.9 603.6L1099.7 628.3L1103.1 653.2L1108.2 679.4L1111.6 705.6L1115.6 722.7L1118.8 741.8L1122.2 753.9L1125.6 760.9L1128.8 763L1133 758.7L1137.2 750.9L1140.9 734.4L1144.6 709.3L1148.4 679.4L1152.2 644.3L1157.1 607.9L1160.5 568.1L1163.9 526.5L1167.9 484.9L1171.3 445.5L1174.7 409.5L1178.2 377.9L1183.3 351.2L1186.3 335.4L1189.7 328.5L1192.3 327.6L1196.3 329.8L1200.5 336.3L1203.7 350.6L1207.1 364.4L1210.5 380.5L1213.7 402.1L1217.1 419.5L1220.8 439.8L1224.4 460.2L1227.9 480.5L1232.9 497.9L1236.3 515.4L1240.4 533.8L1243.8 551.2L1247.1 567.2L1251.2 580.4L1254.6 594.5L1259.6 606.2L1262.8 620.3L1267.3 628.7L1270.4 641.9L1274.9 650.4L1279.6 664.2L1283.2 665.5L1287.1 672.1L1291.1 681.1L1295 688.3L1298.9 695L1302.8 701.4L1306.6 707.6L1310.6 714L1314.5 720.1L1318.5 725.7L1322.4 731L1326.2 735.9L1330.1 740.5L1334.1 744.6L1338.1 748.3L1342 751.5L1345.9 754.6L1349.8 757.8L1353.7 760.9L1358.4 764L1363.1 766.9L1367.8 769.5L1371.7 771.7L1375.6 773.7L1379.6 775.6L1383.5 777.3L1387.4 778.9L1391.3 780.3L1395.2 781.7L1399.1 783L1403 784.3L1406.8 785.6L1410.7 786.7L1414.5 787.5L1418.8 788.1L1423 788.5L1427.2 788.8L1431.4 789.2L1435.6 789.5L1439.8 789.9L1443.8 790.3L1447.7 790.8L1451.6 791.3L1455.5 791.7L1459.4 792.3L1463.3 792.8L1467.2 793.3L1471.1 793.9L1475 794.4L1478.9 794.9L1482.9 795.5L1486.8 796L1490.7 796.6L1494.6 797.1L1498.5 797.6L1502.4 798.1L1506.3 798.5L1510.2 799L1514.2 799.4L1518.2 799.9L1522.2 800.3L1526.2 800.7L1530.2 801.1L1534.1 801.5L1538.1 801.9L1542.1 802.3L1546.1 802.7L1550.1 803L1554.1 803.4L1558.1 803.8L1562.1 804.2L1566 804.5L1570 804.9L1574 805.2L1578 805.6L1582 805.9L1586 806.3L1590 806.6L1594 806.9L1597.9 807.3L1601.9 807.6L1605.9 807.9L1609.9 808.3L1613.9 808.6L1617.9 808.9L1621.9 809.2L1625.9 809.5L1629.8 809.8L1633.8 810.1L1637.8 810.4L1641.8 810.7L1645.8 811L1649.8 811.3L1653.8 811.6L1657.7 811.8L1661.7 812.1L1665.6 812.3L1669.5 812.6L1673.5 812.8L1677.4 813.1L1681.4 813.3L1685.3 813.6L1689.3 813.8L1693.2 814L1697.2 814.3L1701.1 814.5L1705 814.7L1709 814.9L1712.9 815.2L1716.9 815.4L1720.8 815.6L1724.8 815.9L1728.7 816.1L1732.6 816.3L1736.6 816.6L1740.5 816.8L1744.5 817L1748.4 817.3L1752.4 817.5L1756.3 817.8L1760.3 818.1L1764.2 818.3L1768.1 818.6L1772 818.9L1775.9 819.1L1779.8 819.4L1783.7 819.7L1787.6 820L1791.5 820.3L1795.4 820.6L1799.4 820.9L1803.3 821.2L1807.2 821.5L1811.1 821.8L1815 822.1L1818.9 822.4L1822.8 822.7L1826.7 823L1830.6 823.3L1834.5 823.6L1838.5 823.9L1842.4 824.2L1846.3 824.5L1850.2 824.8L1854.1 825.1L1858 825.4L1861.9 825.7L1865.8 825.9L1869.7 826.2L1873.6 826.5L1877.6 826.7L1881.4 827L1885.3 827.2L1889.1 827.4L1893 827.7L1896.9 827.9L1900.7 828.2L1904.6 828.4L1908.4 828.6L1912.3 828.8L1916.1 829.1L1920 829.3L1923.9 829.5L1927.7 829.7L1931.6 829.9L1935.4 830.1L1939.3 830.4L1943.2 830.6L1947 830.8L1950.9 831L1954.7 831.2L1958.6 831.4L1962.4 831.6L1966.3 831.8L1970.2 832L1974 832.2L1977.9 832.4L1981.7 832.7L1985.6 832.9L1989.5 833.1L1993.3 833.3L1997.2 833.5L2001 833.7L2004.9 833.9L2008.7 834.1L2012.6 834.3L2016.5 834.5L2020.3 834.7L2024.2 835L2028 835.2L2031.9 835.4"/><path d="M172 855.2h15.6l-7.8 13.5zM175.9 855.1h15.6l-7.8 13.5zM179.8 855h15.6l-7.8 13.5zM183.7 854.9h15.6l-7.8 13.5zM187.5 854.9h15.6l-7.8 13.5zM191.4 854.8h15.6l-7.8 13.5zM195.3 854.7h15.6l-7.8 13.5zM199.2 854.6h15.6l-7.8 13.5zM203.1 854.5h15.6l-7.8 13.5zM207 854.4h15.6l-7.8 13.5zM210.8 854.3h15.6l-7.8 13.5zM214.7 854.2h15.6l-7.8 13.5zM218.6 854.2h15.6l-7.8 13.5zM222.5 854.1h15.6l-7.8 13.5zM226.4 854h15.6l-7.8 13.5zM230.2 853.9h15.6l-7.8 13.5zM234.1 853.8h15.6l-7.8 13.5zM238 853.7h15.6l-7.8 13.5zM241.9 853.6h15.6l-7.8 13.5zM245.8 853.6h15.6l-7.8 13.5zM249.7 853.5h15.6l-7.8 13.5zM253.5 853.4h15.6l-7.8 13.5zM257.4 853.3h15.6l-7.8 13.5zM261.3 853.2h15.6l-7.8 13.5zM265.2 853.1h15.6l-7.8 13.5zM269.1 853h15.6l-7.8 13.5zM273 852.9h15.6l-7.8 13.5zM276.8 852.8h15.6l-7.8 13.5zM280.7 852.7h15.6l-7.8 13.5zM284.6 852.6h15.6l-7.8 13.5zM288.5 852.5h15.6l-7.8 13.5zM292.4 852.4h15.6l-7.8 13.5zM296.2 852.3h15.6l-7.8 13.5zM300.1 852.2h15.6l-7.8 13.5zM304 852.1h15.6l-7.8 13.5zM307.8 851.9h15.6l-7.8 13.5zM311.7 851.8h15.6l-7.8 13.5zM315.6 851.7h15.6l-7.8 13.5zM319.4 851.6h15.6l-7.8 13.5zM323.3 851.5h15.6l-7.8 13.5zM327.1 851.3h15.6l-7.8 13.5zM331 851.2h15.6l-7.8 13.5zM334.9 851.1h15.6l-7.8 13.5zM338.7 850.9h15.6l-7.8 13.5zM342.6 850.8h15.6l-7.8 13.5zM346.4 850.6h15.6l-7.8 13.5zM350.3 850.5h15.6l-7.8 13.5zM354.1 850.3h15.6l-7.8 13.5zM358 850.2h15.6l-7.8 13.5zM361.9 850.1h15.6l-7.8 13.5zM365.7 849.9h15.6l-7.8 13.5zM369.6 849.8h15.6l-7.8 13.5zM373.4 849.6h15.6l-7.8 13.5zM377.3 849.4h15.6l-7.8 13.5zM381.2 849.3h15.6l-7.8 13.5zM385 849.1h15.6l-7.8 13.5zM388.9 849h15.6l-7.8 13.5zM392.7 848.8h15.6l-7.8 13.5zM396.6 848.7h15.6l-7.8 13.5zM400.4 848.5h15.6l-7.8 13.5zM404.3 848.4h15.6l-7.8 13.5zM408.2 848.2h15.6l-7.8 13.5zM412 848.1h15.6l-7.8 13.5zM415.9 847.9h15.6l-7.8 13.5zM419.7 847.7h15.6l-7.8 13.5zM423.6 847.6h15.6l-7.8 13.5zM427.5 847.4h15.6l-7.8 13.5zM431.3 847.3h15.6l-7.8 13.5zM435.2 847.1h15.6l-7.8 13.5zM439 847h15.6l-7.8 13.5zM442.9 846.8h15.6l-7.8 13.5zM446.7 846.7h15.6l-7.8 13.5zM450.6 846.5h15.6l-7.8 13.5zM454.5 846.4h15.6l-7.8 13.5zM458.3 846.2h15.6l-7.8 13.5zM462.2 846.1h15.6l-7.8 13.5zM466 845.9h15.6l-7.8 13.5zM469.9 845.8h15.6l-7.8 13.5zM473.8 845.6h15.6l-7.8 13.5zM477.6 845.5h15.6l-7.8 13.5zM481.5 845.3h15.6l-7.8 13.5zM485.3 845.2h15.6l-7.8 13.5zM489.2 845h15.6l-7.8 13.5zM493.1 844.9h15.6l-7.8 13.5zM496.9 844.7h15.6l-7.8 13.5zM500.8 844.6h15.6l-7.8 13.5zM504.6 844.4h15.6l-7.8 13.5zM508.5 844.3h15.6l-7.8 13.5zM512.3 844.1h15.6l-7.8 13.5zM516.2 844h15.6l-7.8 13.5zM520.1 843.8h15.6l-7.8 13.5zM523.9 843.7h15.6l-7.8 13.5zM527.8 843.5h15.6l-7.8 13.5zM531.6 843.4h15.6l-7.8 13.5zM535.5 843.2h15.6l-7.8 13.5zM539.4 843h15.6l-7.8 13.5zM543.2 842.9h15.6l-7.8 13.5zM547.1 842.7h15.6l-7.8 13.5zM550.9 842.6h15.6l-7.8 13.5zM554.8 842.4h15.6l-7.8 13.5zM558.6 842.2h15.6l-7.8 13.5zM562.5 842h15.6l-7.8 13.5zM566.4 841.9h15.6l-7.8 13.5zM570.2 841.7h15.6l-7.8 13.5zM574.1 841.5h15.6l-7.8 13.5zM577.9 841.3h15.6l-7.8 13.5zM581.8 841.2h15.6l-7.8 13.5zM585.7 841h15.6l-7.8 13.5zM589.5 840.8h15.6l-7.8 13.5zM593.4 840.6h15.6l-7.8 13.5zM597.2 840.4h15.6l-7.8 13.5zM601.1 840.2h15.6l-7.8 13.5zM604.9 840h15.6l-7.8 13.5zM608.8 839.8h15.6l-7.8 13.5zM612.7 839.6h15.6l-7.8 13.5zM616.5 839.4h15.6l-7.8 13.5zM620.4 839.2h15.6l-7.8 13.5zM624.2 839h15.6l-7.8 13.5zM628.1 838.8h15.6l-7.8 13.5zM632 838.5h15.6l-7.8 13.5zM635.9 838.3h15.6l-7.8 13.5zM639.7 838h15.6l-7.8 13.5zM643.6 837.8h15.6l-7.8 13.5zM647.5 837.5h15.6l-7.8 13.5zM651.4 837.2h15.6l-7.8 13.5zM655.3 836.9h15.6l-7.8 13.5zM659.2 836.6h15.6l-7.8 13.5zM663.1 836.3h15.6l-7.8 13.5zM667 836h15.6l-7.8 13.5zM670.9 835.7h15.6l-7.8 13.5zM674.8 835.3h15.6l-7.8 13.5zM678.7 835h15.6l-7.8 13.5zM682.6 834.7h15.6l-7.8 13.5zM686.4 834.3h15.6l-7.8 13.5zM690.3 834h15.6l-7.8 13.5zM694.2 833.6h15.6l-7.8 13.5zM698.1 833.3h15.6l-7.8 13.5zM702 832.9h15.6l-7.8 13.5zM705.9 832.6h15.6l-7.8 13.5zM709.8 832.2h15.6l-7.8 13.5zM713.7 831.9h15.6l-7.8 13.5zM717.6 831.5h15.6l-7.8 13.5zM721.5 831.2h15.6l-7.8 13.5zM725.3 830.8h15.6l-7.8 13.5zM729.1 830.5h15.6l-7.8 13.5zM733 830.1h15.6l-7.8 13.5zM736.8 829.7h15.6l-7.8 13.5zM740.6 829.3h15.6l-7.8 13.5zM744.4 828.9h15.6l-7.8 13.5zM748.3 828.6h15.6l-7.8 13.5zM752.1 828.2h15.6l-7.8 13.5zM755.9 827.8h15.6l-7.8 13.5zM759.7 827.4h15.6l-7.8 13.5zM763.6 827h15.6l-7.8 13.5zM767.4 826.6h15.6l-7.8 13.5zM771.2 826.2h15.6l-7.8 13.5zM775 825.7h15.6l-7.8 13.5zM778.9 825.3h15.6l-7.8 13.5zM782.7 824.9h15.6l-7.8 13.5zM786.5 824.6h15.6l-7.8 13.5zM790.3 824.2h15.6l-7.8 13.5zM794.2 823.8h15.6l-7.8 13.5zM798 823.4h15.6l-7.8 13.5zM801.8 823h15.6l-7.8 13.5zM805.6 822.6h15.6l-7.8 13.5zM809.5 822.3h15.6l-7.8 13.5zM813.3 821.9h15.6l-7.8 13.5zM817.2 821.5h15.6l-7.8 13.5zM821.1 821.1h15.6l-7.8 13.5zM825 820.7h15.6l-7.8 13.5zM828.9 820.2h15.6l-7.8 13.5zM832.8 819.8h15.6l-7.8 13.5zM836.7 819.3h15.6l-7.8 13.5zM840.6 818.9h15.6l-7.8 13.5zM844.5 818.4h15.6l-7.8 13.5zM848.4 818h15.6l-7.8 13.5zM852.3 817.5h15.6l-7.8 13.5zM856.2 817.1h15.6l-7.8 13.5zM860 816.7h15.6l-7.8 13.5zM863.9 816.4h15.6l-7.8 13.5zM867.8 816h15.6l-7.8 13.5zM871.7 815.7h15.6l-7.8 13.5zM875.6 815.4h15.6l-7.8 13.5zM879.5 815.1h15.6l-7.8 13.5zM883.4 814.9h15.6l-7.8 13.5zM887.3 814.7h15.6l-7.8 13.5zM891.2 814.6h15.6l-7.8 13.5zM895.1 814.5h15.6l-7.8 13.5zM899 814.5h15.6l-7.8 13.5zM903.3 814.6h15.6l-7.8 13.5zM907.6 814.9h15.6l-7.8 13.5zM911.9 815.4h15.6l-7.8 13.5zM916.3 815.8h15.6l-7.8 13.5zM920.6 816.2h15.6l-7.8 13.5zM924.3 816.5h15.6l-7.8 13.5zM928 816.9h15.6l-7.8 13.5zM931.8 817.2h15.6l-7.8 13.5zM935.5 817.6h15.6l-7.8 13.5zM939.2 817.8h15.6l-7.8 13.5zM943 818h15.6l-7.8 13.5zM947.1 818h15.6l-7.8 13.5zM951.3 818.1h15.6l-7.8 13.5zM955.4 818.2h15.6l-7.8 13.5zM959.5 818.3h15.6l-7.8 13.5zM963.7 818.3h15.6l-7.8 13.5zM967.8 818.4h15.6l-7.8 13.5zM972 818.4h15.6l-7.8 13.5zM976.1 818.4h15.6l-7.8 13.5zM980 818.1h15.6l-7.8 13.5zM983.9 817.5h15.6l-7.8 13.5zM990 814.1h15.6l-7.8 13.5zM993.3 809.7h15.6l-7.8 13.5zM996.7 804.3h15.6l-7.8 13.5zM999.4 798h15.6l-7.8 13.5zM1002.2 789.8h15.6l-7.8 13.5zM1005.6 779.4h15.6l-7.8 13.5zM1009 768.6h15.6l-7.8 13.5zM1012.6 756h15.6l-7.8 13.5zM1016.3 738.7h15.6l-7.8 13.5zM1019.7 721.3h15.6l-7.8 13.5zM1024.8 700.1h15.6l-7.8 13.5zM1028.5 674.1h15.6l-7.8 13.5zM1031.9 647.9h15.6l-7.8 13.5zM1035.4 619.5h15.6l-7.8 13.5zM1039.1 589.4h15.6l-7.8 13.5zM1042.4 560.2h15.6l-7.8 13.5zM1045.7 531.6h15.6l-7.8 13.5zM1051.3 505.6h15.6l-7.8 13.5zM1055 486.1h15.6l-7.8 13.5zM1058.4 474.4h15.6l-7.8 13.5zM1061.9 470.1h15.6l-7.8 13.5zM1065.3 474.4h15.6l-7.8 13.5zM1069.7 488.7h15.6l-7.8 13.5zM1073.8 505.6h15.6l-7.8 13.5zM1077.6 528.5h15.6l-7.8 13.5zM1081.1 549.8h15.6l-7.8 13.5zM1084.8 572.7h15.6l-7.8 13.5zM1088.1 598.3h15.6l-7.8 13.5zM1091.9 623h15.6l-7.8 13.5zM1095.3 647.9h15.6l-7.8 13.5zM1100.4 674.1h15.6l-7.8 13.5zM1103.9 700.3h15.6l-7.8 13.5zM1107.8 717.4h15.6l-7.8 13.5zM1111 736.5h15.6l-7.8 13.5zM1114.4 748.6h15.6l-7.8 13.5zM1117.8 755.6h15.6l-7.8 13.5zM1121.1 757.7h15.6l-7.8 13.5zM1125.2 753.4h15.6l-7.8 13.5zM1129.4 745.6h15.6l-7.8 13.5zM1133.1 729.1h15.6l-7.8 13.5zM1136.8 704h15.6l-7.8 13.5zM1140.6 674.1h15.6l-7.8 13.5zM1144.4 639h15.6l-7.8 13.5zM1149.3 602.6h15.6l-7.8 13.5zM1152.7 562.8h15.6l-7.8 13.5zM1156.1 521.2h15.6l-7.8 13.5zM1160.1 479.6h15.6l-7.8 13.5zM1163.5 440.2h15.6l-7.8 13.5zM1166.9 404.2h15.6l-7.8 13.5zM1170.5 372.6h15.6l-7.8 13.5zM1175.5 345.9h15.6l-7.8 13.5zM1178.5 330.1h15.6l-7.8 13.5zM1181.9 323.2h15.6l-7.8 13.5zM1184.5 322.3h15.6l-7.8 13.5zM1188.5 324.5h15.6l-7.8 13.5zM1192.7 331h15.6l-7.8 13.5zM1195.9 345.3h15.6l-7.8 13.5zM1199.3 359.1h15.6l-7.8 13.5zM1202.7 375.2h15.6l-7.8 13.5zM1206 396.8h15.6l-7.8 13.5zM1209.4 414.2h15.6l-7.8 13.5zM1213.1 434.5h15.6l-7.8 13.5zM1216.6 454.9h15.6l-7.8 13.5zM1220.1 475.2h15.6l-7.8 13.5zM1225.1 492.6h15.6l-7.8 13.5zM1228.5 510.1h15.6l-7.8 13.5zM1232.6 528.5h15.6l-7.8 13.5zM1236 545.9h15.6l-7.8 13.5zM1239.3 561.9h15.6l-7.8 13.5zM1243.5 575.1h15.6l-7.8 13.5zM1246.8 589.2h15.6l-7.8 13.5zM1251.8 600.9h15.6l-7.8 13.5zM1255 615h15.6l-7.8 13.5zM1259.5 623.4h15.6l-7.8 13.5zM1262.6 636.6h15.6l-7.8 13.5zM1267.1 645.1h15.6l-7.8 13.5zM1271.8 658.9h15.6l-7.8 13.5zM1275.4 660.2h15.6l-7.8 13.5zM1279.3 666.8h15.6l-7.8 13.5zM1283.3 675.8h15.6l-7.8 13.5zM1287.2 683h15.6l-7.8 13.5zM1291.1 689.7h15.6l-7.8 13.5zM1295 696.1h15.6l-7.8 13.5zM1298.9 702.3h15.6l-7.8 13.5zM1302.8 708.7h15.6l-7.8 13.5zM1306.7 714.8h15.6l-7.8 13.5zM1310.7 720.4h15.6l-7.8 13.5zM1314.6 725.7h15.6l-7.8 13.5zM1318.5 730.6h15.6l-7.8 13.5zM1322.3 735.2h15.6l-7.8 13.5zM1326.3 739.3h15.6l-7.8 13.5zM1330.4 743h15.6l-7.8 13.5zM1334.2 746.2h15.6l-7.8 13.5zM1338.1 749.3h15.6l-7.8 13.5zM1342 752.5h15.6l-7.8 13.5zM1345.9 755.6h15.6l-7.8 13.5zM1350.6 758.7h15.6l-7.8 13.5zM1355.3 761.6h15.6l-7.8 13.5zM1360 764.2h15.6l-7.8 13.5zM1363.9 766.4h15.6l-7.8 13.5zM1367.9 768.4h15.6l-7.8 13.5zM1371.8 770.3h15.6l-7.8 13.5zM1375.7 772h15.6l-7.8 13.5zM1379.6 773.6h15.6l-7.8 13.5zM1383.5 775h15.6l-7.8 13.5zM1387.4 776.4h15.6l-7.8 13.5zM1391.3 777.7h15.6l-7.8 13.5zM1395.2 779h15.6l-7.8 13.5zM1399 780.3h15.6l-7.8 13.5zM1402.9 781.4h15.6l-7.8 13.5zM1406.8 782.2h15.6l-7.8 13.5zM1411 782.8h15.6l-7.8 13.5zM1415.2 783.2h15.6l-7.8 13.5zM1419.4 783.5h15.6l-7.8 13.5zM1423.6 783.9h15.6l-7.8 13.5zM1427.8 784.2h15.6l-7.8 13.5zM1432.1 784.6h15.6l-7.8 13.5zM1436 785h15.6l-7.8 13.5zM1439.9 785.5h15.6l-7.8 13.5zM1443.8 786h15.6l-7.8 13.5zM1447.7 786.4h15.6l-7.8 13.5zM1451.6 787h15.6l-7.8 13.5zM1455.5 787.5h15.6l-7.8 13.5zM1459.4 788h15.6l-7.8 13.5zM1463.3 788.6h15.6l-7.8 13.5zM1467.3 789.1h15.6l-7.8 13.5zM1471.2 789.6h15.6l-7.8 13.5zM1475.1 790.2h15.6l-7.8 13.5zM1479 790.7h15.6l-7.8 13.5zM1482.9 791.3h15.6l-7.8 13.5zM1486.8 791.8h15.6l-7.8 13.5zM1490.7 792.3h15.6l-7.8 13.5zM1494.6 792.8h15.6l-7.8 13.5zM1498.5 793.2h15.6l-7.8 13.5zM1502.4 793.7h15.6l-7.8 13.5zM1506.4 794.1h15.6l-7.8 13.5zM1510.4 794.6h15.6l-7.8 13.5zM1514.4 795h15.6l-7.8 13.5zM1518.4 795.4h15.6l-7.8 13.5zM1522.4 795.8h15.6l-7.8 13.5zM1526.4 796.2h15.6l-7.8 13.5zM1530.4 796.6h15.6l-7.8 13.5zM1534.3 797h15.6l-7.8 13.5zM1538.3 797.4h15.6l-7.8 13.5zM1542.3 797.7h15.6l-7.8 13.5zM1546.3 798.1h15.6l-7.8 13.5zM1550.3 798.5h15.6l-7.8 13.5zM1554.3 798.9h15.6l-7.8 13.5zM1558.3 799.2h15.6l-7.8 13.5zM1562.3 799.6h15.6l-7.8 13.5zM1566.2 799.9h15.6l-7.8 13.5zM1570.2 800.3h15.6l-7.8 13.5zM1574.2 800.6h15.6l-7.8 13.5zM1578.2 801h15.6l-7.8 13.5zM1582.2 801.3h15.6l-7.8 13.5zM1586.2 801.6h15.6l-7.8 13.5zM1590.2 802h15.6l-7.8 13.5zM1594.1 802.3h15.6l-7.8 13.5zM1598.1 802.6h15.6l-7.8 13.5zM1602.1 803h15.6l-7.8 13.5zM1606.1 803.3h15.6l-7.8 13.5zM1610.1 803.6h15.6l-7.8 13.5zM1614.1 803.9h15.6l-7.8 13.5zM1618.1 804.2h15.6l-7.8 13.5zM1622.1 804.5h15.6l-7.8 13.5zM1626 804.8h15.6l-7.8 13.5zM1630 805.1h15.6l-7.8 13.5zM1634 805.4h15.6l-7.8 13.5zM1638 805.7h15.6l-7.8 13.5zM1642 806h15.6l-7.8 13.5zM1646 806.3h15.6l-7.8 13.5zM1649.9 806.5h15.6l-7.8 13.5zM1653.9 806.8h15.6l-7.8 13.5zM1657.8 807h15.6l-7.8 13.5zM1661.8 807.3h15.6l-7.8 13.5zM1665.7 807.5h15.6l-7.8 13.5zM1669.6 807.8h15.6l-7.8 13.5zM1673.6 808h15.6l-7.8 13.5zM1677.5 808.3h15.6l-7.8 13.5zM1681.5 808.5h15.6l-7.8 13.5zM1685.4 808.7h15.6l-7.8 13.5zM1689.4 809h15.6l-7.8 13.5zM1693.3 809.2h15.6l-7.8 13.5zM1697.3 809.4h15.6l-7.8 13.5zM1701.2 809.6h15.6l-7.8 13.5zM1705.1 809.9h15.6l-7.8 13.5zM1709.1 810.1h15.6l-7.8 13.5zM1713 810.3h15.6l-7.8 13.5zM1717 810.6h15.6l-7.8 13.5zM1720.9 810.8h15.6l-7.8 13.5zM1724.9 811h15.6l-7.8 13.5zM1728.8 811.3h15.6l-7.8 13.5zM1732.8 811.5h15.6l-7.8 13.5zM1736.7 811.7h15.6l-7.8 13.5zM1740.6 812h15.6l-7.8 13.5zM1744.6 812.2h15.6l-7.8 13.5zM1748.5 812.5h15.6l-7.8 13.5zM1752.5 812.8h15.6l-7.8 13.5zM1756.4 813h15.6l-7.8 13.5zM1760.3 813.3h15.6l-7.8 13.5zM1764.2 813.6h15.6l-7.8 13.5zM1768.1 813.8h15.6l-7.8 13.5zM1772 814.1h15.6l-7.8 13.5zM1775.9 814.4h15.6l-7.8 13.5zM1779.8 814.7h15.6l-7.8 13.5zM1783.8 815h15.6l-7.8 13.5zM1787.7 815.3h15.6l-7.8 13.5zM1791.6 815.6h15.6l-7.8 13.5zM1795.5 815.9h15.6l-7.8 13.5zM1799.4 816.2h15.6l-7.8 13.5zM1803.3 816.5h15.6l-7.8 13.5zM1807.2 816.8h15.6l-7.8 13.5zM1811.1 817.1h15.6l-7.8 13.5zM1815 817.4h15.6l-7.8 13.5zM1818.9 817.7h15.6l-7.8 13.5zM1822.9 818h15.6l-7.8 13.5zM1826.8 818.3h15.6l-7.8 13.5zM1830.7 818.6h15.6l-7.8 13.5zM1834.6 818.9h15.6l-7.8 13.5zM1838.5 819.2h15.6l-7.8 13.5zM1842.4 819.5h15.6l-7.8 13.5zM1846.3 819.8h15.6l-7.8 13.5zM1850.2 820.1h15.6l-7.8 13.5zM1854.1 820.4h15.6l-7.8 13.5zM1858 820.6h15.6l-7.8 13.5zM1862 820.9h15.6l-7.8 13.5zM1865.9 821.2h15.6l-7.8 13.5zM1869.8 821.4h15.6l-7.8 13.5zM1873.6 821.7h15.6l-7.8 13.5zM1877.5 821.9h15.6l-7.8 13.5zM1881.4 822.1h15.6l-7.8 13.5zM1885.2 822.4h15.6l-7.8 13.5zM1889.1 822.6h15.6l-7.8 13.5zM1892.9 822.9h15.6l-7.8 13.5zM1896.8 823.1h15.6l-7.8 13.5zM1900.6 823.3h15.6l-7.8 13.5zM1904.5 823.5h15.6l-7.8 13.5zM1908.4 823.8h15.6l-7.8 13.5zM1912.2 824h15.6l-7.8 13.5zM1916.1 824.2h15.6l-7.8 13.5zM1919.9 824.4h15.6l-7.8 13.5zM1923.8 824.6h15.6l-7.8 13.5zM1927.7 824.8h15.6l-7.8 13.5zM1931.5 825.1h15.6l-7.8 13.5zM1935.4 825.3h15.6l-7.8 13.5zM1939.2 825.5h15.6l-7.8 13.5zM1943.1 825.7h15.6l-7.8 13.5zM1946.9 825.9h15.6l-7.8 13.5zM1950.8 826.1h15.6l-7.8 13.5zM1954.7 826.3h15.6l-7.8 13.5zM1958.5 826.5h15.6l-7.8 13.5zM1962.4 826.7h15.6l-7.8 13.5zM1966.2 826.9h15.6l-7.8 13.5zM1970.1 827.1h15.6l-7.8 13.5zM1974 827.4h15.6l-7.8 13.5zM1977.8 827.6h15.6l-7.8 13.5zM1981.7 827.8h15.6l-7.8 13.5zM1985.5 828h15.6l-7.8 13.5zM1989.4 828.2h15.6l-7.8 13.5zM1993.3 828.4h15.6l-7.8 13.5zM1997.1 828.6h15.6l-7.8 13.5zM2001 828.8h15.6l-7.8 13.5zM2004.8 829h15.6l-7.8 13.5zM2008.7 829.2h15.6l-7.8 13.5zM2012.5 829.4h15.6l-7.8 13.5zM2016.4 829.7h15.6l-7.8 13.5zM2020.3 829.9h15.6l-7.8 13.5zM2024.1 830.1h15.6l-7.8 13.5z"/></g>
<rect x="1791.0" y="69.0" width="218" height="175.2" fill="#fff" stroke="#262626" stroke-width="1.9"/>
<path stroke="#0000ff" stroke-width="2.6" fill="none" d="M1803.8 101.0H1876.7M1834.3 101a6.75 6.75 0 1 0 13.5 0a6.75 6.75 0 1 0 -13.5 0z"/>
<text class="lg" transform="translate(1882.6 117.5) scale(1.0 1.065)">Mx=-2</text>
<path stroke="#ff0000" stroke-width="2.6" fill="none" d="M1803.8 156.5H1876.7M1835.3 150.8h11.5v11.5h-11.5z"/>
<text class="lg" transform="translate(1882.6 173) scale(1.0 1.065)">Mx=0</text>
<path stroke="#ff00ff" stroke-width="2.6" fill="none" d="M1803.8 212.3H1876.7M1833.3 207h15.6l-7.8 13.5z"/>
<text class="lg" transform="translate(1882.6 228.8) scale(1.0 1.065)">Mx=2</text>
<g stroke="#262626" stroke-width="1.9" fill="none" stroke-linecap="butt">
<rect x="179.8" y="1248.2" width="1852.1" height="840.2"/>
<path d="M179.8 2088.4v-18.5M179.8 1248.2v18.5M488.5 2088.4v-18.5M488.5 1248.2v18.5M797.2 2088.4v-18.5M797.2 1248.2v18.5M1105.9 2088.4v-18.5M1105.9 1248.2v18.5M1414.5 2088.4v-18.5M1414.5 1248.2v18.5M1723.2 2088.4v-18.5M1723.2 1248.2v18.5M2031.9 2088.4v-18.5M2031.9 1248.2v18.5M179.8 2088.4h18.5M2031.9 2088.4h-18.5M179.8 1948.4h18.5M2031.9 1948.4h-18.5M179.8 1808.3h18.5M2031.9 1808.3h-18.5M179.8 1668.3h18.5M2031.9 1668.3h-18.5M179.8 1528.3h18.5M2031.9 1528.3h-18.5M179.8 1388.2h18.5M2031.9 1388.2h-18.5M179.8 1248.2h18.5M2031.9 1248.2h-18.5"/>
</g>
<text class="tk" transform="translate(178.9 2152.5) scale(1.0 1.065)" text-anchor="middle">-60</text>
<text class="tk" transform="translate(487.6 2152.5) scale(1.0 1.065)" text-anchor="middle">-40</text>
<text class="tk" transform="translate(796.3 2152.5) scale(1.0 1.065)" text-anchor="middle">-20</text>
<text class="tk" transform="translate(1105.3 2152.5) scale(1.0 1.065)" text-anchor="middle">0</text>
<text class="tk" transform="translate(1413.9 2152.5) scale(1.0 1.065)" text-anchor="middle">20</text>
<text class="tk" transform="translate(1722.6 2152.5) scale(1.0 1.065)" text-anchor="middle">40</text>
<text class="tk" transform="translate(2031.3 2152.5) scale(1.0 1.065)" text-anchor="middle">60</text>
<text class="tk" transform="translate(162.7 2108.8) scale(1.0 1.065)" text-anchor="end">0</text>
<text class="tk" transform="translate(162.7 1968.8) scale(1.0 1.065)" text-anchor="end">5</text>
<text class="tk" transform="translate(162.7 1828.7) scale(1.0 1.065)" text-anchor="end">10</text>
<text class="tk" transform="translate(162.7 1688.7) scale(1.0 1.065)" text-anchor="end">15</text>
<text class="tk" transform="translate(162.7 1548.7) scale(1.0 1.065)" text-anchor="end">20</text>
<text class="tk" transform="translate(162.7 1408.6) scale(1.0 1.065)" text-anchor="end">25</text>
<text class="tk" transform="translate(162.7 1268.6) scale(1.0 1.065)" text-anchor="end">30</text>
<text class="lb" transform="translate(1105.9 2217.7) scale(1.0 1.065)" text-anchor="middle">s</text>
<text class="lb" transform="translate(66.9 1716.5) rotate(-90) scale(1.0 1.03)">Nu<tspan class="sb" dx="-0.4" dy="27.9">s</tspan></text>
<g stroke="#0000ff" stroke-width="2.6" fill="none" stroke-linejoin="round"><path d="M179.8 2050.3L183.7 2050.2L187.6 2050.1L191.6 2050L195.5 2049.9L199.4 2049.8L203.3 2049.7L207.2 2049.6L211.1 2049.5L215.1 2049.4L219 2049.3L222.9 2049.3L226.8 2049.2L230.7 2049.1L234.7 2049L238.6 2048.9L242.5 2048.8L246.4 2048.7L250.3 2048.6L254.2 2048.5L258.2 2048.4L262.1 2048.3L266 2048.2L269.9 2048.1L273.8 2048L277.7 2047.9L281.7 2047.8L285.6 2047.7L289.5 2047.6L293.5 2047.5L297.4 2047.4L301.4 2047.3L305.3 2047.2L309.3 2047.1L313.2 2047L317.1 2046.9L321.1 2046.7L325 2046.6L329 2046.5L332.9 2046.4L336.8 2046.3L340.8 2046.2L344.7 2046.1L348.7 2046L352.6 2045.9L356.5 2045.8L360.5 2045.7L364.4 2045.6L368.4 2045.5L372.3 2045.4L376.3 2045.3L380.2 2045.2L384.1 2045.1L388.1 2044.9L392 2044.8L395.8 2044.8L399.7 2044.7L403.5 2044.6L407.3 2044.5L411.2 2044.4L415 2044.3L418.8 2044.2L422.6 2044.1L426.5 2044L430.3 2044L434.1 2043.9L437.9 2043.8L441.8 2043.7L445.6 2043.6L449.4 2043.5L453.2 2043.5L457.1 2043.4L460.9 2043.3L464.7 2043.2L468.6 2043.1L472.4 2043L476.2 2042.9L480 2042.8L483.9 2042.7L487.7 2042.6L491.5 2042.5L495.3 2042.4L499.2 2042.3L503 2042.2L506.9 2042.1L510.8 2041.9L514.7 2041.8L518.6 2041.7L522.6 2041.5L526.5 2041.4L530.4 2041.3L534.3 2041.1L538.2 2041L542.1 2040.8L546 2040.6L549.9 2040.5L553.9 2040.3L557.8 2040.2L561.7 2040L565.6 2039.8L569.5 2039.7L573.5 2039.5L577.5 2039.3L581.4 2039.1L585.4 2039L589.4 2038.8L593.4 2038.6L597.3 2038.4L601.3 2038.2L605.3 2038L609.3 2037.8L613.2 2037.6L617.2 2037.4L621.2 2037.2L625.2 2037L629.1 2036.8L633.1 2036.6L637.1 2036.4L641.1 2036.2L645 2036L649 2035.7L652.9 2035.5L656.7 2035.3L660.6 2035.1L664.4 2034.8L668.3 2034.6L672.1 2034.4L676 2034.1L679.8 2033.9L683.7 2033.6L687.5 2033.4L691.4 2033.1L695.2 2032.9L699.1 2032.6L702.9 2032.3L706.8 2032.1L710.6 2031.8L714.5 2031.5L718.3 2031.3L722.2 2031L726 2030.7L729.9 2030.4L733.7 2030.1L737.6 2029.9L741.5 2029.6L745.3 2029.3L749.2 2029L753.1 2028.8L756.9 2028.5L760.8 2028.2L764.6 2027.9L768.5 2027.6L772.4 2027.4L776.2 2027.1L780.1 2026.8L784 2026.5L787.8 2026.2L791.7 2025.9L795.6 2025.5L799.4 2025.2L803.3 2024.9L807.2 2024.5L811 2024.2L814.9 2023.8L818.8 2023.4L822.6 2023L826.5 2022.6L830.6 2022.1L834.6 2021.6L838.7 2021L842.8 2020.4L846.8 2019.8L850.9 2019.1L855 2018.5L859 2017.8L863.1 2017.2L867.2 2016.5L871.3 2015.9L875.6 2015.2L879.9 2014.5L884.2 2013.8L888.5 2013.1L892.9 2012.5L896.6 2011.9L900.3 2011.4L904 2010.8L907.8 2010.3L911.5 2009.8L915.2 2009.4L918.9 2009L922.6 2008.6L926.4 2008.4L930.9 2008.6L935.4 2009.1L939.9 2009.7L944.2 2010.3L948.4 2011.1L952 2012.1L955.6 2013.4L959.2 2015L962.9 2017.3L966.6 2019.8L971.1 2022.3L975.5 2024.6L979.9 2027.1L984.4 2029.8L988.9 2032.6L993.3 2035.2L996.7 2036.9L1000 2038.3L1004.6 2039.3L1009.2 2039.8L1012.6 2038.9L1015.9 2037.1L1021 2032.9L1024.8 2030.1L1027.9 2027.1L1030.7 2022.9L1033.5 2017.4L1036.2 2010.5L1039.6 2001L1043.3 1989L1047.5 1974.3L1050.9 1958.4L1054.6 1943.3L1059.9 1924L1062.9 1903L1066.5 1882L1069.9 1860.1L1073.3 1832.4L1076.6 1804.4L1081.2 1773.3L1085.2 1736.6L1088.6 1693.2L1092.7 1643.1L1096 1592.1L1099.7 1533.9L1103.2 1474.2L1108.3 1421.6L1111.6 1382.9L1115.5 1363.3L1118.7 1363.3L1122.2 1382.9L1125.8 1416.2L1129.5 1463.6L1134.8 1514.8L1138.1 1556.8L1141.8 1595.8L1145.1 1634.7L1148.8 1672.5L1152.2 1703.9L1157.9 1734.1L1161.2 1762.1L1164.5 1783.1L1168 1806.1L1171.8 1827.1L1175.1 1844.5L1178.5 1858.5L1183.9 1871.6L1187.5 1884.5L1190.4 1895.2L1194 1904.1L1197.7 1912.8L1201.4 1919.8L1204.9 1926.8L1209 1932.1L1212.8 1938L1216.8 1942.8L1220.4 1947.8L1224.4 1952.1L1227.7 1956.2L1231 1960.1L1234.7 1964.3L1238.4 1968.2L1242.1 1971.6L1245.8 1974.4L1249.5 1976.9L1253.2 1979.5L1257 1982.1L1260.7 1984.7L1264.4 1987.3L1268.1 1989.8L1271.8 1992.1L1275.5 1994.3L1279.2 1996.2L1282.9 1997.9L1286.6 1999.6L1290.3 2001.3L1294 2002.9L1297.7 2004.4L1301.7 2005.7L1305.6 2006.9L1309.6 2008L1313.7 2009.1L1317.8 2010L1321.9 2010.8L1325.7 2011.5L1329.4 2012.1L1333.2 2012.7L1336.9 2013.2L1340.7 2013.8L1344.4 2014.3L1348.2 2014.7L1352.3 2015.3L1356.4 2015.8L1360.5 2016.2L1364.6 2016.7L1368.7 2017.1L1372.9 2017.5L1376.6 2017.9L1380.4 2018.2L1384.2 2018.6L1388 2018.9L1391.7 2019.2L1395.5 2019.5L1399.3 2019.8L1403 2020.1L1406.8 2020.3L1410.9 2020.6L1415 2020.9L1419.1 2021.2L1423.3 2021.5L1427.4 2021.8L1431.5 2022L1435.6 2022.3L1439.7 2022.6L1443.6 2022.9L1447.6 2023.1L1451.5 2023.4L1455.5 2023.7L1459.4 2024L1463.3 2024.3L1467.3 2024.5L1471.2 2024.8L1475.2 2025.1L1479.1 2025.4L1483 2025.6L1487 2025.9L1490.9 2026.1L1494.9 2026.3L1498.8 2026.5L1502.8 2026.7L1506.7 2027L1510.7 2027.2L1514.6 2027.4L1518.6 2027.6L1522.6 2027.8L1526.5 2028L1530.5 2028.1L1534.4 2028.3L1538.4 2028.5L1542.3 2028.7L1546.3 2028.9L1550.2 2029.1L1554.2 2029.2L1558.1 2029.4L1562.1 2029.6L1566 2029.8L1570 2029.9L1573.9 2030.1L1577.9 2030.3L1581.8 2030.4L1585.7 2030.6L1589.7 2030.7L1593.6 2030.9L1597.6 2031L1601.5 2031.2L1605.5 2031.3L1609.4 2031.5L1613.4 2031.6L1617.3 2031.8L1621.2 2031.9L1625.2 2032.1L1629.1 2032.2L1633.1 2032.4L1637 2032.5L1641 2032.7L1644.9 2032.8L1648.9 2033L1652.8 2033.1L1656.7 2033.2L1660.7 2033.4L1664.6 2033.5L1668.6 2033.6L1672.5 2033.8L1676.5 2033.9L1680.4 2034.1L1684.4 2034.2L1688.3 2034.3L1692.2 2034.5L1696.2 2034.6L1700.1 2034.8L1704.1 2034.9L1708 2035.1L1712 2035.2L1715.9 2035.4L1719.9 2035.5L1723.8 2035.7L1727.7 2035.8L1731.7 2036L1735.6 2036.2L1739.6 2036.3L1743.4 2036.5L1747.2 2036.6L1751 2036.8L1754.8 2036.9L1758.6 2037.1L1762.4 2037.2L1766.2 2037.4L1770 2037.5L1773.8 2037.6L1777.6 2037.8L1781.4 2037.9L1785.2 2038.1L1789 2038.2L1792.8 2038.3L1796.6 2038.4L1800.4 2038.5L1804.4 2038.7L1808.4 2038.8L1812.3 2038.9L1816.3 2039L1820.3 2039.1L1824.3 2039.2L1828.3 2039.3L1832.3 2039.3L1836.3 2039.4L1840.3 2039.5L1844.2 2039.6L1848.2 2039.7L1852.2 2039.8L1856.2 2039.9L1860.2 2039.9L1864.2 2040L1868.2 2040.1L1872.2 2040.2L1876.1 2040.3L1880 2040.4L1884 2040.5L1887.9 2040.6L1891.9 2040.7L1895.8 2040.8L1899.8 2041L1903.7 2041.1L1907.7 2041.2L1911.6 2041.3L1915.5 2041.4L1919.5 2041.5L1923.4 2041.6L1927.4 2041.7L1931.3 2041.8L1935.3 2041.9L1939.2 2042L1943.2 2042L1947 2042.1L1950.9 2042.2L1954.7 2042.3L1958.6 2042.4L1962.4 2042.4L1966.3 2042.5L1970.2 2042.6L1974 2042.6L1977.9 2042.7L1981.7 2042.8L1985.6 2042.8L1989.5 2042.9L1993.3 2043L1997.2 2043L2001 2043.1L2004.9 2043.1L2008.7 2043.2L2012.6 2043.3L2016.5 2043.3L2020.3 2043.4L2024.2 2043.5L2028 2043.5L2031.9 2043.6"/><path d="M173.1 2050.3a6.75 6.75 0 1 0 13.5 0a6.75 6.75 0 1 0 -13.5 0zM177 2050.2a6.75 6.75 0 1 0 13.5 0a6.75 6.75 0 1 0 -13.5 0zM180.9 2050.1a6.75 6.75 0 1 0 13.5 0a6.75 6.75 0 1 0 -13.5 0zM184.8 2050a6.75 6.75 0 1 0 13.5 0a6.75 6.75 0 1 0 -13.5 0zM188.7 2049.9a6.75 6.75 0 1 0 13.5 0a6.75 6.75 0 1 0 -13.5 0zM192.6 2049.8a6.75 6.75 0 1 0 13.5 0a6.75 6.75 0 1 0 -13.5 0zM196.6 2049.7a6.75 6.75 0 1 0 13.5 0a6.75 6.75 0 1 0 -13.5 0zM200.5 2049.6a6.75 6.75 0 1 0 13.5 0a6.75 6.75 0 1 0 -13.5 0zM204.4 2049.5a6.75 6.75 0 1 0 13.5 0a6.75 6.75 0 1 0 -13.5 0zM208.3 2049.4a6.75 6.75 0 1 0 13.5 0a6.75 6.75 0 1 0 -13.5 0zM212.2 2049.3a6.75 6.75 0 1 0 13.5 0a6.75 6.75 0 1 0 -13.5 0zM216.1 2049.3a6.75 6.75 0 1 0 13.5 0a6.75 6.75 0 1 0 -13.5 0zM220.1 2049.2a6.75 6.75 0 1 0 13.5 0a6.75 6.75 0 1 0 -13.5 0zM224 2049.1a6.75 6.75 0 1 0 13.5 0a6.75 6.75 0 1 0 -13.5 0zM227.9 2049a6.75 6.75 0 1 0 13.5 0a6.75 6.75 0 1 0 -13.5 0zM231.8 2048.9a6.75 6.75 0 1 0 13.5 0a6.75 6.75 0 1 0 -13.5 0zM235.7 2048.8a6.75 6.75 0 1 0 13.5 0a6.75 6.75 0 1 0 -13.5 0zM239.7 2048.7a6.75 6.75 0 1 0 13.5 0a6.75 6.75 0 1 0 -13.5 0zM243.6 2048.6a6.75 6.75 0 1 0 13.5 0a6.75 6.75 0 1 0 -13.5 0zM247.5 2048.5a6.75 6.75 0 1 0 13.5 0a6.75 6.75 0 1 0 -13.5 0zM251.4 2048.4a6.75 6.75 0 1 0 13.5 0a6.75 6.75 0 1 0 -13.5 0zM255.3 2048.3a6.75 6.75 0 1 0 13.5 0a6.75 6.75 0 1 0 -13.5 0zM259.2 2048.2a6.75 6.75 0 1 0 13.5 0a6.75 6.75 0 1 0 -13.5 0zM263.2 2048.1a6.75 6.75 0 1 0 13.5 0a6.75 6.75 0 1 0 -13.5 0zM267.1 2048a6.75 6.75 0 1 0 13.5 0a6.75 6.75 0 1 0 -13.5 0zM271 2047.9a6.75 6.75 0 1 0 13.5 0a6.75 6.75 0 1 0 -13.5 0zM274.9 2047.8a6.75 6.75 0 1 0 13.5 0a6.75 6.75 0 1 0 -13.5 0zM278.9 2047.7a6.75 6.75 0 1 0 13.5 0a6.75 6.75 0 1 0 -13.5 0zM282.8 2047.6a6.75 6.75 0 1 0 13.5 0a6.75 6.75 0 1 0 -13.5 0zM286.7 2047.5a6.75 6.75 0 1 0 13.5 0a6.75 6.75 0 1 0 -13.5 0zM290.7 2047.4a6.75 6.75 0 1 0 13.5 0a6.75 6.75 0 1 0 -13.5 0zM294.6 2047.3a6.75 6.75 0 1 0 13.5 0a6.75 6.75 0 1 0 -13.5 0zM298.6 2047.2a6.75 6.75 0 1 0 13.5 0a6.75 6.75 0 1 0 -13.5 0zM302.5 2047.1a6.75 6.75 0 1 0 13.5 0a6.75 6.75 0 1 0 -13.5 0zM306.4 2047a6.75 6.75 0 1 0 13.5 0a6.75 6.75 0 1 0 -13.5 0zM310.4 2046.9a6.75 6.75 0 1 0 13.5 0a6.75 6.75 0 1 0 -13.5 0zM314.3 2046.7a6.75 6.75 0 1 0 13.5 0a6.75 6.75 0 1 0 -13.5 0zM318.3 2046.6a6.75 6.75 0 1 0 13.5 0a6.75 6.75 0 1 0 -13.5 0zM322.2 2046.5a6.75 6.75 0 1 0 13.5 0a6.75 6.75 0 1 0 -13.5 0zM326.2 2046.4a6.75 6.75 0 1 0 13.5 0a6.75 6.75 0 1 0 -13.5 0zM330.1 2046.3a6.75 6.75 0 1 0 13.5 0a6.75 6.75 0 1 0 -13.5 0zM334 2046.2a6.75 6.75 0 1 0 13.5 0a6.75 6.75 0 1 0 -13.5 0zM338 2046.1a6.75 6.75 0 1 0 13.5 0a6.75 6.75 0 1 0 -13.5 0zM341.9 2046a6.75 6.75 0 1 0 13.5 0a6.75 6.75 0 1 0 -13.5 0zM345.9 2045.9a6.75 6.75 0 1 0 13.5 0a6.75 6.75 0 1 0 -13.5 0zM349.8 2045.8a6.75 6.75 0 1 0 13.5 0a6.75 6.75 0 1 0 -13.5 0zM353.7 2045.7a6.75 6.75 0 1 0 13.5 0a6.75 6.75 0 1 0 -13.5 0zM357.7 2045.6a6.75 6.75 0 1 0 13.5 0a6.75 6.75 0 1 0 -13.5 0zM361.6 2045.5a6.75 6.75 0 1 0 13.5 0a6.75 6.75 0 1 0 -13.5 0zM365.6 2045.4a6.75 6.75 0 1 0 13.5 0a6.75 6.75 0 1 0 -13.5 0zM369.5 2045.3a6.75 6.75 0 1 0 13.5 0a6.75 6.75 0 1 0 -13.5 0zM373.4 2045.2a6.75 6.75 0 1 0 13.5 0a6.75 6.75 0 1 0 -13.5 0zM377.4 2045.1a6.75 6.75 0 1 0 13.5 0a6.75 6.75 0 1 0 -13.5 0zM381.3 2044.9a6.75 6.75 0 1 0 13.5 0a6.75 6.75 0 1 0 -13.5 0zM385.3 2044.8a6.75 6.75 0 1 0 13.5 0a6.75 6.75 0 1 0 -13.5 0zM389.1 2044.8a6.75 6.75 0 1 0 13.5 0a6.75 6.75 0 1 0 -13.5 0zM392.9 2044.7a6.75 6.75 0 1 0 13.5 0a6.75 6.75 0 1 0 -13.5 0zM396.7 2044.6a6.75 6.75 0 1 0 13.5 0a6.75 6.75 0 1 0 -13.5 0zM400.6 2044.5a6.75 6.75 0 1 0 13.5 0a6.75 6.75 0 1 0 -13.5 0zM404.4 2044.4a6.75 6.75 0 1 0 13.5 0a6.75 6.75 0 1 0 -13.5 0zM408.2 2044.3a6.75 6.75 0 1 0 13.5 0a6.75 6.75 0 1 0 -13.5 0zM412.1 2044.2a6.75 6.75 0 1 0 13.5 0a6.75 6.75 0 1 0 -13.5 0zM415.9 2044.1a6.75 6.75 0 1 0 13.5 0a6.75 6.75 0 1 0 -13.5 0zM419.7 2044a6.75 6.75 0 1 0 13.5 0a6.75 6.75 0 1 0 -13.5 0zM423.5 2044a6.75 6.75 0 1 0 13.5 0a6.75 6.75 0 1 0 -13.5 0zM427.4 2043.9a6.75 6.75 0 1 0 13.5 0a6.75 6.75 0 1 0 -13.5 0zM431.2 2043.8a6.75 6.75 0 1 0 13.5 0a6.75 6.75 0 1 0 -13.5 0zM435 2043.7a6.75 6.75 0 1 0 13.5 0a6.75 6.75 0 1 0 -13.5 0zM438.8 2043.6a6.75 6.75 0 1 0 13.5 0a6.75 6.75 0 1 0 -13.5 0zM442.7 2043.5a6.75 6.75 0 1 0 13.5 0a6.75 6.75 0 1 0 -13.5 0zM446.5 2043.5a6.75 6.75 0 1 0 13.5 0a6.75 6.75 0 1 0 -13.5 0zM450.3 2043.4a6.75 6.75 0 1 0 13.5 0a6.75 6.75 0 1 0 -13.5 0zM454.1 2043.3a6.75 6.75 0 1 0 13.5 0a6.75 6.75 0 1 0 -13.5 0zM458 2043.2a6.75 6.75 0 1 0 13.5 0a6.75 6.75 0 1 0 -13.5 0zM461.8 2043.1a6.75 6.75 0 1 0 13.5 0a6.75 6.75 0 1 0 -13.5 0zM465.6 2043a6.75 6.75 0 1 0 13.5 0a6.75 6.75 0 1 0 -13.5 0zM469.5 2042.9a6.75 6.75 0 1 0 13.5 0a6.75 6.75 0 1 0 -13.5 0zM473.3 2042.8a6.75 6.75 0 1 0 13.5 0a6.75 6.75 0 1 0 -13.5 0zM477.1 2042.7a6.75 6.75 0 1 0 13.5 0a6.75 6.75 0 1 0 -13.5 0zM480.9 2042.6a6.75 6.75 0 1 0 13.5 0a6.75 6.75 0 1 0 -13.5 0zM484.8 2042.5a6.75 6.75 0 1 0 13.5 0a6.75 6.75 0 1 0 -13.5 0zM488.6 2042.4a6.75 6.75 0 1 0 13.5 0a6.75 6.75 0 1 0 -13.5 0zM492.4 2042.3a6.75 6.75 0 1 0 13.5 0a6.75 6.75 0 1 0 -13.5 0zM496.2 2042.2a6.75 6.75 0 1 0 13.5 0a6.75 6.75 0 1 0 -13.5 0zM500.2 2042.1a6.75 6.75 0 1 0 13.5 0a6.75 6.75 0 1 0 -13.5 0zM504.1 2041.9a6.75 6.75 0 1 0 13.5 0a6.75 6.75 0 1 0 -13.5 0zM508 2041.8a6.75 6.75 0 1 0 13.5 0a6.75 6.75 0 1 0 -13.5 0zM511.9 2041.7a6.75 6.75 0 1 0 13.5 0a6.75 6.75 0 1 0 -13.5 0zM515.8 2041.5a6.75 6.75 0 1 0 13.5 0a6.75 6.75 0 1 0 -13.5 0zM519.7 2041.4a6.75 6.75 0 1 0 13.5 0a6.75 6.75 0 1 0 -13.5 0zM523.6 2041.3a6.75 6.75 0 1 0 13.5 0a6.75 6.75 0 1 0 -13.5 0zM527.5 2041.1a6.75 6.75 0 1 0 13.5 0a6.75 6.75 0 1 0 -13.5 0zM531.5 2041a6.75 6.75 0 1 0 13.5 0a6.75 6.75 0 1 0 -13.5 0zM535.4 2040.8a6.75 6.75 0 1 0 13.5 0a6.75 6.75 0 1 0 -13.5 0zM539.3 2040.6a6.75 6.75 0 1 0 13.5 0a6.75 6.75 0 1 0 -13.5 0zM543.2 2040.5a6.75 6.75 0 1 0 13.5 0a6.75 6.75 0 1 0 -13.5 0zM547.1 2040.3a6.75 6.75 0 1 0 13.5 0a6.75 6.75 0 1 0 -13.5 0zM551 2040.2a6.75 6.75 0 1 0 13.5 0a6.75 6.75 0 1 0 -13.5 0zM554.9 2040a6.75 6.75 0 1 0 13.5 0a6.75 6.75 0 1 0 -13.5 0zM558.8 2039.8a6.75 6.75 0 1 0 13.5 0a6.75 6.75 0 1 0 -13.5 0zM562.8 2039.7a6.75 6.75 0 1 0 13.5 0a6.75 6.75 0 1 0 -13.5 0zM566.7 2039.5a6.75 6.75 0 1 0 13.5 0a6.75 6.75 0 1 0 -13.5 0zM570.7 2039.3a6.75 6.75 0 1 0 13.5 0a6.75 6.75 0 1 0 -13.5 0zM574.7 2039.1a6.75 6.75 0 1 0 13.5 0a6.75 6.75 0 1 0 -13.5 0zM578.7 2039a6.75 6.75 0 1 0 13.5 0a6.75 6.75 0 1 0 -13.5 0zM582.6 2038.8a6.75 6.75 0 1 0 13.5 0a6.75 6.75 0 1 0 -13.5 0zM586.6 2038.6a6.75 6.75 0 1 0 13.5 0a6.75 6.75 0 1 0 -13.5 0zM590.6 2038.4a6.75 6.75 0 1 0 13.5 0a6.75 6.75 0 1 0 -13.5 0zM594.6 2038.2a6.75 6.75 0 1 0 13.5 0a6.75 6.75 0 1 0 -13.5 0zM598.5 2038a6.75 6.75 0 1 0 13.5 0a6.75 6.75 0 1 0 -13.5 0zM602.5 2037.8a6.75 6.75 0 1 0 13.5 0a6.75 6.75 0 1 0 -13.5 0zM606.5 2037.6a6.75 6.75 0 1 0 13.5 0a6.75 6.75 0 1 0 -13.5 0zM610.5 2037.4a6.75 6.75 0 1 0 13.5 0a6.75 6.75 0 1 0 -13.5 0zM614.4 2037.2a6.75 6.75 0 1 0 13.5 0a6.75 6.75 0 1 0 -13.5 0zM618.4 2037a6.75 6.75 0 1 0 13.5 0a6.75 6.75 0 1 0 -13.5 0zM622.4 2036.8a6.75 6.75 0 1 0 13.5 0a6.75 6.75 0 1 0 -13.5 0zM626.4 2036.6a6.75 6.75 0 1 0 13.5 0a6.75 6.75 0 1 0 -13.5 0zM630.3 2036.4a6.75 6.75 0 1 0 13.5 0a6.75 6.75 0 1 0 -13.5 0zM634.3 2036.2a6.75 6.75 0 1 0 13.5 0a6.75 6.75 0 1 0 -13.5 0zM638.3 2036a6.75 6.75 0 1 0 13.5 0a6.75 6.75 0 1 0 -13.5 0zM642.2 2035.7a6.75 6.75 0 1 0 13.5 0a6.75 6.75 0 1 0 -13.5 0zM646.1 2035.5a6.75 6.75 0 1 0 13.5 0a6.75 6.75 0 1 0 -13.5 0zM650 2035.3a6.75 6.75 0 1 0 13.5 0a6.75 6.75 0 1 0 -13.5 0zM653.8 2035.1a6.75 6.75 0 1 0 13.5 0a6.75 6.75 0 1 0 -13.5 0zM657.7 2034.8a6.75 6.75 0 1 0 13.5 0a6.75 6.75 0 1 0 -13.5 0zM661.5 2034.6a6.75 6.75 0 1 0 13.5 0a6.75 6.75 0 1 0 -13.5 0zM665.4 2034.4a6.75 6.75 0 1 0 13.5 0a6.75 6.75 0 1 0 -13.5 0zM669.2 2034.1a6.75 6.75 0 1 0 13.5 0a6.75 6.75 0 1 0 -13.5 0zM673.1 2033.9a6.75 6.75 0 1 0 13.5 0a6.75 6.75 0 1 0 -13.5 0zM676.9 2033.6a6.75 6.75 0 1 0 13.5 0a6.75 6.75 0 1 0 -13.5 0zM680.8 2033.4a6.75 6.75 0 1 0 13.5 0a6.75 6.75 0 1 0 -13.5 0zM684.6 2033.1a6.75 6.75 0 1 0 13.5 0a6.75 6.75 0 1 0 -13.5 0zM688.5 2032.9a6.75 6.75 0 1 0 13.5 0a6.75 6.75 0 1 0 -13.5 0zM692.3 2032.6a6.75 6.75 0 1 0 13.5 0a6.75 6.75 0 1 0 -13.5 0zM696.2 2032.3a6.75 6.75 0 1 0 13.5 0a6.75 6.75 0 1 0 -13.5 0zM700 2032.1a6.75 6.75 0 1 0 13.5 0a6.75 6.75 0 1 0 -13.5 0zM703.9 2031.8a6.75 6.75 0 1 0 13.5 0a6.75 6.75 0 1 0 -13.5 0zM707.7 2031.5a6.75 6.75 0 1 0 13.5 0a6.75 6.75 0 1 0 -13.5 0zM711.6 2031.3a6.75 6.75 0 1 0 13.5 0a6.75 6.75 0 1 0 -13.5 0zM715.4 2031a6.75 6.75 0 1 0 13.5 0a6.75 6.75 0 1 0 -13.5 0zM719.3 2030.7a6.75 6.75 0 1 0 13.5 0a6.75 6.75 0 1 0 -13.5 0zM723.1 2030.4a6.75 6.75 0 1 0 13.5 0a6.75 6.75 0 1 0 -13.5 0zM727 2030.1a6.75 6.75 0 1 0 13.5 0a6.75 6.75 0 1 0 -13.5 0zM730.8 2029.9a6.75 6.75 0 1 0 13.5 0a6.75 6.75 0 1 0 -13.5 0zM734.7 2029.6a6.75 6.75 0 1 0 13.5 0a6.75 6.75 0 1 0 -13.5 0zM738.6 2029.3a6.75 6.75 0 1 0 13.5 0a6.75 6.75 0 1 0 -13.5 0zM742.4 2029a6.75 6.75 0 1 0 13.5 0a6.75 6.75 0 1 0 -13.5 0zM746.3 2028.8a6.75 6.75 0 1 0 13.5 0a6.75 6.75 0 1 0 -13.5 0zM750.2 2028.5a6.75 6.75 0 1 0 13.5 0a6.75 6.75 0 1 0 -13.5 0zM754 2028.2a6.75 6.75 0 1 0 13.5 0a6.75 6.75 0 1 0 -13.5 0zM757.9 2027.9a6.75 6.75 0 1 0 13.5 0a6.75 6.75 0 1 0 -13.5 0zM761.8 2027.6a6.75 6.75 0 1 0 13.5 0a6.75 6.75 0 1 0 -13.5 0zM765.6 2027.4a6.75 6.75 0 1 0 13.5 0a6.75 6.75 0 1 0 -13.5 0zM769.5 2027.1a6.75 6.75 0 1 0 13.5 0a6.75 6.75 0 1 0 -13.5 0zM773.4 2026.8a6.75 6.75 0 1 0 13.5 0a6.75 6.75 0 1 0 -13.5 0zM777.2 2026.5a6.75 6.75 0 1 0 13.5 0a6.75 6.75 0 1 0 -13.5 0zM781.1 2026.2a6.75 6.75 0 1 0 13.5 0a6.75 6.75 0 1 0 -13.5 0zM785 2025.9a6.75 6.75 0 1 0 13.5 0a6.75 6.75 0 1 0 -13.5 0zM788.8 2025.5a6.75 6.75 0 1 0 13.5 0a6.75 6.75 0 1 0 -13.5 0zM792.7 2025.2a6.75 6.75 0 1 0 13.5 0a6.75 6.75 0 1 0 -13.5 0zM796.6 2024.9a6.75 6.75 0 1 0 13.5 0a6.75 6.75 0 1 0 -13.5 0zM800.4 2024.5a6.75 6.75 0 1 0 13.5 0a6.75 6.75 0 1 0 -13.5 0zM804.3 2024.2a6.75 6.75 0 1 0 13.5 0a6.75 6.75 0 1 0 -13.5 0zM808.1 2023.8a6.75 6.75 0 1 0 13.5 0a6.75 6.75 0 1 0 -13.5 0zM812 2023.4a6.75 6.75 0 1 0 13.5 0a6.75 6.75 0 1 0 -13.5 0zM815.9 2023a6.75 6.75 0 1 0 13.5 0a6.75 6.75 0 1 0 -13.5 0zM819.7 2022.6a6.75 6.75 0 1 0 13.5 0a6.75 6.75 0 1 0 -13.5 0zM823.8 2022.1a6.75 6.75 0 1 0 13.5 0a6.75 6.75 0 1 0 -13.5 0zM827.9 2021.6a6.75 6.75 0 1 0 13.5 0a6.75 6.75 0 1 0 -13.5 0zM831.9 2021a6.75 6.75 0 1 0 13.5 0a6.75 6.75 0 1 0 -13.5 0zM836 2020.4a6.75 6.75 0 1 0 13.5 0a6.75 6.75 0 1 0 -13.5 0zM840.1 2019.8a6.75 6.75 0 1 0 13.5 0a6.75 6.75 0 1 0 -13.5 0zM844.2 2019.1a6.75 6.75 0 1 0 13.5 0a6.75 6.75 0 1 0 -13.5 0zM848.2 2018.5a6.75 6.75 0 1 0 13.5 0a6.75 6.75 0 1 0 -13.5 0zM852.3 2017.8a6.75 6.75 0 1 0 13.5 0a6.75 6.75 0 1 0 -13.5 0zM856.4 2017.2a6.75 6.75 0 1 0 13.5 0a6.75 6.75 0 1 0 -13.5 0zM860.4 2016.5a6.75 6.75 0 1 0 13.5 0a6.75 6.75 0 1 0 -13.5 0zM864.5 2015.9a6.75 6.75 0 1 0 13.5 0a6.75 6.75 0 1 0 -13.5 0zM868.8 2015.2a6.75 6.75 0 1 0 13.5 0a6.75 6.75 0 1 0 -13.5 0zM873.1 2014.5a6.75 6.75 0 1 0 13.5 0a6.75 6.75 0 1 0 -13.5 0zM877.5 2013.8a6.75 6.75 0 1 0 13.5 0a6.75 6.75 0 1 0 -13.5 0zM881.8 2013.1a6.75 6.75 0 1 0 13.5 0a6.75 6.75 0 1 0 -13.5 0zM886.1 2012.5a6.75 6.75 0 1 0 13.5 0a6.75 6.75 0 1 0 -13.5 0zM889.8 2011.9a6.75 6.75 0 1 0 13.5 0a6.75 6.75 0 1 0 -13.5 0zM893.6 2011.4a6.75 6.75 0 1 0 13.5 0a6.75 6.75 0 1 0 -13.5 0zM897.3 2010.8a6.75 6.75 0 1 0 13.5 0a6.75 6.75 0 1 0 -13.5 0zM901 2010.3a6.75 6.75 0 1 0 13.5 0a6.75 6.75 0 1 0 -13.5 0zM904.8 2009.8a6.75 6.75 0 1 0 13.5 0a6.75 6.75 0 1 0 -13.5 0zM908.5 2009.4a6.75 6.75 0 1 0 13.5 0a6.75 6.75 0 1 0 -13.5 0zM912.2 2009a6.75 6.75 0 1 0 13.5 0a6.75 6.75 0 1 0 -13.5 0zM915.9 2008.6a6.75 6.75 0 1 0 13.5 0a6.75 6.75 0 1 0 -13.5 0zM919.6 2008.4a6.75 6.75 0 1 0 13.5 0a6.75 6.75 0 1 0 -13.5 0zM924.1 2008.6a6.75 6.75 0 1 0 13.5 0a6.75 6.75 0 1 0 -13.5 0zM928.7 2009.1a6.75 6.75 0 1 0 13.5 0a6.75 6.75 0 1 0 -13.5 0zM933.2 2009.7a6.75 6.75 0 1 0 13.5 0a6.75 6.75 0 1 0 -13.5 0zM937.4 2010.3a6.75 6.75 0 1 0 13.5 0a6.75 6.75 0 1 0 -13.5 0zM941.7 2011.1a6.75 6.75 0 1 0 13.5 0a6.75 6.75 0 1 0 -13.5 0zM945.3 2012.1a6.75 6.75 0 1 0 13.5 0a6.75 6.75 0 1 0 -13.5 0zM948.9 2013.4a6.75 6.75 0 1 0 13.5 0a6.75 6.75 0 1 0 -13.5 0zM952.5 2015a6.75 6.75 0 1 0 13.5 0a6.75 6.75 0 1 0 -13.5 0zM956.2 2017.3a6.75 6.75 0 1 0 13.5 0a6.75 6.75 0 1 0 -13.5 0zM959.9 2019.8a6.75 6.75 0 1 0 13.5 0a6.75 6.75 0 1 0 -13.5 0zM964.3 2022.3a6.75 6.75 0 1 0 13.5 0a6.75 6.75 0 1 0 -13.5 0zM968.7 2024.6a6.75 6.75 0 1 0 13.5 0a6.75 6.75 0 1 0 -13.5 0zM973.2 2027.1a6.75 6.75 0 1 0 13.5 0a6.75 6.75 0 1 0 -13.5 0zM977.6 2029.8a6.75 6.75 0 1 0 13.5 0a6.75 6.75 0 1 0 -13.5 0zM982.1 2032.6a6.75 6.75 0 1 0 13.5 0a6.75 6.75 0 1 0 -13.5 0zM986.6 2035.2a6.75 6.75 0 1 0 13.5 0a6.75 6.75 0 1 0 -13.5 0zM989.9 2036.9a6.75 6.75 0 1 0 13.5 0a6.75 6.75 0 1 0 -13.5 0zM993.2 2038.3a6.75 6.75 0 1 0 13.5 0a6.75 6.75 0 1 0 -13.5 0zM997.9 2039.3a6.75 6.75 0 1 0 13.5 0a6.75 6.75 0 1 0 -13.5 0zM1002.5 2039.8a6.75 6.75 0 1 0 13.5 0a6.75 6.75 0 1 0 -13.5 0zM1005.8 2038.9a6.75 6.75 0 1 0 13.5 0a6.75 6.75 0 1 0 -13.5 0zM1009.1 2037.1a6.75 6.75 0 1 0 13.5 0a6.75 6.75 0 1 0 -13.5 0zM1014.2 2032.9a6.75 6.75 0 1 0 13.5 0a6.75 6.75 0 1 0 -13.5 0zM1018.1 2030.1a6.75 6.75 0 1 0 13.5 0a6.75 6.75 0 1 0 -13.5 0zM1021.2 2027.1a6.75 6.75 0 1 0 13.5 0a6.75 6.75 0 1 0 -13.5 0zM1023.9 2022.9a6.75 6.75 0 1 0 13.5 0a6.75 6.75 0 1 0 -13.5 0zM1026.7 2017.4a6.75 6.75 0 1 0 13.5 0a6.75 6.75 0 1 0 -13.5 0zM1029.5 2010.5a6.75 6.75 0 1 0 13.5 0a6.75 6.75 0 1 0 -13.5 0zM1032.9 2001a6.75 6.75 0 1 0 13.5 0a6.75 6.75 0 1 0 -13.5 0zM1036.6 1989a6.75 6.75 0 1 0 13.5 0a6.75 6.75 0 1 0 -13.5 0zM1040.8 1974.3a6.75 6.75 0 1 0 13.5 0a6.75 6.75 0 1 0 -13.5 0zM1044.2 1958.4a6.75 6.75 0 1 0 13.5 0a6.75 6.75 0 1 0 -13.5 0zM1047.9 1943.3a6.75 6.75 0 1 0 13.5 0a6.75 6.75 0 1 0 -13.5 0zM1053.1 1924a6.75 6.75 0 1 0 13.5 0a6.75 6.75 0 1 0 -13.5 0zM1056.2 1903a6.75 6.75 0 1 0 13.5 0a6.75 6.75 0 1 0 -13.5 0zM1059.7 1882a6.75 6.75 0 1 0 13.5 0a6.75 6.75 0 1 0 -13.5 0zM1063.1 1860.1a6.75 6.75 0 1 0 13.5 0a6.75 6.75 0 1 0 -13.5 0zM1066.5 1832.4a6.75 6.75 0 1 0 13.5 0a6.75 6.75 0 1 0 -13.5 0zM1069.9 1804.4a6.75 6.75 0 1 0 13.5 0a6.75 6.75 0 1 0 -13.5 0zM1074.4 1773.3a6.75 6.75 0 1 0 13.5 0a6.75 6.75 0 1 0 -13.5 0zM1078.4 1736.6a6.75 6.75 0 1 0 13.5 0a6.75 6.75 0 1 0 -13.5 0zM1081.8 1693.2a6.75 6.75 0 1 0 13.5 0a6.75 6.75 0 1 0 -13.5 0zM1086 1643.1a6.75 6.75 0 1 0 13.5 0a6.75 6.75 0 1 0 -13.5 0zM1089.2 1592.1a6.75 6.75 0 1 0 13.5 0a6.75 6.75 0 1 0 -13.5 0zM1092.9 1533.9a6.75 6.75 0 1 0 13.5 0a6.75 6.75 0 1 0 -13.5 0zM1096.5 1474.2a6.75 6.75 0 1 0 13.5 0a6.75 6.75 0 1 0 -13.5 0zM1101.6 1421.6a6.75 6.75 0 1 0 13.5 0a6.75 6.75 0 1 0 -13.5 0zM1104.9 1382.9a6.75 6.75 0 1 0 13.5 0a6.75 6.75 0 1 0 -13.5 0zM1108.7 1363.3a6.75 6.75 0 1 0 13.5 0a6.75 6.75 0 1 0 -13.5 0zM1112 1363.3a6.75 6.75 0 1 0 13.5 0a6.75 6.75 0 1 0 -13.5 0zM1115.5 1382.9a6.75 6.75 0 1 0 13.5 0a6.75 6.75 0 1 0 -13.5 0zM1119 1416.2a6.75 6.75 0 1 0 13.5 0a6.75 6.75 0 1 0 -13.5 0zM1122.7 1463.6a6.75 6.75 0 1 0 13.5 0a6.75 6.75 0 1 0 -13.5 0zM1128.1 1514.8a6.75 6.75 0 1 0 13.5 0a6.75 6.75 0 1 0 -13.5 0zM1131.4 1556.8a6.75 6.75 0 1 0 13.5 0a6.75 6.75 0 1 0 -13.5 0zM1135.1 1595.8a6.75 6.75 0 1 0 13.5 0a6.75 6.75 0 1 0 -13.5 0zM1138.4 1634.7a6.75 6.75 0 1 0 13.5 0a6.75 6.75 0 1 0 -13.5 0zM1142 1672.5a6.75 6.75 0 1 0 13.5 0a6.75 6.75 0 1 0 -13.5 0zM1145.4 1703.9a6.75 6.75 0 1 0 13.5 0a6.75 6.75 0 1 0 -13.5 0zM1151.1 1734.1a6.75 6.75 0 1 0 13.5 0a6.75 6.75 0 1 0 -13.5 0zM1154.4 1762.1a6.75 6.75 0 1 0 13.5 0a6.75 6.75 0 1 0 -13.5 0zM1157.7 1783.1a6.75 6.75 0 1 0 13.5 0a6.75 6.75 0 1 0 -13.5 0zM1161.3 1806.1a6.75 6.75 0 1 0 13.5 0a6.75 6.75 0 1 0 -13.5 0zM1165 1827.1a6.75 6.75 0 1 0 13.5 0a6.75 6.75 0 1 0 -13.5 0zM1168.4 1844.5a6.75 6.75 0 1 0 13.5 0a6.75 6.75 0 1 0 -13.5 0zM1171.8 1858.5a6.75 6.75 0 1 0 13.5 0a6.75 6.75 0 1 0 -13.5 0zM1177.2 1871.6a6.75 6.75 0 1 0 13.5 0a6.75 6.75 0 1 0 -13.5 0zM1180.7 1884.5a6.75 6.75 0 1 0 13.5 0a6.75 6.75 0 1 0 -13.5 0zM1183.7 1895.2a6.75 6.75 0 1 0 13.5 0a6.75 6.75 0 1 0 -13.5 0zM1187.2 1904.1a6.75 6.75 0 1 0 13.5 0a6.75 6.75 0 1 0 -13.5 0zM1190.9 1912.8a6.75 6.75 0 1 0 13.5 0a6.75 6.75 0 1 0 -13.5 0zM1194.6 1919.8a6.75 6.75 0 1 0 13.5 0a6.75 6.75 0 1 0 -13.5 0zM1198.2 1926.8a6.75 6.75 0 1 0 13.5 0a6.75 6.75 0 1 0 -13.5 0zM1202.2 1932.1a6.75 6.75 0 1 0 13.5 0a6.75 6.75 0 1 0 -13.5 0zM1206.1 1938a6.75 6.75 0 1 0 13.5 0a6.75 6.75 0 1 0 -13.5 0zM1210.1 1942.8a6.75 6.75 0 1 0 13.5 0a6.75 6.75 0 1 0 -13.5 0zM1213.6 1947.8a6.75 6.75 0 1 0 13.5 0a6.75 6.75 0 1 0 -13.5 0zM1217.6 1952.1a6.75 6.75 0 1 0 13.5 0a6.75 6.75 0 1 0 -13.5 0zM1221 1956.2a6.75 6.75 0 1 0 13.5 0a6.75 6.75 0 1 0 -13.5 0zM1224.3 1960.1a6.75 6.75 0 1 0 13.5 0a6.75 6.75 0 1 0 -13.5 0zM1228 1964.3a6.75 6.75 0 1 0 13.5 0a6.75 6.75 0 1 0 -13.5 0zM1231.7 1968.2a6.75 6.75 0 1 0 13.5 0a6.75 6.75 0 1 0 -13.5 0zM1235.4 1971.6a6.75 6.75 0 1 0 13.5 0a6.75 6.75 0 1 0 -13.5 0zM1239.1 1974.4a6.75 6.75 0 1 0 13.5 0a6.75 6.75 0 1 0 -13.5 0zM1242.8 1976.9a6.75 6.75 0 1 0 13.5 0a6.75 6.75 0 1 0 -13.5 0zM1246.5 1979.5a6.75 6.75 0 1 0 13.5 0a6.75 6.75 0 1 0 -13.5 0zM1250.2 1982.1a6.75 6.75 0 1 0 13.5 0a6.75 6.75 0 1 0 -13.5 0zM1253.9 1984.7a6.75 6.75 0 1 0 13.5 0a6.75 6.75 0 1 0 -13.5 0zM1257.6 1987.3a6.75 6.75 0 1 0 13.5 0a6.75 6.75 0 1 0 -13.5 0zM1261.3 1989.8a6.75 6.75 0 1 0 13.5 0a6.75 6.75 0 1 0 -13.5 0zM1265 1992.1a6.75 6.75 0 1 0 13.5 0a6.75 6.75 0 1 0 -13.5 0zM1268.7 1994.3a6.75 6.75 0 1 0 13.5 0a6.75 6.75 0 1 0 -13.5 0zM1272.4 1996.2a6.75 6.75 0 1 0 13.5 0a6.75 6.75 0 1 0 -13.5 0zM1276.1 1997.9a6.75 6.75 0 1 0 13.5 0a6.75 6.75 0 1 0 -13.5 0zM1279.8 1999.6a6.75 6.75 0 1 0 13.5 0a6.75 6.75 0 1 0 -13.5 0zM1283.5 2001.3a6.75 6.75 0 1 0 13.5 0a6.75 6.75 0 1 0 -13.5 0zM1287.2 2002.9a6.75 6.75 0 1 0 13.5 0a6.75 6.75 0 1 0 -13.5 0zM1290.9 2004.4a6.75 6.75 0 1 0 13.5 0a6.75 6.75 0 1 0 -13.5 0zM1294.9 2005.7a6.75 6.75 0 1 0 13.5 0a6.75 6.75 0 1 0 -13.5 0zM1298.9 2006.9a6.75 6.75 0 1 0 13.5 0a6.75 6.75 0 1 0 -13.5 0zM1302.8 2008a6.75 6.75 0 1 0 13.5 0a6.75 6.75 0 1 0 -13.5 0zM1306.9 2009.1a6.75 6.75 0 1 0 13.5 0a6.75 6.75 0 1 0 -13.5 0zM1311.1 2010a6.75 6.75 0 1 0 13.5 0a6.75 6.75 0 1 0 -13.5 0zM1315.2 2010.8a6.75 6.75 0 1 0 13.5 0a6.75 6.75 0 1 0 -13.5 0zM1318.9 2011.5a6.75 6.75 0 1 0 13.5 0a6.75 6.75 0 1 0 -13.5 0zM1322.7 2012.1a6.75 6.75 0 1 0 13.5 0a6.75 6.75 0 1 0 -13.5 0zM1326.4 2012.7a6.75 6.75 0 1 0 13.5 0a6.75 6.75 0 1 0 -13.5 0zM1330.2 2013.2a6.75 6.75 0 1 0 13.5 0a6.75 6.75 0 1 0 -13.5 0zM1333.9 2013.8a6.75 6.75 0 1 0 13.5 0a6.75 6.75 0 1 0 -13.5 0zM1337.7 2014.3a6.75 6.75 0 1 0 13.5 0a6.75 6.75 0 1 0 -13.5 0zM1341.4 2014.7a6.75 6.75 0 1 0 13.5 0a6.75 6.75 0 1 0 -13.5 0zM1345.5 2015.3a6.75 6.75 0 1 0 13.5 0a6.75 6.75 0 1 0 -13.5 0zM1349.6 2015.8a6.75 6.75 0 1 0 13.5 0a6.75 6.75 0 1 0 -13.5 0zM1353.8 2016.2a6.75 6.75 0 1 0 13.5 0a6.75 6.75 0 1 0 -13.5 0zM1357.9 2016.7a6.75 6.75 0 1 0 13.5 0a6.75 6.75 0 1 0 -13.5 0zM1362 2017.1a6.75 6.75 0 1 0 13.5 0a6.75 6.75 0 1 0 -13.5 0zM1366.1 2017.5a6.75 6.75 0 1 0 13.5 0a6.75 6.75 0 1 0 -13.5 0zM1369.9 2017.9a6.75 6.75 0 1 0 13.5 0a6.75 6.75 0 1 0 -13.5 0zM1373.7 2018.2a6.75 6.75 0 1 0 13.5 0a6.75 6.75 0 1 0 -13.5 0zM1377.4 2018.6a6.75 6.75 0 1 0 13.5 0a6.75 6.75 0 1 0 -13.5 0zM1381.2 2018.9a6.75 6.75 0 1 0 13.5 0a6.75 6.75 0 1 0 -13.5 0zM1385 2019.2a6.75 6.75 0 1 0 13.5 0a6.75 6.75 0 1 0 -13.5 0zM1388.7 2019.5a6.75 6.75 0 1 0 13.5 0a6.75 6.75 0 1 0 -13.5 0zM1392.5 2019.8a6.75 6.75 0 1 0 13.5 0a6.75 6.75 0 1 0 -13.5 0zM1396.3 2020.1a6.75 6.75 0 1 0 13.5 0a6.75 6.75 0 1 0 -13.5 0zM1400.1 2020.3a6.75 6.75 0 1 0 13.5 0a6.75 6.75 0 1 0 -13.5 0zM1404.2 2020.6a6.75 6.75 0 1 0 13.5 0a6.75 6.75 0 1 0 -13.5 0zM1408.3 2020.9a6.75 6.75 0 1 0 13.5 0a6.75 6.75 0 1 0 -13.5 0zM1412.4 2021.2a6.75 6.75 0 1 0 13.5 0a6.75 6.75 0 1 0 -13.5 0zM1416.5 2021.5a6.75 6.75 0 1 0 13.5 0a6.75 6.75 0 1 0 -13.5 0zM1420.6 2021.8a6.75 6.75 0 1 0 13.5 0a6.75 6.75 0 1 0 -13.5 0zM1424.7 2022a6.75 6.75 0 1 0 13.5 0a6.75 6.75 0 1 0 -13.5 0zM1428.8 2022.3a6.75 6.75 0 1 0 13.5 0a6.75 6.75 0 1 0 -13.5 0zM1432.9 2022.6a6.75 6.75 0 1 0 13.5 0a6.75 6.75 0 1 0 -13.5 0zM1436.9 2022.9a6.75 6.75 0 1 0 13.5 0a6.75 6.75 0 1 0 -13.5 0zM1440.8 2023.1a6.75 6.75 0 1 0 13.5 0a6.75 6.75 0 1 0 -13.5 0zM1444.8 2023.4a6.75 6.75 0 1 0 13.5 0a6.75 6.75 0 1 0 -13.5 0zM1448.7 2023.7a6.75 6.75 0 1 0 13.5 0a6.75 6.75 0 1 0 -13.5 0zM1452.6 2024a6.75 6.75 0 1 0 13.5 0a6.75 6.75 0 1 0 -13.5 0zM1456.6 2024.3a6.75 6.75 0 1 0 13.5 0a6.75 6.75 0 1 0 -13.5 0zM1460.5 2024.5a6.75 6.75 0 1 0 13.5 0a6.75 6.75 0 1 0 -13.5 0zM1464.5 2024.8a6.75 6.75 0 1 0 13.5 0a6.75 6.75 0 1 0 -13.5 0zM1468.4 2025.1a6.75 6.75 0 1 0 13.5 0a6.75 6.75 0 1 0 -13.5 0zM1472.4 2025.4a6.75 6.75 0 1 0 13.5 0a6.75 6.75 0 1 0 -13.5 0zM1476.3 2025.6a6.75 6.75 0 1 0 13.5 0a6.75 6.75 0 1 0 -13.5 0zM1480.2 2025.9a6.75 6.75 0 1 0 13.5 0a6.75 6.75 0 1 0 -13.5 0zM1484.2 2026.1a6.75 6.75 0 1 0 13.5 0a6.75 6.75 0 1 0 -13.5 0zM1488.1 2026.3a6.75 6.75 0 1 0 13.5 0a6.75 6.75 0 1 0 -13.5 0zM1492.1 2026.5a6.75 6.75 0 1 0 13.5 0a6.75 6.75 0 1 0 -13.5 0zM1496 2026.7a6.75 6.75 0 1 0 13.5 0a6.75 6.75 0 1 0 -13.5 0zM1500 2027a6.75 6.75 0 1 0 13.5 0a6.75 6.75 0 1 0 -13.5 0zM1503.9 2027.2a6.75 6.75 0 1 0 13.5 0a6.75 6.75 0 1 0 -13.5 0zM1507.9 2027.4a6.75 6.75 0 1 0 13.5 0a6.75 6.75 0 1 0 -13.5 0zM1511.9 2027.6a6.75 6.75 0 1 0 13.5 0a6.75 6.75 0 1 0 -13.5 0zM1515.8 2027.8a6.75 6.75 0 1 0 13.5 0a6.75 6.75 0 1 0 -13.5 0zM1519.8 2028a6.75 6.75 0 1 0 13.5 0a6.75 6.75 0 1 0 -13.5 0zM1523.7 2028.1a6.75 6.75 0 1 0 13.5 0a6.75 6.75 0 1 0 -13.5 0zM1527.7 2028.3a6.75 6.75 0 1 0 13.5 0a6.75 6.75 0 1 0 -13.5 0zM1531.6 2028.5a6.75 6.75 0 1 0 13.5 0a6.75 6.75 0 1 0 -13.5 0zM1535.6 2028.7a6.75 6.75 0 1 0 13.5 0a6.75 6.75 0 1 0 -13.5 0zM1539.5 2028.9a6.75 6.75 0 1 0 13.5 0a6.75 6.75 0 1 0 -13.5 0zM1543.5 2029.1a6.75 6.75 0 1 0 13.5 0a6.75 6.75 0 1 0 -13.5 0zM1547.4 2029.2a6.75 6.75 0 1 0 13.5 0a6.75 6.75 0 1 0 -13.5 0zM1551.4 2029.4a6.75 6.75 0 1 0 13.5 0a6.75 6.75 0 1 0 -13.5 0zM1555.3 2029.6a6.75 6.75 0 1 0 13.5 0a6.75 6.75 0 1 0 -13.5 0zM1559.3 2029.8a6.75 6.75 0 1 0 13.5 0a6.75 6.75 0 1 0 -13.5 0zM1563.2 2029.9a6.75 6.75 0 1 0 13.5 0a6.75 6.75 0 1 0 -13.5 0zM1567.2 2030.1a6.75 6.75 0 1 0 13.5 0a6.75 6.75 0 1 0 -13.5 0zM1571.1 2030.3a6.75 6.75 0 1 0 13.5 0a6.75 6.75 0 1 0 -13.5 0zM1575.1 2030.4a6.75 6.75 0 1 0 13.5 0a6.75 6.75 0 1 0 -13.5 0zM1579 2030.6a6.75 6.75 0 1 0 13.5 0a6.75 6.75 0 1 0 -13.5 0zM1582.9 2030.7a6.75 6.75 0 1 0 13.5 0a6.75 6.75 0 1 0 -13.5 0zM1586.9 2030.9a6.75 6.75 0 1 0 13.5 0a6.75 6.75 0 1 0 -13.5 0zM1590.8 2031a6.75 6.75 0 1 0 13.5 0a6.75 6.75 0 1 0 -13.5 0zM1594.8 2031.2a6.75 6.75 0 1 0 13.5 0a6.75 6.75 0 1 0 -13.5 0zM1598.7 2031.3a6.75 6.75 0 1 0 13.5 0a6.75 6.75 0 1 0 -13.5 0zM1602.7 2031.5a6.75 6.75 0 1 0 13.5 0a6.75 6.75 0 1 0 -13.5 0zM1606.6 2031.6a6.75 6.75 0 1 0 13.5 0a6.75 6.75 0 1 0 -13.5 0zM1610.6 2031.8a6.75 6.75 0 1 0 13.5 0a6.75 6.75 0 1 0 -13.5 0zM1614.5 2031.9a6.75 6.75 0 1 0 13.5 0a6.75 6.75 0 1 0 -13.5 0zM1618.4 2032.1a6.75 6.75 0 1 0 13.5 0a6.75 6.75 0 1 0 -13.5 0zM1622.4 2032.2a6.75 6.75 0 1 0 13.5 0a6.75 6.75 0 1 0 -13.5 0zM1626.3 2032.4a6.75 6.75 0 1 0 13.5 0a6.75 6.75 0 1 0 -13.5 0zM1630.3 2032.5a6.75 6.75 0 1 0 13.5 0a6.75 6.75 0 1 0 -13.5 0zM1634.2 2032.7a6.75 6.75 0 1 0 13.5 0a6.75 6.75 0 1 0 -13.5 0zM1638.2 2032.8a6.75 6.75 0 1 0 13.5 0a6.75 6.75 0 1 0 -13.5 0zM1642.1 2033a6.75 6.75 0 1 0 13.5 0a6.75 6.75 0 1 0 -13.5 0zM1646.1 2033.1a6.75 6.75 0 1 0 13.5 0a6.75 6.75 0 1 0 -13.5 0zM1650 2033.2a6.75 6.75 0 1 0 13.5 0a6.75 6.75 0 1 0 -13.5 0zM1653.9 2033.4a6.75 6.75 0 1 0 13.5 0a6.75 6.75 0 1 0 -13.5 0zM1657.9 2033.5a6.75 6.75 0 1 0 13.5 0a6.75 6.75 0 1 0 -13.5 0zM1661.8 2033.6a6.75 6.75 0 1 0 13.5 0a6.75 6.75 0 1 0 -13.5 0zM1665.8 2033.8a6.75 6.75 0 1 0 13.5 0a6.75 6.75 0 1 0 -13.5 0zM1669.7 2033.9a6.75 6.75 0 1 0 13.5 0a6.75 6.75 0 1 0 -13.5 0zM1673.7 2034.1a6.75 6.75 0 1 0 13.5 0a6.75 6.75 0 1 0 -13.5 0zM1677.6 2034.2a6.75 6.75 0 1 0 13.5 0a6.75 6.75 0 1 0 -13.5 0zM1681.6 2034.3a6.75 6.75 0 1 0 13.5 0a6.75 6.75 0 1 0 -13.5 0zM1685.5 2034.5a6.75 6.75 0 1 0 13.5 0a6.75 6.75 0 1 0 -13.5 0zM1689.4 2034.6a6.75 6.75 0 1 0 13.5 0a6.75 6.75 0 1 0 -13.5 0zM1693.4 2034.8a6.75 6.75 0 1 0 13.5 0a6.75 6.75 0 1 0 -13.5 0zM1697.3 2034.9a6.75 6.75 0 1 0 13.5 0a6.75 6.75 0 1 0 -13.5 0zM1701.3 2035.1a6.75 6.75 0 1 0 13.5 0a6.75 6.75 0 1 0 -13.5 0zM1705.2 2035.2a6.75 6.75 0 1 0 13.5 0a6.75 6.75 0 1 0 -13.5 0zM1709.2 2035.4a6.75 6.75 0 1 0 13.5 0a6.75 6.75 0 1 0 -13.5 0zM1713.1 2035.5a6.75 6.75 0 1 0 13.5 0a6.75 6.75 0 1 0 -13.5 0zM1717 2035.7a6.75 6.75 0 1 0 13.5 0a6.75 6.75 0 1 0 -13.5 0zM1721 2035.8a6.75 6.75 0 1 0 13.5 0a6.75 6.75 0 1 0 -13.5 0zM1724.9 2036a6.75 6.75 0 1 0 13.5 0a6.75 6.75 0 1 0 -13.5 0zM1728.9 2036.2a6.75 6.75 0 1 0 13.5 0a6.75 6.75 0 1 0 -13.5 0zM1732.8 2036.3a6.75 6.75 0 1 0 13.5 0a6.75 6.75 0 1 0 -13.5 0zM1736.6 2036.5a6.75 6.75 0 1 0 13.5 0a6.75 6.75 0 1 0 -13.5 0zM1740.4 2036.6a6.75 6.75 0 1 0 13.5 0a6.75 6.75 0 1 0 -13.5 0zM1744.2 2036.8a6.75 6.75 0 1 0 13.5 0a6.75 6.75 0 1 0 -13.5 0zM1748 2036.9a6.75 6.75 0 1 0 13.5 0a6.75 6.75 0 1 0 -13.5 0zM1751.8 2037.1a6.75 6.75 0 1 0 13.5 0a6.75 6.75 0 1 0 -13.5 0zM1755.6 2037.2a6.75 6.75 0 1 0 13.5 0a6.75 6.75 0 1 0 -13.5 0zM1759.4 2037.4a6.75 6.75 0 1 0 13.5 0a6.75 6.75 0 1 0 -13.5 0zM1763.2 2037.5a6.75 6.75 0 1 0 13.5 0a6.75 6.75 0 1 0 -13.5 0zM1767 2037.6a6.75 6.75 0 1 0 13.5 0a6.75 6.75 0 1 0 -13.5 0zM1770.8 2037.8a6.75 6.75 0 1 0 13.5 0a6.75 6.75 0 1 0 -13.5 0zM1774.6 2037.9a6.75 6.75 0 1 0 13.5 0a6.75 6.75 0 1 0 -13.5 0zM1778.4 2038.1a6.75 6.75 0 1 0 13.5 0a6.75 6.75 0 1 0 -13.5 0zM1782.2 2038.2a6.75 6.75 0 1 0 13.5 0a6.75 6.75 0 1 0 -13.5 0zM1786 2038.3a6.75 6.75 0 1 0 13.5 0a6.75 6.75 0 1 0 -13.5 0zM1789.8 2038.4a6.75 6.75 0 1 0 13.5 0a6.75 6.75 0 1 0 -13.5 0zM1793.6 2038.5a6.75 6.75 0 1 0 13.5 0a6.75 6.75 0 1 0 -13.5 0zM1797.6 2038.7a6.75 6.75 0 1 0 13.5 0a6.75 6.75 0 1 0 -13.5 0zM1801.6 2038.8a6.75 6.75 0 1 0 13.5 0a6.75 6.75 0 1 0 -13.5 0zM1805.6 2038.9a6.75 6.75 0 1 0 13.5 0a6.75 6.75 0 1 0 -13.5 0zM1809.6 2039a6.75 6.75 0 1 0 13.5 0a6.75 6.75 0 1 0 -13.5 0zM1813.6 2039.1a6.75 6.75 0 1 0 13.5 0a6.75 6.75 0 1 0 -13.5 0zM1817.6 2039.2a6.75 6.75 0 1 0 13.5 0a6.75 6.75 0 1 0 -13.5 0zM1821.5 2039.3a6.75 6.75 0 1 0 13.5 0a6.75 6.75 0 1 0 -13.5 0zM1825.5 2039.3a6.75 6.75 0 1 0 13.5 0a6.75 6.75 0 1 0 -13.5 0zM1829.5 2039.4a6.75 6.75 0 1 0 13.5 0a6.75 6.75 0 1 0 -13.5 0zM1833.5 2039.5a6.75 6.75 0 1 0 13.5 0a6.75 6.75 0 1 0 -13.5 0zM1837.5 2039.6a6.75 6.75 0 1 0 13.5 0a6.75 6.75 0 1 0 -13.5 0zM1841.5 2039.7a6.75 6.75 0 1 0 13.5 0a6.75 6.75 0 1 0 -13.5 0zM1845.5 2039.8a6.75 6.75 0 1 0 13.5 0a6.75 6.75 0 1 0 -13.5 0zM1849.5 2039.9a6.75 6.75 0 1 0 13.5 0a6.75 6.75 0 1 0 -13.5 0zM1853.4 2039.9a6.75 6.75 0 1 0 13.5 0a6.75 6.75 0 1 0 -13.5 0zM1857.4 2040a6.75 6.75 0 1 0 13.5 0a6.75 6.75 0 1 0 -13.5 0zM1861.4 2040.1a6.75 6.75 0 1 0 13.5 0a6.75 6.75 0 1 0 -13.5 0zM1865.4 2040.2a6.75 6.75 0 1 0 13.5 0a6.75 6.75 0 1 0 -13.5 0zM1869.4 2040.3a6.75 6.75 0 1 0 13.5 0a6.75 6.75 0 1 0 -13.5 0zM1873.3 2040.4a6.75 6.75 0 1 0 13.5 0a6.75 6.75 0 1 0 -13.5 0zM1877.2 2040.5a6.75 6.75 0 1 0 13.5 0a6.75 6.75 0 1 0 -13.5 0zM1881.2 2040.6a6.75 6.75 0 1 0 13.5 0a6.75 6.75 0 1 0 -13.5 0zM1885.1 2040.7a6.75 6.75 0 1 0 13.5 0a6.75 6.75 0 1 0 -13.5 0zM1889.1 2040.8a6.75 6.75 0 1 0 13.5 0a6.75 6.75 0 1 0 -13.5 0zM1893 2041a6.75 6.75 0 1 0 13.5 0a6.75 6.75 0 1 0 -13.5 0zM1897 2041.1a6.75 6.75 0 1 0 13.5 0a6.75 6.75 0 1 0 -13.5 0zM1900.9 2041.2a6.75 6.75 0 1 0 13.5 0a6.75 6.75 0 1 0 -13.5 0zM1904.8 2041.3a6.75 6.75 0 1 0 13.5 0a6.75 6.75 0 1 0 -13.5 0zM1908.8 2041.4a6.75 6.75 0 1 0 13.5 0a6.75 6.75 0 1 0 -13.5 0zM1912.7 2041.5a6.75 6.75 0 1 0 13.5 0a6.75 6.75 0 1 0 -13.5 0zM1916.7 2041.6a6.75 6.75 0 1 0 13.5 0a6.75 6.75 0 1 0 -13.5 0zM1920.6 2041.7a6.75 6.75 0 1 0 13.5 0a6.75 6.75 0 1 0 -13.5 0zM1924.6 2041.8a6.75 6.75 0 1 0 13.5 0a6.75 6.75 0 1 0 -13.5 0zM1928.5 2041.9a6.75 6.75 0 1 0 13.5 0a6.75 6.75 0 1 0 -13.5 0zM1932.5 2042a6.75 6.75 0 1 0 13.5 0a6.75 6.75 0 1 0 -13.5 0zM1936.4 2042a6.75 6.75 0 1 0 13.5 0a6.75 6.75 0 1 0 -13.5 0zM1940.3 2042.1a6.75 6.75 0 1 0 13.5 0a6.75 6.75 0 1 0 -13.5 0zM1944.1 2042.2a6.75 6.75 0 1 0 13.5 0a6.75 6.75 0 1 0 -13.5 0zM1948 2042.3a6.75 6.75 0 1 0 13.5 0a6.75 6.75 0 1 0 -13.5 0zM1951.8 2042.4a6.75 6.75 0 1 0 13.5 0a6.75 6.75 0 1 0 -13.5 0zM1955.7 2042.4a6.75 6.75 0 1 0 13.5 0a6.75 6.75 0 1 0 -13.5 0zM1959.6 2042.5a6.75 6.75 0 1 0 13.5 0a6.75 6.75 0 1 0 -13.5 0zM1963.4 2042.6a6.75 6.75 0 1 0 13.5 0a6.75 6.75 0 1 0 -13.5 0zM1967.3 2042.6a6.75 6.75 0 1 0 13.5 0a6.75 6.75 0 1 0 -13.5 0zM1971.1 2042.7a6.75 6.75 0 1 0 13.5 0a6.75 6.75 0 1 0 -13.5 0zM1975 2042.8a6.75 6.75 0 1 0 13.5 0a6.75 6.75 0 1 0 -13.5 0zM1978.8 2042.8a6.75 6.75 0 1 0 13.5 0a6.75 6.75 0 1 0 -13.5 0zM1982.7 2042.9a6.75 6.75 0 1 0 13.5 0a6.75 6.75 0 1 0 -13.5 0zM1986.6 2043a6.75 6.75 0 1 0 13.5 0a6.75 6.75 0 1 0 -13.5 0zM1990.4 2043a6.75 6.75 0 1 0 13.5 0a6.75 6.75 0 1 0 -13.5 0zM1994.3 2043.1a6.75 6.75 0 1 0 13.5 0a6.75 6.75 0 1 0 -13.5 0zM1998.1 2043.1a6.75 6.75 0 1 0 13.5 0a6.75 6.75 0 1 0 -13.5 0zM2002 2043.2a6.75 6.75 0 1 0 13.5 0a6.75 6.75 0 1 0 -13.5 0zM2005.9 2043.3a6.75 6.75 0 1 0 13.5 0a6.75 6.75 0 1 0 -13.5 0zM2009.7 2043.3a6.75 6.75 0 1 0 13.5 0a6.75 6.75 0 1 0 -13.5 0zM2013.6 2043.4a6.75 6.75 0 1 0 13.5 0a6.75 6.75 0 1 0 -13.5 0zM2017.4 2043.5a6.75 6.75 0 1 0 13.5 0a6.75 6.75 0 1 0 -13.5 0zM2021.3 2043.5a6.75 6.75 0 1 0 13.5 0a6.75 6.75 0 1 0 -13.5 0zM2025.2 2043.6a6.75 6.75 0 1 0 13.5 0a6.75 6.75 0 1 0 -13.5 0z"/></g>
<g stroke="#ff0000" stroke-width="2.6" fill="none" stroke-linejoin="round"><path d="M179.8 2049.8L183.7 2049.7L187.6 2049.6L191.6 2049.5L195.5 2049.4L199.4 2049.3L203.3 2049.2L207.2 2049.1L211.1 2049L215.1 2048.9L219 2048.9L222.9 2048.8L226.8 2048.7L230.7 2048.6L234.7 2048.5L238.6 2048.4L242.5 2048.3L246.4 2048.2L250.3 2048.1L254.2 2048L258.2 2047.9L262.1 2047.9L266 2047.8L269.9 2047.7L273.8 2047.6L277.7 2047.5L281.7 2047.4L285.6 2047.3L289.5 2047.2L293.5 2047.1L297.4 2047L301.4 2046.8L305.3 2046.7L309.3 2046.6L313.2 2046.5L317.1 2046.4L321.1 2046.3L325 2046.2L329 2046L332.9 2045.9L336.8 2045.8L340.8 2045.7L344.7 2045.6L348.7 2045.5L352.6 2045.3L356.5 2045.2L360.5 2045.1L364.4 2045L368.4 2044.9L372.3 2044.8L376.3 2044.7L380.2 2044.6L384.1 2044.5L388.1 2044.4L392 2044.3L395.8 2044.2L399.7 2044.1L403.5 2044L407.3 2044L411.2 2043.9L415 2043.8L418.8 2043.7L422.6 2043.7L426.5 2043.6L430.3 2043.5L434.1 2043.5L437.9 2043.4L441.8 2043.3L445.6 2043.3L449.4 2043.2L453.2 2043.1L457.1 2043.1L460.9 2043L464.7 2042.9L468.6 2042.8L472.4 2042.8L476.2 2042.7L480 2042.6L483.9 2042.5L487.7 2042.4L491.5 2042.3L495.3 2042.3L499.2 2042.2L503 2042L506.9 2041.9L510.8 2041.8L514.7 2041.7L518.6 2041.5L522.6 2041.4L526.5 2041.3L530.4 2041.1L534.3 2040.9L538.2 2040.8L542.1 2040.6L546 2040.4L549.9 2040.3L553.9 2040.1L557.8 2039.9L561.7 2039.7L565.6 2039.6L569.5 2039.4L573.5 2039.2L577.5 2039L581.4 2038.9L585.4 2038.7L589.4 2038.5L593.4 2038.3L597.3 2038.1L601.3 2037.9L605.3 2037.7L609.3 2037.6L613.2 2037.4L617.2 2037.2L621.2 2037L625.2 2036.8L629.1 2036.5L633.1 2036.3L637.1 2036.1L641.1 2035.9L645 2035.7L649 2035.5L652.9 2035.2L656.7 2035L660.6 2034.8L664.4 2034.6L668.3 2034.3L672.1 2034.1L676 2033.8L679.8 2033.6L683.7 2033.3L687.5 2033.1L691.4 2032.8L695.2 2032.6L699.1 2032.3L702.9 2032L706.8 2031.8L710.6 2031.5L714.5 2031.2L718.3 2031L722.2 2030.7L726 2030.4L729.9 2030.1L733.7 2029.9L737.6 2029.6L741.5 2029.3L745.3 2029L749.2 2028.7L753.1 2028.4L756.9 2028.2L760.8 2027.9L764.6 2027.6L768.5 2027.3L772.4 2027L776.2 2026.7L780.1 2026.3L784 2026L787.8 2025.7L791.7 2025.4L795.6 2025.1L799.4 2024.8L803.3 2024.5L807.2 2024.2L811 2023.8L814.9 2023.5L818.8 2023.2L822.6 2022.9L826.5 2022.6L830.4 2022.3L834.3 2021.9L838.2 2021.6L842.1 2021.2L846 2020.9L849.9 2020.5L853.8 2020.2L857.7 2019.8L861.6 2019.4L865.5 2019.1L869.4 2018.8L873.3 2018.4L877.2 2018.1L881.1 2017.8L885.1 2017.5L889 2017.2L892.9 2017L896.8 2016.7L900.7 2016.5L904.6 2016.3L908.5 2016L912.4 2015.8L916.4 2015.6L920.3 2015.4L924.2 2015.2L928.1 2015L932 2014.8L936 2014.7L939.9 2014.6L943.8 2014.5L947.8 2014.4L951.9 2014.3L955.9 2014.2L960 2014.2L964 2014.2L968 2014.2L972 2014.2L975.9 2014.2L979.9 2014.2L983.9 2014.2L988 2014.1L992.1 2013.9L996.2 2013.6L1000.3 2013.1L1004.4 2012.4L1008.5 2011.6L1012.6 2010.5L1017.3 2005.2L1021.2 1999.9L1025.2 1994.3L1027.9 1989.5L1031.4 1982.5L1034.9 1973.6L1038.6 1963.2L1041.3 1950.6L1044.4 1940L1047.5 1924.3L1051.2 1907.8L1055.3 1891.8L1059.2 1869.1L1062.6 1848.5L1066.3 1827.1L1069.9 1804.4L1073.9 1778.4L1076.6 1758.5L1081.9 1736.6L1085.2 1719.8L1089 1705.3L1092 1697.4L1095.2 1692.1L1099.2 1687.9L1103.2 1688.6L1107.4 1696.3L1111.6 1718.7L1114.8 1740.6L1118.3 1765.2L1121.9 1787.9L1125.9 1809.7L1129.2 1833.1L1134.6 1853.1L1138.5 1870.5L1141.8 1883.8L1145.2 1894.3L1150.5 1905.2L1154.4 1914.8L1158.4 1923.2L1161.8 1931L1165.7 1938.3L1169.1 1945.6L1173.1 1953.4L1176.4 1959.6L1179.8 1965.2L1186.1 1973.6L1190.5 1977.9L1194.9 1982L1198.8 1986.1L1202.7 1990.3L1206.6 1994.3L1211.1 1998.3L1215.5 2002L1219.9 2005.5L1224.3 2008.9L1228.8 2012.2L1233.2 2015L1237.6 2017.5L1242 2019.6L1246.5 2021.2L1251.5 2022.4L1256.5 2023.1L1261.7 2023.4L1267.9 2023.1L1272.2 2022.5L1276.6 2021.5L1281.5 2019.9L1286.4 2017.8L1290.3 2016L1294.2 2014L1298.2 2011.9L1302.1 2009.9L1306 2007.8L1309.9 2005.8L1314.9 2003.2L1319.9 2001L1324.8 1999.7L1329.6 1998.8L1334.7 1998L1339.8 1997.7L1344 1997.7L1348.2 1997.7L1352.3 1997.7L1356.5 1997.7L1360.7 1997.8L1364.8 1998L1369 1998.4L1373.2 1998.8L1377.3 1999.2L1381.4 1999.7L1385.6 2000.2L1389.7 2000.7L1393.9 2001.2L1398 2001.7L1402.2 2002.2L1406.4 2002.7L1410.5 2003.2L1414.6 2003.7L1418.7 2004.2L1422.8 2004.7L1426.9 2005.3L1431 2005.8L1435.1 2006.3L1439.2 2006.9L1443.2 2007.5L1447.2 2008L1451.2 2008.6L1455.1 2009.3L1459.1 2009.9L1463.1 2010.5L1467.1 2011.1L1471 2011.8L1475 2012.4L1479 2012.9L1483 2013.5L1487 2014L1490.9 2014.5L1494.9 2014.9L1498.8 2015.3L1502.8 2015.7L1506.7 2016.1L1510.7 2016.5L1514.6 2016.9L1518.6 2017.3L1522.6 2017.6L1526.5 2018L1530.5 2018.3L1534.4 2018.7L1538.4 2019L1542.3 2019.3L1546.3 2019.6L1550.2 2019.9L1554.2 2020.2L1558.1 2020.5L1562.1 2020.8L1566 2021L1570 2021.3L1573.9 2021.5L1577.9 2021.8L1581.8 2022L1585.7 2022.3L1589.7 2022.5L1593.6 2022.7L1597.6 2022.9L1601.5 2023.1L1605.5 2023.4L1609.4 2023.6L1613.4 2023.8L1617.3 2024L1621.2 2024.2L1625.2 2024.4L1629.1 2024.6L1633.1 2024.8L1637 2025L1641 2025.2L1644.9 2025.5L1648.9 2025.7L1652.8 2025.9L1656.7 2026.1L1660.7 2026.3L1664.6 2026.5L1668.6 2026.7L1672.5 2026.9L1676.5 2027.1L1680.4 2027.3L1684.4 2027.5L1688.3 2027.7L1692.2 2027.9L1696.2 2028.1L1700.1 2028.3L1704.1 2028.5L1708 2028.7L1712 2028.8L1715.9 2029L1719.9 2029.2L1723.8 2029.4L1727.7 2029.6L1731.7 2029.8L1735.6 2029.9L1739.6 2030.1L1743.4 2030.3L1747.2 2030.6L1751 2030.8L1754.8 2031L1758.6 2031.2L1762.4 2031.4L1766.2 2031.7L1770 2031.9L1773.8 2032.1L1777.6 2032.3L1781.4 2032.6L1785.2 2032.8L1789 2033L1792.8 2033.2L1796.6 2033.3L1800.4 2033.5L1804.4 2033.7L1808.4 2033.8L1812.3 2034L1816.3 2034.1L1820.3 2034.3L1824.3 2034.4L1828.3 2034.5L1832.3 2034.7L1836.3 2034.8L1840.3 2034.9L1844.2 2035L1848.2 2035.2L1852.2 2035.3L1856.2 2035.4L1860.2 2035.5L1864.2 2035.6L1868.2 2035.8L1872.2 2035.9L1876.1 2036L1880 2036.1L1884 2036.2L1887.9 2036.4L1891.9 2036.5L1895.8 2036.6L1899.8 2036.7L1903.7 2036.8L1907.7 2036.9L1911.6 2037.1L1915.5 2037.2L1919.5 2037.3L1923.4 2037.4L1927.4 2037.5L1931.3 2037.6L1935.3 2037.8L1939.2 2037.9L1943.2 2038L1947 2038.1L1950.9 2038.2L1954.7 2038.3L1958.6 2038.5L1962.4 2038.6L1966.3 2038.7L1970.2 2038.8L1974 2038.9L1977.9 2039.1L1981.7 2039.2L1985.6 2039.3L1989.5 2039.4L1993.3 2039.6L1997.2 2039.7L2001 2039.8L2004.9 2039.9L2008.7 2040.1L2012.6 2040.2L2016.5 2040.3L2020.3 2040.4L2024.2 2040.5L2028 2040.7L2031.9 2040.8"/><path d="M174.1 2044h11.5v11.5h-11.5zM178 2043.9h11.5v11.5h-11.5zM181.9 2043.8h11.5v11.5h-11.5zM185.8 2043.7h11.5v11.5h-11.5zM189.7 2043.6h11.5v11.5h-11.5zM193.6 2043.5h11.5v11.5h-11.5zM197.6 2043.5h11.5v11.5h-11.5zM201.5 2043.4h11.5v11.5h-11.5zM205.4 2043.3h11.5v11.5h-11.5zM209.3 2043.2h11.5v11.5h-11.5zM213.2 2043.1h11.5v11.5h-11.5zM217.1 2043h11.5v11.5h-11.5zM221.1 2042.9h11.5v11.5h-11.5zM225 2042.8h11.5v11.5h-11.5zM228.9 2042.7h11.5v11.5h-11.5zM232.8 2042.7h11.5v11.5h-11.5zM236.7 2042.6h11.5v11.5h-11.5zM240.7 2042.5h11.5v11.5h-11.5zM244.6 2042.4h11.5v11.5h-11.5zM248.5 2042.3h11.5v11.5h-11.5zM252.4 2042.2h11.5v11.5h-11.5zM256.3 2042.1h11.5v11.5h-11.5zM260.2 2042h11.5v11.5h-11.5zM264.2 2041.9h11.5v11.5h-11.5zM268.1 2041.8h11.5v11.5h-11.5zM272 2041.7h11.5v11.5h-11.5zM275.9 2041.6h11.5v11.5h-11.5zM279.9 2041.5h11.5v11.5h-11.5zM283.8 2041.4h11.5v11.5h-11.5zM287.7 2041.3h11.5v11.5h-11.5zM291.7 2041.2h11.5v11.5h-11.5zM295.6 2041.1h11.5v11.5h-11.5zM299.6 2041h11.5v11.5h-11.5zM303.5 2040.9h11.5v11.5h-11.5zM307.4 2040.8h11.5v11.5h-11.5zM311.4 2040.6h11.5v11.5h-11.5zM315.3 2040.5h11.5v11.5h-11.5zM319.3 2040.4h11.5v11.5h-11.5zM323.2 2040.3h11.5v11.5h-11.5zM327.2 2040.2h11.5v11.5h-11.5zM331.1 2040.1h11.5v11.5h-11.5zM335 2039.9h11.5v11.5h-11.5zM339 2039.8h11.5v11.5h-11.5zM342.9 2039.7h11.5v11.5h-11.5zM346.9 2039.6h11.5v11.5h-11.5zM350.8 2039.5h11.5v11.5h-11.5zM354.7 2039.4h11.5v11.5h-11.5zM358.7 2039.3h11.5v11.5h-11.5zM362.6 2039.1h11.5v11.5h-11.5zM366.6 2039h11.5v11.5h-11.5zM370.5 2038.9h11.5v11.5h-11.5zM374.4 2038.8h11.5v11.5h-11.5zM378.4 2038.7h11.5v11.5h-11.5zM382.3 2038.6h11.5v11.5h-11.5zM386.3 2038.5h11.5v11.5h-11.5zM390.1 2038.5h11.5v11.5h-11.5zM393.9 2038.4h11.5v11.5h-11.5zM397.7 2038.3h11.5v11.5h-11.5zM401.6 2038.2h11.5v11.5h-11.5zM405.4 2038.1h11.5v11.5h-11.5zM409.2 2038.1h11.5v11.5h-11.5zM413.1 2038h11.5v11.5h-11.5zM416.9 2037.9h11.5v11.5h-11.5zM420.7 2037.8h11.5v11.5h-11.5zM424.5 2037.8h11.5v11.5h-11.5zM428.4 2037.7h11.5v11.5h-11.5zM432.2 2037.6h11.5v11.5h-11.5zM436 2037.6h11.5v11.5h-11.5zM439.8 2037.5h11.5v11.5h-11.5zM443.7 2037.4h11.5v11.5h-11.5zM447.5 2037.4h11.5v11.5h-11.5zM451.3 2037.3h11.5v11.5h-11.5zM455.1 2037.2h11.5v11.5h-11.5zM459 2037.2h11.5v11.5h-11.5zM462.8 2037.1h11.5v11.5h-11.5zM466.6 2037h11.5v11.5h-11.5zM470.5 2036.9h11.5v11.5h-11.5zM474.3 2036.9h11.5v11.5h-11.5zM478.1 2036.8h11.5v11.5h-11.5zM481.9 2036.7h11.5v11.5h-11.5zM485.8 2036.6h11.5v11.5h-11.5zM489.6 2036.5h11.5v11.5h-11.5zM493.4 2036.4h11.5v11.5h-11.5zM497.2 2036.3h11.5v11.5h-11.5zM501.2 2036.2h11.5v11.5h-11.5zM505.1 2036.1h11.5v11.5h-11.5zM509 2035.9h11.5v11.5h-11.5zM512.9 2035.8h11.5v11.5h-11.5zM516.8 2035.7h11.5v11.5h-11.5zM520.7 2035.5h11.5v11.5h-11.5zM524.6 2035.3h11.5v11.5h-11.5zM528.5 2035.2h11.5v11.5h-11.5zM532.5 2035h11.5v11.5h-11.5zM536.4 2034.9h11.5v11.5h-11.5zM540.3 2034.7h11.5v11.5h-11.5zM544.2 2034.5h11.5v11.5h-11.5zM548.1 2034.3h11.5v11.5h-11.5zM552 2034.2h11.5v11.5h-11.5zM555.9 2034h11.5v11.5h-11.5zM559.8 2033.8h11.5v11.5h-11.5zM563.8 2033.6h11.5v11.5h-11.5zM567.7 2033.5h11.5v11.5h-11.5zM571.7 2033.3h11.5v11.5h-11.5zM575.7 2033.1h11.5v11.5h-11.5zM579.7 2032.9h11.5v11.5h-11.5zM583.6 2032.7h11.5v11.5h-11.5zM587.6 2032.6h11.5v11.5h-11.5zM591.6 2032.4h11.5v11.5h-11.5zM595.6 2032.2h11.5v11.5h-11.5zM599.5 2032h11.5v11.5h-11.5zM603.5 2031.8h11.5v11.5h-11.5zM607.5 2031.6h11.5v11.5h-11.5zM611.5 2031.4h11.5v11.5h-11.5zM615.4 2031.2h11.5v11.5h-11.5zM619.4 2031h11.5v11.5h-11.5zM623.4 2030.8h11.5v11.5h-11.5zM627.4 2030.6h11.5v11.5h-11.5zM631.3 2030.4h11.5v11.5h-11.5zM635.3 2030.2h11.5v11.5h-11.5zM639.3 2029.9h11.5v11.5h-11.5zM643.2 2029.7h11.5v11.5h-11.5zM647.1 2029.5h11.5v11.5h-11.5zM651 2029.3h11.5v11.5h-11.5zM654.8 2029h11.5v11.5h-11.5zM658.7 2028.8h11.5v11.5h-11.5zM662.5 2028.6h11.5v11.5h-11.5zM666.4 2028.3h11.5v11.5h-11.5zM670.2 2028.1h11.5v11.5h-11.5zM674.1 2027.8h11.5v11.5h-11.5zM677.9 2027.6h11.5v11.5h-11.5zM681.8 2027.3h11.5v11.5h-11.5zM685.6 2027.1h11.5v11.5h-11.5zM689.5 2026.8h11.5v11.5h-11.5zM693.3 2026.6h11.5v11.5h-11.5zM697.2 2026.3h11.5v11.5h-11.5zM701 2026h11.5v11.5h-11.5zM704.9 2025.8h11.5v11.5h-11.5zM708.7 2025.5h11.5v11.5h-11.5zM712.6 2025.2h11.5v11.5h-11.5zM716.4 2024.9h11.5v11.5h-11.5zM720.3 2024.7h11.5v11.5h-11.5zM724.1 2024.4h11.5v11.5h-11.5zM728 2024.1h11.5v11.5h-11.5zM731.8 2023.8h11.5v11.5h-11.5zM735.7 2023.6h11.5v11.5h-11.5zM739.6 2023.3h11.5v11.5h-11.5zM743.4 2023h11.5v11.5h-11.5zM747.3 2022.7h11.5v11.5h-11.5zM751.2 2022.4h11.5v11.5h-11.5zM755 2022.1h11.5v11.5h-11.5zM758.9 2021.8h11.5v11.5h-11.5zM762.8 2021.5h11.5v11.5h-11.5zM766.6 2021.2h11.5v11.5h-11.5zM770.5 2020.9h11.5v11.5h-11.5zM774.4 2020.6h11.5v11.5h-11.5zM778.2 2020.3h11.5v11.5h-11.5zM782.1 2020h11.5v11.5h-11.5zM786 2019.7h11.5v11.5h-11.5zM789.8 2019.4h11.5v11.5h-11.5zM793.7 2019h11.5v11.5h-11.5zM797.6 2018.7h11.5v11.5h-11.5zM801.4 2018.4h11.5v11.5h-11.5zM805.3 2018.1h11.5v11.5h-11.5zM809.1 2017.8h11.5v11.5h-11.5zM813 2017.5h11.5v11.5h-11.5zM816.9 2017.1h11.5v11.5h-11.5zM820.7 2016.8h11.5v11.5h-11.5zM824.6 2016.5h11.5v11.5h-11.5zM828.5 2016.2h11.5v11.5h-11.5zM832.5 2015.8h11.5v11.5h-11.5zM836.4 2015.5h11.5v11.5h-11.5zM840.3 2015.1h11.5v11.5h-11.5zM844.2 2014.8h11.5v11.5h-11.5zM848.1 2014.4h11.5v11.5h-11.5zM852 2014h11.5v11.5h-11.5zM855.9 2013.7h11.5v11.5h-11.5zM859.8 2013.3h11.5v11.5h-11.5zM863.7 2013h11.5v11.5h-11.5zM867.6 2012.7h11.5v11.5h-11.5zM871.5 2012.4h11.5v11.5h-11.5zM875.4 2012h11.5v11.5h-11.5zM879.3 2011.8h11.5v11.5h-11.5zM883.2 2011.5h11.5v11.5h-11.5zM887.1 2011.2h11.5v11.5h-11.5zM891 2011h11.5v11.5h-11.5zM894.9 2010.8h11.5v11.5h-11.5zM898.9 2010.5h11.5v11.5h-11.5zM902.8 2010.3h11.5v11.5h-11.5zM906.7 2010.1h11.5v11.5h-11.5zM910.6 2009.8h11.5v11.5h-11.5zM914.5 2009.6h11.5v11.5h-11.5zM918.5 2009.4h11.5v11.5h-11.5zM922.4 2009.3h11.5v11.5h-11.5zM926.3 2009.1h11.5v11.5h-11.5zM930.2 2008.9h11.5v11.5h-11.5zM934.1 2008.8h11.5v11.5h-11.5zM938 2008.7h11.5v11.5h-11.5zM942.1 2008.6h11.5v11.5h-11.5zM946.1 2008.5h11.5v11.5h-11.5zM950.2 2008.5h11.5v11.5h-11.5zM954.2 2008.4h11.5v11.5h-11.5zM958.2 2008.4h11.5v11.5h-11.5zM962.2 2008.4h11.5v11.5h-11.5zM966.2 2008.4h11.5v11.5h-11.5zM970.2 2008.4h11.5v11.5h-11.5zM974.2 2008.4h11.5v11.5h-11.5zM978.2 2008.4h11.5v11.5h-11.5zM982.3 2008.4h11.5v11.5h-11.5zM986.4 2008.2h11.5v11.5h-11.5zM990.5 2007.9h11.5v11.5h-11.5zM994.6 2007.4h11.5v11.5h-11.5zM998.7 2006.7h11.5v11.5h-11.5zM1002.8 2005.8h11.5v11.5h-11.5zM1006.9 2004.8h11.5v11.5h-11.5zM1011.5 1999.5h11.5v11.5h-11.5zM1015.4 1994.1h11.5v11.5h-11.5zM1019.5 1988.5h11.5v11.5h-11.5zM1022.2 1983.8h11.5v11.5h-11.5zM1025.6 1976.8h11.5v11.5h-11.5zM1029.1 1967.8h11.5v11.5h-11.5zM1032.8 1957.5h11.5v11.5h-11.5zM1035.6 1944.9h11.5v11.5h-11.5zM1038.7 1934.2h11.5v11.5h-11.5zM1041.8 1918.5h11.5v11.5h-11.5zM1045.5 1902h11.5v11.5h-11.5zM1049.6 1886h11.5v11.5h-11.5zM1053.5 1863.4h11.5v11.5h-11.5zM1056.9 1842.8h11.5v11.5h-11.5zM1060.6 1821.3h11.5v11.5h-11.5zM1064.1 1798.7h11.5v11.5h-11.5zM1068.2 1772.6h11.5v11.5h-11.5zM1070.9 1752.7h11.5v11.5h-11.5zM1076.2 1730.9h11.5v11.5h-11.5zM1079.4 1714.1h11.5v11.5h-11.5zM1083.3 1699.5h11.5v11.5h-11.5zM1086.2 1691.7h11.5v11.5h-11.5zM1089.5 1686.4h11.5v11.5h-11.5zM1093.5 1682.2h11.5v11.5h-11.5zM1097.5 1682.9h11.5v11.5h-11.5zM1101.6 1690.6h11.5v11.5h-11.5zM1105.8 1713h11.5v11.5h-11.5zM1109.1 1734.8h11.5v11.5h-11.5zM1112.5 1759.5h11.5v11.5h-11.5zM1116.2 1782.1h11.5v11.5h-11.5zM1120.2 1804h11.5v11.5h-11.5zM1123.4 1827.4h11.5v11.5h-11.5zM1128.8 1847.4h11.5v11.5h-11.5zM1132.7 1864.8h11.5v11.5h-11.5zM1136.1 1878.1h11.5v11.5h-11.5zM1139.5 1888.6h11.5v11.5h-11.5zM1144.7 1899.5h11.5v11.5h-11.5zM1148.6 1909h11.5v11.5h-11.5zM1152.7 1917.4h11.5v11.5h-11.5zM1156 1925.3h11.5v11.5h-11.5zM1160 1932.5h11.5v11.5h-11.5zM1163.4 1939.8h11.5v11.5h-11.5zM1167.4 1947.7h11.5v11.5h-11.5zM1170.6 1953.8h11.5v11.5h-11.5zM1174 1959.4h11.5v11.5h-11.5zM1180.4 1967.8h11.5v11.5h-11.5zM1184.8 1972.2h11.5v11.5h-11.5zM1189.2 1976.2h11.5v11.5h-11.5zM1193.1 1980.3h11.5v11.5h-11.5zM1197 1984.6h11.5v11.5h-11.5zM1200.9 1988.5h11.5v11.5h-11.5zM1205.3 1992.5h11.5v11.5h-11.5zM1209.7 1996.2h11.5v11.5h-11.5zM1214.2 1999.8h11.5v11.5h-11.5zM1218.6 2003.2h11.5v11.5h-11.5zM1223 2006.5h11.5v11.5h-11.5zM1227.4 2009.3h11.5v11.5h-11.5zM1231.9 2011.7h11.5v11.5h-11.5zM1236.3 2013.9h11.5v11.5h-11.5zM1240.7 2015.4h11.5v11.5h-11.5zM1245.7 2016.7h11.5v11.5h-11.5zM1250.7 2017.4h11.5v11.5h-11.5zM1256 2017.7h11.5v11.5h-11.5zM1262.2 2017.4h11.5v11.5h-11.5zM1266.5 2016.8h11.5v11.5h-11.5zM1270.8 2015.7h11.5v11.5h-11.5zM1275.7 2014.1h11.5v11.5h-11.5zM1280.7 2012.1h11.5v11.5h-11.5zM1284.6 2010.3h11.5v11.5h-11.5zM1288.5 2008.2h11.5v11.5h-11.5zM1292.4 2006.2h11.5v11.5h-11.5zM1296.3 2004.1h11.5v11.5h-11.5zM1300.2 2002h11.5v11.5h-11.5zM1304.1 2000h11.5v11.5h-11.5zM1309.2 1997.4h11.5v11.5h-11.5zM1314.2 1995.3h11.5v11.5h-11.5zM1319 1994h11.5v11.5h-11.5zM1323.9 1993h11.5v11.5h-11.5zM1329 1992.3h11.5v11.5h-11.5zM1334.1 1991.9h11.5v11.5h-11.5zM1338.2 1991.9h11.5v11.5h-11.5zM1342.4 1991.9h11.5v11.5h-11.5zM1346.6 1991.9h11.5v11.5h-11.5zM1350.8 1991.9h11.5v11.5h-11.5zM1354.9 1992h11.5v11.5h-11.5zM1359.1 1992.3h11.5v11.5h-11.5zM1363.3 1992.7h11.5v11.5h-11.5zM1367.4 1993h11.5v11.5h-11.5zM1371.5 1993.4h11.5v11.5h-11.5zM1375.7 1993.9h11.5v11.5h-11.5zM1379.8 1994.5h11.5v11.5h-11.5zM1383.9 1995h11.5v11.5h-11.5zM1388.1 1995.5h11.5v11.5h-11.5zM1392.3 1996h11.5v11.5h-11.5zM1396.4 1996.4h11.5v11.5h-11.5zM1400.6 1996.9h11.5v11.5h-11.5zM1404.7 1997.5h11.5v11.5h-11.5zM1408.8 1998h11.5v11.5h-11.5zM1412.9 1998.5h11.5v11.5h-11.5zM1417 1999h11.5v11.5h-11.5zM1421.1 1999.5h11.5v11.5h-11.5zM1425.3 2000.1h11.5v11.5h-11.5zM1429.4 2000.6h11.5v11.5h-11.5zM1433.5 2001.2h11.5v11.5h-11.5zM1437.5 2001.7h11.5v11.5h-11.5zM1441.4 2002.3h11.5v11.5h-11.5zM1445.4 2002.9h11.5v11.5h-11.5zM1449.4 2003.5h11.5v11.5h-11.5zM1453.4 2004.1h11.5v11.5h-11.5zM1457.3 2004.8h11.5v11.5h-11.5zM1461.3 2005.4h11.5v11.5h-11.5zM1465.3 2006h11.5v11.5h-11.5zM1469.3 2006.6h11.5v11.5h-11.5zM1473.3 2007.2h11.5v11.5h-11.5zM1477.2 2007.7h11.5v11.5h-11.5zM1481.2 2008.2h11.5v11.5h-11.5zM1485.2 2008.7h11.5v11.5h-11.5zM1489.1 2009.1h11.5v11.5h-11.5zM1493.1 2009.6h11.5v11.5h-11.5zM1497 2010h11.5v11.5h-11.5zM1501 2010.4h11.5v11.5h-11.5zM1504.9 2010.8h11.5v11.5h-11.5zM1508.9 2011.2h11.5v11.5h-11.5zM1512.9 2011.5h11.5v11.5h-11.5zM1516.8 2011.9h11.5v11.5h-11.5zM1520.8 2012.2h11.5v11.5h-11.5zM1524.7 2012.6h11.5v11.5h-11.5zM1528.7 2012.9h11.5v11.5h-11.5zM1532.6 2013.2h11.5v11.5h-11.5zM1536.6 2013.6h11.5v11.5h-11.5zM1540.5 2013.9h11.5v11.5h-11.5zM1544.5 2014.2h11.5v11.5h-11.5zM1548.4 2014.5h11.5v11.5h-11.5zM1552.4 2014.7h11.5v11.5h-11.5zM1556.3 2015h11.5v11.5h-11.5zM1560.3 2015.3h11.5v11.5h-11.5zM1564.2 2015.5h11.5v11.5h-11.5zM1568.2 2015.8h11.5v11.5h-11.5zM1572.1 2016h11.5v11.5h-11.5zM1576.1 2016.3h11.5v11.5h-11.5zM1580 2016.5h11.5v11.5h-11.5zM1583.9 2016.7h11.5v11.5h-11.5zM1587.9 2017h11.5v11.5h-11.5zM1591.8 2017.2h11.5v11.5h-11.5zM1595.8 2017.4h11.5v11.5h-11.5zM1599.7 2017.6h11.5v11.5h-11.5zM1603.7 2017.8h11.5v11.5h-11.5zM1607.6 2018h11.5v11.5h-11.5zM1611.6 2018.2h11.5v11.5h-11.5zM1615.5 2018.4h11.5v11.5h-11.5zM1619.4 2018.7h11.5v11.5h-11.5zM1623.4 2018.9h11.5v11.5h-11.5zM1627.3 2019.1h11.5v11.5h-11.5zM1631.3 2019.3h11.5v11.5h-11.5zM1635.2 2019.5h11.5v11.5h-11.5zM1639.2 2019.7h11.5v11.5h-11.5zM1643.1 2019.9h11.5v11.5h-11.5zM1647.1 2020.1h11.5v11.5h-11.5zM1651 2020.3h11.5v11.5h-11.5zM1654.9 2020.5h11.5v11.5h-11.5zM1658.9 2020.7h11.5v11.5h-11.5zM1662.8 2020.9h11.5v11.5h-11.5zM1666.8 2021.1h11.5v11.5h-11.5zM1670.7 2021.3h11.5v11.5h-11.5zM1674.7 2021.5h11.5v11.5h-11.5zM1678.6 2021.7h11.5v11.5h-11.5zM1682.6 2021.9h11.5v11.5h-11.5zM1686.5 2022.1h11.5v11.5h-11.5zM1690.4 2022.3h11.5v11.5h-11.5zM1694.4 2022.5h11.5v11.5h-11.5zM1698.3 2022.7h11.5v11.5h-11.5zM1702.3 2022.9h11.5v11.5h-11.5zM1706.2 2023.1h11.5v11.5h-11.5zM1710.2 2023.3h11.5v11.5h-11.5zM1714.1 2023.5h11.5v11.5h-11.5zM1718 2023.6h11.5v11.5h-11.5zM1722 2023.8h11.5v11.5h-11.5zM1725.9 2024h11.5v11.5h-11.5zM1729.9 2024.2h11.5v11.5h-11.5zM1733.8 2024.4h11.5v11.5h-11.5zM1737.6 2024.6h11.5v11.5h-11.5zM1741.4 2024.8h11.5v11.5h-11.5zM1745.2 2025h11.5v11.5h-11.5zM1749 2025.2h11.5v11.5h-11.5zM1752.8 2025.5h11.5v11.5h-11.5zM1756.6 2025.7h11.5v11.5h-11.5zM1760.4 2025.9h11.5v11.5h-11.5zM1764.2 2026.1h11.5v11.5h-11.5zM1768 2026.4h11.5v11.5h-11.5zM1771.8 2026.6h11.5v11.5h-11.5zM1775.6 2026.8h11.5v11.5h-11.5zM1779.4 2027h11.5v11.5h-11.5zM1783.2 2027.2h11.5v11.5h-11.5zM1787 2027.4h11.5v11.5h-11.5zM1790.8 2027.6h11.5v11.5h-11.5zM1794.6 2027.8h11.5v11.5h-11.5zM1798.6 2027.9h11.5v11.5h-11.5zM1802.6 2028.1h11.5v11.5h-11.5zM1806.6 2028.2h11.5v11.5h-11.5zM1810.6 2028.4h11.5v11.5h-11.5zM1814.6 2028.5h11.5v11.5h-11.5zM1818.6 2028.7h11.5v11.5h-11.5zM1822.5 2028.8h11.5v11.5h-11.5zM1826.5 2028.9h11.5v11.5h-11.5zM1830.5 2029h11.5v11.5h-11.5zM1834.5 2029.2h11.5v11.5h-11.5zM1838.5 2029.3h11.5v11.5h-11.5zM1842.5 2029.4h11.5v11.5h-11.5zM1846.5 2029.5h11.5v11.5h-11.5zM1850.5 2029.7h11.5v11.5h-11.5zM1854.4 2029.8h11.5v11.5h-11.5zM1858.4 2029.9h11.5v11.5h-11.5zM1862.4 2030h11.5v11.5h-11.5zM1866.4 2030.1h11.5v11.5h-11.5zM1870.4 2030.3h11.5v11.5h-11.5zM1874.3 2030.4h11.5v11.5h-11.5zM1878.2 2030.5h11.5v11.5h-11.5zM1882.2 2030.6h11.5v11.5h-11.5zM1886.1 2030.7h11.5v11.5h-11.5zM1890.1 2030.9h11.5v11.5h-11.5zM1894 2031h11.5v11.5h-11.5zM1898 2031.1h11.5v11.5h-11.5zM1901.9 2031.2h11.5v11.5h-11.5zM1905.8 2031.3h11.5v11.5h-11.5zM1909.8 2031.4h11.5v11.5h-11.5zM1913.7 2031.5h11.5v11.5h-11.5zM1917.7 2031.7h11.5v11.5h-11.5zM1921.6 2031.8h11.5v11.5h-11.5zM1925.6 2031.9h11.5v11.5h-11.5zM1929.5 2032h11.5v11.5h-11.5zM1933.5 2032.1h11.5v11.5h-11.5zM1937.4 2032.2h11.5v11.5h-11.5zM1941.3 2032.4h11.5v11.5h-11.5zM1945.1 2032.5h11.5v11.5h-11.5zM1949 2032.6h11.5v11.5h-11.5zM1952.8 2032.7h11.5v11.5h-11.5zM1956.7 2032.8h11.5v11.5h-11.5zM1960.6 2033h11.5v11.5h-11.5zM1964.4 2033.1h11.5v11.5h-11.5zM1968.3 2033.2h11.5v11.5h-11.5zM1972.1 2033.3h11.5v11.5h-11.5zM1976 2033.4h11.5v11.5h-11.5zM1979.8 2033.6h11.5v11.5h-11.5zM1983.7 2033.7h11.5v11.5h-11.5zM1987.6 2033.8h11.5v11.5h-11.5zM1991.4 2033.9h11.5v11.5h-11.5zM1995.3 2034.1h11.5v11.5h-11.5zM1999.1 2034.2h11.5v11.5h-11.5zM2003 2034.3h11.5v11.5h-11.5zM2006.9 2034.4h11.5v11.5h-11.5zM2010.7 2034.5h11.5v11.5h-11.5zM2014.6 2034.7h11.5v11.5h-11.5zM2018.4 2034.8h11.5v11.5h-11.5zM2022.3 2034.9h11.5v11.5h-11.5zM2026.2 2035h11.5v11.5h-11.5z"/></g>
<g stroke="#ff00ff" stroke-width="2.6" fill="none" stroke-linejoin="round"><path d="M179.8 2051.2L183.7 2051L187.6 2050.9L191.6 2050.8L195.5 2050.7L199.4 2050.6L203.3 2050.5L207.2 2050.4L211.1 2050.3L215.1 2050.2L219 2050.1L222.9 2050L226.8 2049.9L230.7 2049.8L234.7 2049.7L238.6 2049.6L242.5 2049.4L246.4 2049.3L250.3 2049.2L254.2 2049.1L258.2 2049L262.1 2048.9L266 2048.8L269.9 2048.7L273.8 2048.6L277.7 2048.5L281.7 2048.4L285.6 2048.2L289.5 2048.1L293.5 2048L297.4 2047.9L301.4 2047.8L305.3 2047.7L309.3 2047.5L313.2 2047.4L317.1 2047.3L321.1 2047.2L325 2047.1L329 2046.9L332.9 2046.8L336.8 2046.7L340.8 2046.6L344.7 2046.4L348.7 2046.3L352.6 2046.2L356.5 2046.1L360.5 2046L364.4 2045.8L368.4 2045.7L372.3 2045.6L376.3 2045.5L380.2 2045.4L384.1 2045.2L388.1 2045.1L392 2045L395.8 2044.9L399.7 2044.8L403.5 2044.6L407.3 2044.5L411.2 2044.4L415 2044.3L418.8 2044.1L422.6 2044L426.5 2043.9L430.3 2043.8L434.1 2043.7L437.9 2043.5L441.8 2043.4L445.6 2043.3L449.4 2043.2L453.2 2043L457.1 2042.9L460.9 2042.8L464.7 2042.7L468.6 2042.6L472.4 2042.5L476.2 2042.4L480 2042.2L483.9 2042.1L487.7 2042L491.5 2041.9L495.3 2041.8L499.2 2041.7L503 2041.6L506.9 2041.5L510.8 2041.5L514.7 2041.4L518.6 2041.3L522.6 2041.2L526.5 2041.1L530.4 2041.1L534.3 2041L538.2 2040.9L542.1 2040.9L546 2040.8L549.9 2040.7L553.9 2040.6L557.8 2040.5L561.7 2040.4L565.6 2040.3L569.5 2040.2L573.5 2040.1L577.5 2040L581.4 2039.8L585.4 2039.6L589.4 2039.5L593.4 2039.3L597.3 2039.1L601.3 2038.8L605.3 2038.6L609.3 2038.4L613.2 2038.2L617.2 2037.9L621.2 2037.7L625.2 2037.5L629.1 2037.2L633.1 2037L637.1 2036.7L641.1 2036.5L645 2036.3L649 2036L652.9 2035.8L656.7 2035.6L660.6 2035.4L664.4 2035.1L668.3 2034.9L672.1 2034.7L676 2034.4L679.8 2034.2L683.7 2033.9L687.5 2033.7L691.4 2033.5L695.2 2033.2L699.1 2033L702.9 2032.7L706.8 2032.5L710.6 2032.2L714.5 2032L718.3 2031.7L722.2 2031.5L726 2031.2L729.9 2030.9L733.7 2030.7L737.6 2030.4L741.5 2030.2L745.3 2029.9L749.2 2029.6L753.1 2029.4L756.9 2029.1L760.8 2028.9L764.6 2028.6L768.5 2028.3L772.4 2028.1L776.2 2027.8L780.1 2027.5L784 2027.2L787.8 2027L791.7 2026.7L795.6 2026.4L799.4 2026.1L803.3 2025.8L807.2 2025.5L811 2025.2L814.9 2024.9L818.8 2024.6L822.6 2024.3L826.5 2024L830.4 2023.6L834.3 2023.3L838.2 2022.9L842.1 2022.5L846 2022.1L849.9 2021.6L853.8 2021.2L857.7 2020.8L861.6 2020.4L865.5 2019.9L869.4 2019.5L873.3 2019.1L877.2 2018.8L881.1 2018.4L885.1 2018.1L889 2017.8L892.9 2017.5L896.8 2017.3L900.7 2017.1L904.6 2016.9L908.5 2016.7L912.4 2016.5L916.4 2016.3L920.3 2016.1L924.2 2015.9L928.1 2015.8L932 2015.6L936 2015.5L939.9 2015.4L943.8 2015.3L947.7 2015.2L951.7 2015.1L955.7 2015.1L959.6 2015L963.4 2015L967.2 2014.9L971 2014.9L974.8 2014.9L978.6 2014.8L982.4 2014.7L986.5 2014.3L990.6 2013.4L994.7 2012.2L999.1 2010.6L1003.5 2008.3L1007.8 2005.2L1011.9 1999.9L1015.9 1993.2L1019.9 1985.2L1023.2 1977.2L1027.2 1968.5L1031.9 1956.5L1035.5 1942.5L1039.2 1927.9L1042.8 1910L1046.6 1889.3L1050.5 1868L1053.9 1843.1L1059.2 1816.5L1062.6 1788.4L1065.9 1758.5L1069.3 1728.5L1073.3 1697.1L1076.6 1667.5L1082.1 1639.5L1085.5 1612.6L1088.8 1588.2L1092.7 1572.2L1096 1563.8L1099.9 1565.5L1104.9 1574.2L1108.8 1597.2L1112.1 1634.1L1115.4 1673.1L1119.3 1713.1L1122.5 1751.9L1125.9 1790.4L1129.5 1831.2L1134.8 1871.3L1138.5 1906.6L1141.8 1934.6L1145.8 1955.9L1149.1 1966.6L1153.1 1976.4L1156.8 1981.4L1160.6 1984.7L1164.3 1986.9L1168 1988L1171.8 1988.8L1175.5 1989.8L1179.2 1991.5L1182.9 1993.5L1186.6 1995.7L1190.3 1997.8L1194 2000.1L1197.7 2002.4L1201.4 2005L1205.1 2007.7L1208.8 2010.3L1212.5 2012.5L1216.2 2014.7L1219.9 2016.8L1223.6 2019.1L1227.3 2021.3L1231 2023.4L1234.7 2025.4L1238.4 2027.4L1242.1 2029L1245.8 2030.4L1249.5 2031.6L1253.2 2032.7L1256.7 2033.5L1260.2 2034.1L1264.1 2034.5L1267.9 2034.6L1271.8 2034.4L1275.6 2033.8L1279.3 2032.7L1282.9 2030.9L1286.6 2029L1290.3 2027L1294 2024.7L1297.7 2022.3L1301.4 2019.9L1305.1 2017.5L1308.8 2015L1312.5 2012.4L1316.2 2009.8L1319.9 2007.5L1323.7 2005.4L1327.4 2003.6L1331.2 2002.1L1335.5 2000.9L1339.8 1999.9L1344 1999.2L1348.2 1998.8L1352.3 1998.6L1356.5 1998.5L1360.7 1998.6L1364.8 1998.9L1369 1999.2L1373.2 1999.6L1377.3 2000L1381.4 2000.5L1385.6 2001.1L1389.7 2001.6L1393.9 2002.1L1398 2002.5L1402.2 2003L1406.4 2003.5L1410.5 2004.1L1414.6 2004.6L1418.7 2005.1L1422.8 2005.7L1426.9 2006.3L1431 2006.9L1435.1 2007.4L1439.2 2008L1443.2 2008.6L1447.2 2009.2L1451.2 2009.9L1455.1 2010.5L1459.1 2011.2L1463.1 2011.8L1467.1 2012.5L1471 2013.1L1475 2013.7L1479 2014.3L1483 2014.9L1487 2015.4L1490.9 2015.9L1494.9 2016.3L1498.8 2016.7L1502.8 2017.1L1506.7 2017.6L1510.7 2017.9L1514.6 2018.3L1518.6 2018.7L1522.6 2019.1L1526.5 2019.4L1530.5 2019.7L1534.4 2020.1L1538.4 2020.4L1542.3 2020.7L1546.3 2021L1550.2 2021.3L1554.2 2021.6L1558.1 2021.9L1562.1 2022.2L1566 2022.4L1570 2022.7L1573.9 2022.9L1577.9 2023.2L1581.8 2023.4L1585.7 2023.7L1589.7 2023.9L1593.6 2024.1L1597.6 2024.3L1601.5 2024.5L1605.5 2024.8L1609.4 2025L1613.4 2025.2L1617.3 2025.4L1621.2 2025.6L1625.2 2025.8L1629.1 2026L1633.1 2026.2L1637 2026.4L1641 2026.6L1644.9 2026.9L1648.9 2027.1L1652.8 2027.3L1656.7 2027.5L1660.7 2027.7L1664.6 2027.9L1668.6 2028.1L1672.5 2028.3L1676.5 2028.5L1680.4 2028.7L1684.4 2028.9L1688.3 2029.1L1692.2 2029.3L1696.2 2029.5L1700.1 2029.7L1704.1 2029.9L1707.9 2030.1L1711.8 2030.3L1715.6 2030.5L1719.5 2030.7L1723.3 2030.9L1727.2 2031.1L1731 2031.3L1734.9 2031.6L1738.7 2031.8L1742.6 2032L1746.5 2032.2L1750.3 2032.4L1754.2 2032.7L1758 2032.9L1761.9 2033.1L1765.7 2033.3L1769.6 2033.5L1773.4 2033.7L1777.3 2033.9L1781.1 2034.1L1785 2034.2L1788.8 2034.4L1792.7 2034.6L1796.5 2034.8L1800.4 2034.9L1804.4 2035.1L1808.4 2035.2L1812.3 2035.3L1816.3 2035.5L1820.3 2035.6L1824.3 2035.7L1828.3 2035.9L1832.3 2036L1836.3 2036.1L1840.3 2036.2L1844.2 2036.3L1848.2 2036.5L1852.2 2036.6L1856.2 2036.7L1860.2 2036.8L1864.2 2036.9L1868.2 2037L1872.2 2037.1L1876.1 2037.3L1880 2037.4L1884 2037.5L1887.9 2037.6L1891.9 2037.7L1895.8 2037.8L1899.8 2037.9L1903.7 2038L1907.7 2038.2L1911.6 2038.3L1915.5 2038.4L1919.5 2038.5L1923.4 2038.6L1927.4 2038.7L1931.3 2038.8L1935.3 2038.9L1939.2 2039L1943.2 2039.1L1947 2039.2L1950.9 2039.3L1954.7 2039.4L1958.6 2039.5L1962.4 2039.6L1966.3 2039.7L1970.2 2039.8L1974 2039.9L1977.9 2040L1981.7 2040.1L1985.6 2040.2L1989.5 2040.3L1993.3 2040.4L1997.2 2040.5L2001 2040.6L2004.9 2040.7L2008.7 2040.8L2012.6 2040.9L2016.5 2041L2020.3 2041.1L2024.2 2041.2L2028 2041.3L2031.9 2041.3"/><path d="M172 2045.9h15.6l-7.8 13.5zM175.9 2045.7h15.6l-7.8 13.5zM179.9 2045.6h15.6l-7.8 13.5zM183.8 2045.5h15.6l-7.8 13.5zM187.7 2045.4h15.6l-7.8 13.5zM191.6 2045.3h15.6l-7.8 13.5zM195.5 2045.2h15.6l-7.8 13.5zM199.4 2045.1h15.6l-7.8 13.5zM203.4 2045h15.6l-7.8 13.5zM207.3 2044.9h15.6l-7.8 13.5zM211.2 2044.8h15.6l-7.8 13.5zM215.1 2044.7h15.6l-7.8 13.5zM219 2044.6h15.6l-7.8 13.5zM223 2044.5h15.6l-7.8 13.5zM226.9 2044.4h15.6l-7.8 13.5zM230.8 2044.3h15.6l-7.8 13.5zM234.7 2044.1h15.6l-7.8 13.5zM238.6 2044h15.6l-7.8 13.5zM242.5 2043.9h15.6l-7.8 13.5zM246.5 2043.8h15.6l-7.8 13.5zM250.4 2043.7h15.6l-7.8 13.5zM254.3 2043.6h15.6l-7.8 13.5zM258.2 2043.5h15.6l-7.8 13.5zM262.1 2043.4h15.6l-7.8 13.5zM266 2043.3h15.6l-7.8 13.5zM270 2043.2h15.6l-7.8 13.5zM273.9 2043.1h15.6l-7.8 13.5zM277.8 2042.9h15.6l-7.8 13.5zM281.8 2042.8h15.6l-7.8 13.5zM285.7 2042.7h15.6l-7.8 13.5zM289.7 2042.6h15.6l-7.8 13.5zM293.6 2042.5h15.6l-7.8 13.5zM297.5 2042.4h15.6l-7.8 13.5zM301.5 2042.2h15.6l-7.8 13.5zM305.4 2042.1h15.6l-7.8 13.5zM309.4 2042h15.6l-7.8 13.5zM313.3 2041.9h15.6l-7.8 13.5zM317.2 2041.8h15.6l-7.8 13.5zM321.2 2041.6h15.6l-7.8 13.5zM325.1 2041.5h15.6l-7.8 13.5zM329.1 2041.4h15.6l-7.8 13.5zM333 2041.3h15.6l-7.8 13.5zM336.9 2041.1h15.6l-7.8 13.5zM340.9 2041h15.6l-7.8 13.5zM344.8 2040.9h15.6l-7.8 13.5zM348.8 2040.8h15.6l-7.8 13.5zM352.7 2040.7h15.6l-7.8 13.5zM356.7 2040.5h15.6l-7.8 13.5zM360.6 2040.4h15.6l-7.8 13.5zM364.5 2040.3h15.6l-7.8 13.5zM368.5 2040.2h15.6l-7.8 13.5zM372.4 2040.1h15.6l-7.8 13.5zM376.4 2039.9h15.6l-7.8 13.5zM380.3 2039.8h15.6l-7.8 13.5zM384.2 2039.7h15.6l-7.8 13.5zM388.1 2039.6h15.6l-7.8 13.5zM391.9 2039.5h15.6l-7.8 13.5zM395.7 2039.3h15.6l-7.8 13.5zM399.5 2039.2h15.6l-7.8 13.5zM403.4 2039.1h15.6l-7.8 13.5zM407.2 2039h15.6l-7.8 13.5zM411 2038.8h15.6l-7.8 13.5zM414.9 2038.7h15.6l-7.8 13.5zM418.7 2038.6h15.6l-7.8 13.5zM422.5 2038.5h15.6l-7.8 13.5zM426.3 2038.4h15.6l-7.8 13.5zM430.2 2038.2h15.6l-7.8 13.5zM434 2038.1h15.6l-7.8 13.5zM437.8 2038h15.6l-7.8 13.5zM441.6 2037.9h15.6l-7.8 13.5zM445.5 2037.7h15.6l-7.8 13.5zM449.3 2037.6h15.6l-7.8 13.5zM453.1 2037.5h15.6l-7.8 13.5zM456.9 2037.4h15.6l-7.8 13.5zM460.8 2037.3h15.6l-7.8 13.5zM464.6 2037.2h15.6l-7.8 13.5zM468.4 2037.1h15.6l-7.8 13.5zM472.3 2036.9h15.6l-7.8 13.5zM476.1 2036.8h15.6l-7.8 13.5zM479.9 2036.7h15.6l-7.8 13.5zM483.7 2036.6h15.6l-7.8 13.5zM487.6 2036.5h15.6l-7.8 13.5zM491.4 2036.4h15.6l-7.8 13.5zM495.2 2036.3h15.6l-7.8 13.5zM499.1 2036.2h15.6l-7.8 13.5zM503 2036.2h15.6l-7.8 13.5zM507 2036.1h15.6l-7.8 13.5zM510.9 2036h15.6l-7.8 13.5zM514.8 2035.9h15.6l-7.8 13.5zM518.7 2035.8h15.6l-7.8 13.5zM522.6 2035.8h15.6l-7.8 13.5zM526.5 2035.7h15.6l-7.8 13.5zM530.4 2035.6h15.6l-7.8 13.5zM534.3 2035.6h15.6l-7.8 13.5zM538.3 2035.5h15.6l-7.8 13.5zM542.2 2035.4h15.6l-7.8 13.5zM546.1 2035.3h15.6l-7.8 13.5zM550 2035.2h15.6l-7.8 13.5zM553.9 2035.1h15.6l-7.8 13.5zM557.8 2035h15.6l-7.8 13.5zM561.7 2034.9h15.6l-7.8 13.5zM565.7 2034.8h15.6l-7.8 13.5zM569.7 2034.7h15.6l-7.8 13.5zM573.7 2034.5h15.6l-7.8 13.5zM577.6 2034.3h15.6l-7.8 13.5zM581.6 2034.2h15.6l-7.8 13.5zM585.6 2034h15.6l-7.8 13.5zM589.6 2033.8h15.6l-7.8 13.5zM593.5 2033.5h15.6l-7.8 13.5zM597.5 2033.3h15.6l-7.8 13.5zM601.5 2033.1h15.6l-7.8 13.5zM605.4 2032.9h15.6l-7.8 13.5zM609.4 2032.6h15.6l-7.8 13.5zM613.4 2032.4h15.6l-7.8 13.5zM617.4 2032.2h15.6l-7.8 13.5zM621.3 2031.9h15.6l-7.8 13.5zM625.3 2031.7h15.6l-7.8 13.5zM629.3 2031.4h15.6l-7.8 13.5zM633.3 2031.2h15.6l-7.8 13.5zM637.2 2031h15.6l-7.8 13.5zM641.2 2030.7h15.6l-7.8 13.5zM645.1 2030.5h15.6l-7.8 13.5zM648.9 2030.3h15.6l-7.8 13.5zM652.8 2030.1h15.6l-7.8 13.5zM656.6 2029.8h15.6l-7.8 13.5zM660.5 2029.6h15.6l-7.8 13.5zM664.3 2029.4h15.6l-7.8 13.5zM668.2 2029.1h15.6l-7.8 13.5zM672 2028.9h15.6l-7.8 13.5zM675.9 2028.6h15.6l-7.8 13.5zM679.7 2028.4h15.6l-7.8 13.5zM683.6 2028.2h15.6l-7.8 13.5zM687.4 2027.9h15.6l-7.8 13.5zM691.3 2027.7h15.6l-7.8 13.5zM695.1 2027.4h15.6l-7.8 13.5zM699 2027.2h15.6l-7.8 13.5zM702.8 2026.9h15.6l-7.8 13.5zM706.7 2026.7h15.6l-7.8 13.5zM710.6 2026.4h15.6l-7.8 13.5zM714.4 2026.2h15.6l-7.8 13.5zM718.3 2025.9h15.6l-7.8 13.5zM722.1 2025.6h15.6l-7.8 13.5zM726 2025.4h15.6l-7.8 13.5zM729.8 2025.1h15.6l-7.8 13.5zM733.7 2024.9h15.6l-7.8 13.5zM737.5 2024.6h15.6l-7.8 13.5zM741.4 2024.3h15.6l-7.8 13.5zM745.3 2024.1h15.6l-7.8 13.5zM749.1 2023.8h15.6l-7.8 13.5zM753 2023.6h15.6l-7.8 13.5zM756.9 2023.3h15.6l-7.8 13.5zM760.7 2023h15.6l-7.8 13.5zM764.6 2022.8h15.6l-7.8 13.5zM768.5 2022.5h15.6l-7.8 13.5zM772.3 2022.2h15.6l-7.8 13.5zM776.2 2021.9h15.6l-7.8 13.5zM780.1 2021.7h15.6l-7.8 13.5zM783.9 2021.4h15.6l-7.8 13.5zM787.8 2021.1h15.6l-7.8 13.5zM791.7 2020.8h15.6l-7.8 13.5zM795.5 2020.5h15.6l-7.8 13.5zM799.4 2020.2h15.6l-7.8 13.5zM803.3 2019.9h15.6l-7.8 13.5zM807.1 2019.6h15.6l-7.8 13.5zM811 2019.3h15.6l-7.8 13.5zM814.8 2019h15.6l-7.8 13.5zM818.7 2018.7h15.6l-7.8 13.5zM822.6 2018.3h15.6l-7.8 13.5zM826.5 2018h15.6l-7.8 13.5zM830.4 2017.6h15.6l-7.8 13.5zM834.3 2017.2h15.6l-7.8 13.5zM838.2 2016.8h15.6l-7.8 13.5zM842.1 2016.3h15.6l-7.8 13.5zM846 2015.9h15.6l-7.8 13.5zM849.9 2015.5h15.6l-7.8 13.5zM853.8 2015.1h15.6l-7.8 13.5zM857.8 2014.6h15.6l-7.8 13.5zM861.7 2014.2h15.6l-7.8 13.5zM865.6 2013.8h15.6l-7.8 13.5zM869.5 2013.5h15.6l-7.8 13.5zM873.4 2013.1h15.6l-7.8 13.5zM877.3 2012.8h15.6l-7.8 13.5zM881.2 2012.5h15.6l-7.8 13.5zM885.1 2012.2h15.6l-7.8 13.5zM889 2012h15.6l-7.8 13.5zM892.9 2011.8h15.6l-7.8 13.5zM896.8 2011.6h15.6l-7.8 13.5zM900.8 2011.4h15.6l-7.8 13.5zM904.7 2011.2h15.6l-7.8 13.5zM908.6 2011h15.6l-7.8 13.5zM912.5 2010.8h15.6l-7.8 13.5zM916.4 2010.6h15.6l-7.8 13.5zM920.3 2010.5h15.6l-7.8 13.5zM924.3 2010.3h15.6l-7.8 13.5zM928.2 2010.2h15.6l-7.8 13.5zM932.1 2010.1h15.6l-7.8 13.5zM936 2010h15.6l-7.8 13.5zM940 2009.9h15.6l-7.8 13.5zM943.9 2009.8h15.6l-7.8 13.5zM947.9 2009.8h15.6l-7.8 13.5zM951.8 2009.7h15.6l-7.8 13.5zM955.6 2009.7h15.6l-7.8 13.5zM959.4 2009.6h15.6l-7.8 13.5zM963.2 2009.6h15.6l-7.8 13.5zM967 2009.6h15.6l-7.8 13.5zM970.8 2009.5h15.6l-7.8 13.5zM974.6 2009.4h15.6l-7.8 13.5zM978.7 2009h15.6l-7.8 13.5zM982.8 2008.1h15.6l-7.8 13.5zM986.9 2006.9h15.6l-7.8 13.5zM991.3 2005.3h15.6l-7.8 13.5zM995.7 2003h15.6l-7.8 13.5zM1000.1 1999.9h15.6l-7.8 13.5zM1004.1 1994.6h15.6l-7.8 13.5zM1008.1 1987.9h15.6l-7.8 13.5zM1012.1 1979.9h15.6l-7.8 13.5zM1015.4 1971.9h15.6l-7.8 13.5zM1019.4 1963.2h15.6l-7.8 13.5zM1024.1 1951.2h15.6l-7.8 13.5zM1027.7 1937.2h15.6l-7.8 13.5zM1031.4 1922.6h15.6l-7.8 13.5zM1035 1904.7h15.6l-7.8 13.5zM1038.8 1884h15.6l-7.8 13.5zM1042.7 1862.7h15.6l-7.8 13.5zM1046.1 1837.8h15.6l-7.8 13.5zM1051.5 1811.2h15.6l-7.8 13.5zM1054.9 1783.1h15.6l-7.8 13.5zM1058.1 1753.2h15.6l-7.8 13.5zM1061.5 1723.2h15.6l-7.8 13.5zM1065.5 1691.8h15.6l-7.8 13.5zM1068.8 1662.2h15.6l-7.8 13.5zM1074.3 1634.2h15.6l-7.8 13.5zM1077.7 1607.3h15.6l-7.8 13.5zM1081 1582.9h15.6l-7.8 13.5zM1085 1566.9h15.6l-7.8 13.5zM1088.2 1558.5h15.6l-7.8 13.5zM1092.1 1560.2h15.6l-7.8 13.5zM1097.1 1568.9h15.6l-7.8 13.5zM1101 1591.9h15.6l-7.8 13.5zM1104.3 1628.8h15.6l-7.8 13.5zM1107.6 1667.8h15.6l-7.8 13.5zM1111.5 1707.8h15.6l-7.8 13.5zM1114.7 1746.6h15.6l-7.8 13.5zM1118.1 1785.1h15.6l-7.8 13.5zM1121.7 1825.9h15.6l-7.8 13.5zM1127 1866h15.6l-7.8 13.5zM1130.7 1901.3h15.6l-7.8 13.5zM1134 1929.3h15.6l-7.8 13.5zM1138 1950.6h15.6l-7.8 13.5zM1141.3 1961.3h15.6l-7.8 13.5zM1145.3 1971.1h15.6l-7.8 13.5zM1149 1976.1h15.6l-7.8 13.5zM1152.8 1979.4h15.6l-7.8 13.5zM1156.6 1981.6h15.6l-7.8 13.5zM1160.3 1982.7h15.6l-7.8 13.5zM1164 1983.5h15.6l-7.8 13.5zM1167.7 1984.5h15.6l-7.8 13.5zM1171.4 1986.2h15.6l-7.8 13.5zM1175.1 1988.2h15.6l-7.8 13.5zM1178.8 1990.4h15.6l-7.8 13.5zM1182.5 1992.5h15.6l-7.8 13.5zM1186.2 1994.8h15.6l-7.8 13.5zM1189.9 1997.1h15.6l-7.8 13.5zM1193.6 1999.7h15.6l-7.8 13.5zM1197.3 2002.4h15.6l-7.8 13.5zM1201 2005h15.6l-7.8 13.5zM1204.7 2007.2h15.6l-7.8 13.5zM1208.4 2009.4h15.6l-7.8 13.5zM1212.1 2011.5h15.6l-7.8 13.5zM1215.8 2013.8h15.6l-7.8 13.5zM1219.5 2016h15.6l-7.8 13.5zM1223.2 2018.1h15.6l-7.8 13.5zM1226.9 2020.1h15.6l-7.8 13.5zM1230.6 2022.1h15.6l-7.8 13.5zM1234.4 2023.7h15.6l-7.8 13.5zM1238.1 2025.1h15.6l-7.8 13.5zM1241.8 2026.3h15.6l-7.8 13.5zM1245.5 2027.4h15.6l-7.8 13.5zM1248.9 2028.2h15.6l-7.8 13.5zM1252.4 2028.8h15.6l-7.8 13.5zM1256.3 2029.2h15.6l-7.8 13.5zM1260.1 2029.3h15.6l-7.8 13.5zM1264 2029.1h15.6l-7.8 13.5zM1267.8 2028.5h15.6l-7.8 13.5zM1271.5 2027.4h15.6l-7.8 13.5zM1275.2 2025.6h15.6l-7.8 13.5zM1278.8 2023.7h15.6l-7.8 13.5zM1282.5 2021.7h15.6l-7.8 13.5zM1286.2 2019.4h15.6l-7.8 13.5zM1289.9 2017h15.6l-7.8 13.5zM1293.6 2014.6h15.6l-7.8 13.5zM1297.3 2012.2h15.6l-7.8 13.5zM1301 2009.7h15.6l-7.8 13.5zM1304.7 2007.1h15.6l-7.8 13.5zM1308.4 2004.5h15.6l-7.8 13.5zM1312.1 2002.2h15.6l-7.8 13.5zM1315.9 2000.1h15.6l-7.8 13.5zM1319.7 1998.3h15.6l-7.8 13.5zM1323.4 1996.8h15.6l-7.8 13.5zM1327.7 1995.6h15.6l-7.8 13.5zM1332.1 1994.6h15.6l-7.8 13.5zM1336.2 1993.9h15.6l-7.8 13.5zM1340.4 1993.5h15.6l-7.8 13.5zM1344.6 1993.3h15.6l-7.8 13.5zM1348.7 1993.2h15.6l-7.8 13.5zM1352.9 1993.3h15.6l-7.8 13.5zM1357.1 1993.6h15.6l-7.8 13.5zM1361.2 1993.9h15.6l-7.8 13.5zM1365.4 1994.3h15.6l-7.8 13.5zM1369.5 1994.7h15.6l-7.8 13.5zM1373.6 1995.2h15.6l-7.8 13.5zM1377.8 1995.8h15.6l-7.8 13.5zM1381.9 1996.3h15.6l-7.8 13.5zM1386.1 1996.8h15.6l-7.8 13.5zM1390.2 1997.2h15.6l-7.8 13.5zM1394.4 1997.7h15.6l-7.8 13.5zM1398.6 1998.2h15.6l-7.8 13.5zM1402.7 1998.8h15.6l-7.8 13.5zM1406.8 1999.3h15.6l-7.8 13.5zM1410.9 1999.8h15.6l-7.8 13.5zM1415 2000.4h15.6l-7.8 13.5zM1419.1 2001h15.6l-7.8 13.5zM1423.2 2001.6h15.6l-7.8 13.5zM1427.3 2002.1h15.6l-7.8 13.5zM1431.4 2002.7h15.6l-7.8 13.5zM1435.4 2003.3h15.6l-7.8 13.5zM1439.4 2003.9h15.6l-7.8 13.5zM1443.4 2004.6h15.6l-7.8 13.5zM1447.4 2005.2h15.6l-7.8 13.5zM1451.3 2005.9h15.6l-7.8 13.5zM1455.3 2006.5h15.6l-7.8 13.5zM1459.3 2007.2h15.6l-7.8 13.5zM1463.3 2007.8h15.6l-7.8 13.5zM1467.2 2008.4h15.6l-7.8 13.5zM1471.2 2009h15.6l-7.8 13.5zM1475.2 2009.6h15.6l-7.8 13.5zM1479.2 2010.1h15.6l-7.8 13.5zM1483.2 2010.6h15.6l-7.8 13.5zM1487.1 2011h15.6l-7.8 13.5zM1491.1 2011.4h15.6l-7.8 13.5zM1495 2011.8h15.6l-7.8 13.5zM1499 2012.3h15.6l-7.8 13.5zM1502.9 2012.6h15.6l-7.8 13.5zM1506.9 2013h15.6l-7.8 13.5zM1510.8 2013.4h15.6l-7.8 13.5zM1514.8 2013.8h15.6l-7.8 13.5zM1518.7 2014.1h15.6l-7.8 13.5zM1522.7 2014.4h15.6l-7.8 13.5zM1526.6 2014.8h15.6l-7.8 13.5zM1530.6 2015.1h15.6l-7.8 13.5zM1534.5 2015.4h15.6l-7.8 13.5zM1538.5 2015.7h15.6l-7.8 13.5zM1542.4 2016h15.6l-7.8 13.5zM1546.4 2016.3h15.6l-7.8 13.5zM1550.4 2016.6h15.6l-7.8 13.5zM1554.3 2016.9h15.6l-7.8 13.5zM1558.2 2017.1h15.6l-7.8 13.5zM1562.2 2017.4h15.6l-7.8 13.5zM1566.1 2017.6h15.6l-7.8 13.5zM1570.1 2017.9h15.6l-7.8 13.5zM1574 2018.1h15.6l-7.8 13.5zM1578 2018.4h15.6l-7.8 13.5zM1581.9 2018.6h15.6l-7.8 13.5zM1585.9 2018.8h15.6l-7.8 13.5zM1589.8 2019h15.6l-7.8 13.5zM1593.7 2019.2h15.6l-7.8 13.5zM1597.7 2019.5h15.6l-7.8 13.5zM1601.6 2019.7h15.6l-7.8 13.5zM1605.6 2019.9h15.6l-7.8 13.5zM1609.5 2020.1h15.6l-7.8 13.5zM1613.5 2020.3h15.6l-7.8 13.5zM1617.4 2020.5h15.6l-7.8 13.5zM1621.4 2020.7h15.6l-7.8 13.5zM1625.3 2020.9h15.6l-7.8 13.5zM1629.2 2021.1h15.6l-7.8 13.5zM1633.2 2021.3h15.6l-7.8 13.5zM1637.1 2021.6h15.6l-7.8 13.5zM1641.1 2021.8h15.6l-7.8 13.5zM1645 2022h15.6l-7.8 13.5zM1649 2022.2h15.6l-7.8 13.5zM1652.9 2022.4h15.6l-7.8 13.5zM1656.9 2022.6h15.6l-7.8 13.5zM1660.8 2022.8h15.6l-7.8 13.5zM1664.7 2023h15.6l-7.8 13.5zM1668.7 2023.2h15.6l-7.8 13.5zM1672.6 2023.4h15.6l-7.8 13.5zM1676.6 2023.6h15.6l-7.8 13.5zM1680.5 2023.8h15.6l-7.8 13.5zM1684.5 2024h15.6l-7.8 13.5zM1688.4 2024.2h15.6l-7.8 13.5zM1692.4 2024.4h15.6l-7.8 13.5zM1696.3 2024.6h15.6l-7.8 13.5zM1700.2 2024.8h15.6l-7.8 13.5zM1704 2025h15.6l-7.8 13.5zM1707.9 2025.2h15.6l-7.8 13.5zM1711.7 2025.4h15.6l-7.8 13.5zM1715.6 2025.6h15.6l-7.8 13.5zM1719.4 2025.8h15.6l-7.8 13.5zM1723.3 2026h15.6l-7.8 13.5zM1727.1 2026.3h15.6l-7.8 13.5zM1731 2026.5h15.6l-7.8 13.5zM1734.8 2026.7h15.6l-7.8 13.5zM1738.7 2026.9h15.6l-7.8 13.5zM1742.5 2027.1h15.6l-7.8 13.5zM1746.4 2027.4h15.6l-7.8 13.5zM1750.2 2027.6h15.6l-7.8 13.5zM1754.1 2027.8h15.6l-7.8 13.5zM1757.9 2028h15.6l-7.8 13.5zM1761.8 2028.2h15.6l-7.8 13.5zM1765.6 2028.4h15.6l-7.8 13.5zM1769.5 2028.6h15.6l-7.8 13.5zM1773.3 2028.8h15.6l-7.8 13.5zM1777.2 2028.9h15.6l-7.8 13.5zM1781.1 2029.1h15.6l-7.8 13.5zM1784.9 2029.3h15.6l-7.8 13.5zM1788.8 2029.5h15.6l-7.8 13.5zM1792.6 2029.6h15.6l-7.8 13.5zM1796.6 2029.8h15.6l-7.8 13.5zM1800.6 2029.9h15.6l-7.8 13.5zM1804.6 2030h15.6l-7.8 13.5zM1808.6 2030.2h15.6l-7.8 13.5zM1812.5 2030.3h15.6l-7.8 13.5zM1816.5 2030.4h15.6l-7.8 13.5zM1820.5 2030.6h15.6l-7.8 13.5zM1824.5 2030.7h15.6l-7.8 13.5zM1828.5 2030.8h15.6l-7.8 13.5zM1832.5 2030.9h15.6l-7.8 13.5zM1836.5 2031h15.6l-7.8 13.5zM1840.5 2031.2h15.6l-7.8 13.5zM1844.4 2031.3h15.6l-7.8 13.5zM1848.4 2031.4h15.6l-7.8 13.5zM1852.4 2031.5h15.6l-7.8 13.5zM1856.4 2031.6h15.6l-7.8 13.5zM1860.4 2031.7h15.6l-7.8 13.5zM1864.4 2031.8h15.6l-7.8 13.5zM1868.3 2032h15.6l-7.8 13.5zM1872.3 2032.1h15.6l-7.8 13.5zM1876.2 2032.2h15.6l-7.8 13.5zM1880.2 2032.3h15.6l-7.8 13.5zM1884.1 2032.4h15.6l-7.8 13.5zM1888 2032.5h15.6l-7.8 13.5zM1892 2032.6h15.6l-7.8 13.5zM1895.9 2032.7h15.6l-7.8 13.5zM1899.9 2032.9h15.6l-7.8 13.5zM1903.8 2033h15.6l-7.8 13.5zM1907.8 2033.1h15.6l-7.8 13.5zM1911.7 2033.2h15.6l-7.8 13.5zM1915.7 2033.3h15.6l-7.8 13.5zM1919.6 2033.4h15.6l-7.8 13.5zM1923.5 2033.5h15.6l-7.8 13.5zM1927.5 2033.6h15.6l-7.8 13.5zM1931.4 2033.7h15.6l-7.8 13.5zM1935.4 2033.8h15.6l-7.8 13.5zM1939.2 2033.9h15.6l-7.8 13.5zM1943.1 2034h15.6l-7.8 13.5zM1946.9 2034.1h15.6l-7.8 13.5zM1950.8 2034.2h15.6l-7.8 13.5zM1954.7 2034.3h15.6l-7.8 13.5zM1958.5 2034.4h15.6l-7.8 13.5zM1962.4 2034.5h15.6l-7.8 13.5zM1966.2 2034.6h15.6l-7.8 13.5zM1970.1 2034.7h15.6l-7.8 13.5zM1974 2034.8h15.6l-7.8 13.5zM1977.8 2034.9h15.6l-7.8 13.5zM1981.7 2035h15.6l-7.8 13.5zM1985.5 2035.1h15.6l-7.8 13.5zM1989.4 2035.2h15.6l-7.8 13.5zM1993.3 2035.3h15.6l-7.8 13.5zM1997.1 2035.4h15.6l-7.8 13.5zM2001 2035.5h15.6l-7.8 13.5zM2004.8 2035.6h15.6l-7.8 13.5zM2008.7 2035.7h15.6l-7.8 13.5zM2012.5 2035.8h15.6l-7.8 13.5zM2016.4 2035.9h15.6l-7.8 13.5zM2020.3 2036h15.6l-7.8 13.5zM2024.1 2036h15.6l-7.8 13.5z"/></g>
<rect x="1768.0" y="1271.1" width="241" height="175.7" fill="#fff" stroke="#262626" stroke-width="1.9"/>
<path stroke="#0000ff" stroke-width="2.6" fill="none" d="M1781.2 1303.2H1853.8M1809.8 1303.2a6.75 6.75 0 1 0 13.5 0a6.75 6.75 0 1 0 -13.5 0z"/>
<text class="lg" transform="translate(1860.6 1319.7) scale(1.0 1.065)">AR=0.2</text>
<path stroke="#ff0000" stroke-width="2.6" fill="none" d="M1781.2 1358.9H1853.8M1810.8 1353.2h11.5v11.5h-11.5z"/>
<text class="lg" transform="translate(1860.6 1375.4) scale(1.0 1.065)">AR=0.5</text>
<path stroke="#ff00ff" stroke-width="2.6" fill="none" d="M1781.2 1414.9H1853.8M1808.7 1409.6h15.6l-7.8 13.5z"/>
<text class="lg" transform="translate(1860.6 1431.4) scale(1.0 1.065)">AR=0.8</text>

<text class="cap" y="1154"><tspan x="866">(</tspan><tspan class="b" x="892">a</tspan><tspan x="926">)</tspan><tspan x="971">Rew</tspan><tspan x="1140">=</tspan><tspan x="1201">0</tspan></text>
<text class="cap" y="2340"><tspan x="793">(</tspan><tspan class="b" x="819">b</tspan><tspan x="862">)</tspan><tspan x="908">Rew</tspan><tspan x="1075">=</tspan><tspan x="1143">−</tspan><tspan x="1200">600</tspan></text>

</svg>
</body>
</html>
